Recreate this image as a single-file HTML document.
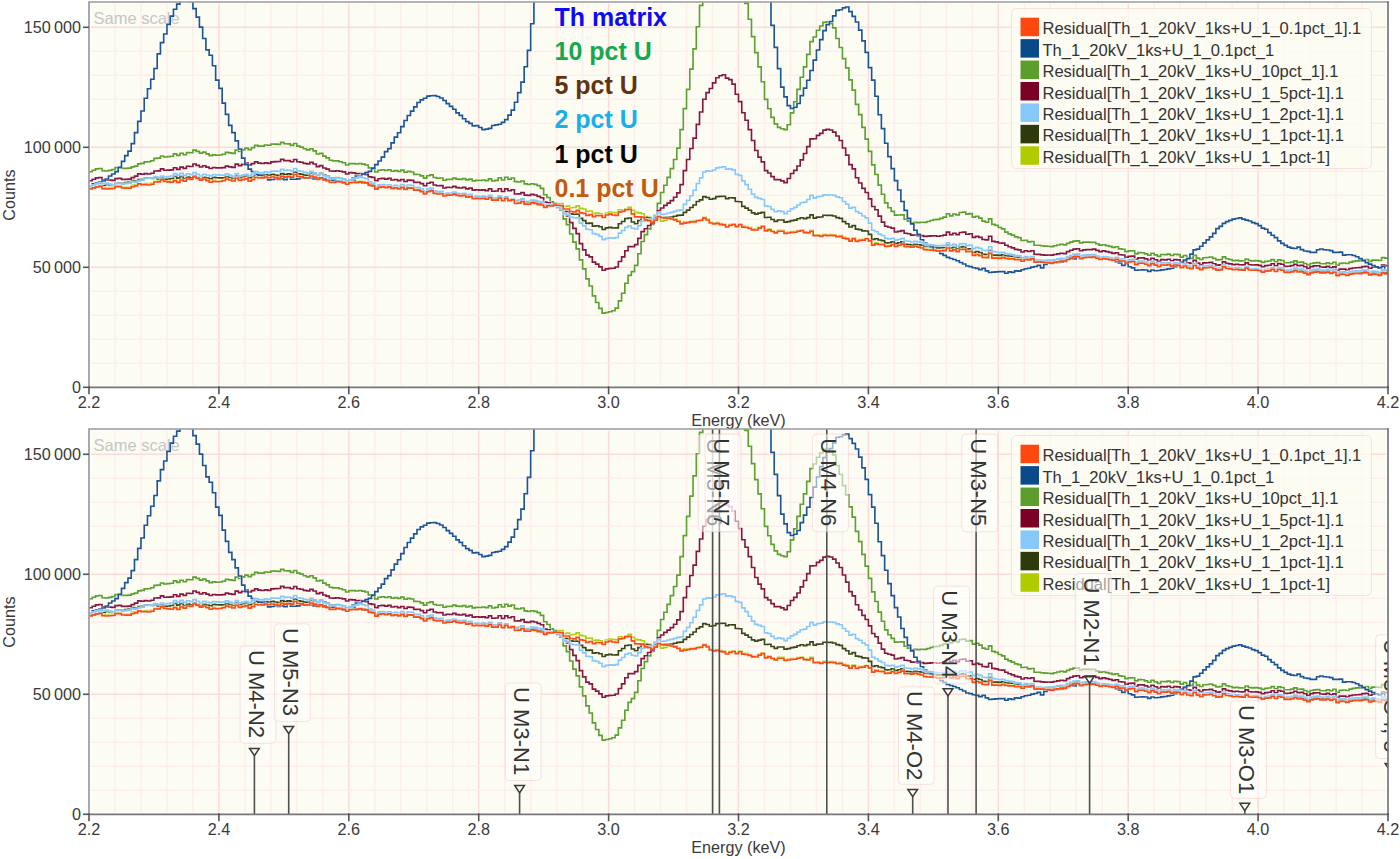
<!DOCTYPE html>
<html><head><meta charset="utf-8"><title>Spectrum</title>
<style>html,body{margin:0;padding:0;background:#fff;} svg{display:block;}</style></head>
<body><svg width="1400" height="859" viewBox="0 0 1400 859">
<clipPath id="clip0"><rect x="89.0" y="2.0" width="1299.0" height="385.3"/></clipPath>
<clipPath id="gclip0"><rect x="90.8" y="3.8" width="1295.4" height="381.7"/></clipPath>
<rect x="90.8" y="3.8" width="1295.4" height="381.7" fill="#FCFCF2"/>
<g clip-path="url(#gclip0)"><line x1="114.98" y1="2.0" x2="114.98" y2="387.3" stroke="#FCEEEE" stroke-width="1.5"/><line x1="140.96" y1="2.0" x2="140.96" y2="387.3" stroke="#FCEEEE" stroke-width="1.5"/><line x1="166.94" y1="2.0" x2="166.94" y2="387.3" stroke="#FCEEEE" stroke-width="1.5"/><line x1="192.92" y1="2.0" x2="192.92" y2="387.3" stroke="#FCEEEE" stroke-width="1.5"/><line x1="218.90" y1="2.0" x2="218.90" y2="387.3" stroke="#FCDADA" stroke-width="1.5"/><line x1="244.88" y1="2.0" x2="244.88" y2="387.3" stroke="#FCEEEE" stroke-width="1.5"/><line x1="270.86" y1="2.0" x2="270.86" y2="387.3" stroke="#FCEEEE" stroke-width="1.5"/><line x1="296.84" y1="2.0" x2="296.84" y2="387.3" stroke="#FCEEEE" stroke-width="1.5"/><line x1="322.82" y1="2.0" x2="322.82" y2="387.3" stroke="#FCEEEE" stroke-width="1.5"/><line x1="348.80" y1="2.0" x2="348.80" y2="387.3" stroke="#FCDADA" stroke-width="1.5"/><line x1="374.78" y1="2.0" x2="374.78" y2="387.3" stroke="#FCEEEE" stroke-width="1.5"/><line x1="400.76" y1="2.0" x2="400.76" y2="387.3" stroke="#FCEEEE" stroke-width="1.5"/><line x1="426.74" y1="2.0" x2="426.74" y2="387.3" stroke="#FCEEEE" stroke-width="1.5"/><line x1="452.72" y1="2.0" x2="452.72" y2="387.3" stroke="#FCEEEE" stroke-width="1.5"/><line x1="478.70" y1="2.0" x2="478.70" y2="387.3" stroke="#FCDADA" stroke-width="1.5"/><line x1="504.68" y1="2.0" x2="504.68" y2="387.3" stroke="#FCEEEE" stroke-width="1.5"/><line x1="530.66" y1="2.0" x2="530.66" y2="387.3" stroke="#FCEEEE" stroke-width="1.5"/><line x1="556.64" y1="2.0" x2="556.64" y2="387.3" stroke="#FCEEEE" stroke-width="1.5"/><line x1="582.62" y1="2.0" x2="582.62" y2="387.3" stroke="#FCEEEE" stroke-width="1.5"/><line x1="608.60" y1="2.0" x2="608.60" y2="387.3" stroke="#FCDADA" stroke-width="1.5"/><line x1="634.58" y1="2.0" x2="634.58" y2="387.3" stroke="#FCEEEE" stroke-width="1.5"/><line x1="660.56" y1="2.0" x2="660.56" y2="387.3" stroke="#FCEEEE" stroke-width="1.5"/><line x1="686.54" y1="2.0" x2="686.54" y2="387.3" stroke="#FCEEEE" stroke-width="1.5"/><line x1="712.52" y1="2.0" x2="712.52" y2="387.3" stroke="#FCEEEE" stroke-width="1.5"/><line x1="738.50" y1="2.0" x2="738.50" y2="387.3" stroke="#FCDADA" stroke-width="1.5"/><line x1="764.48" y1="2.0" x2="764.48" y2="387.3" stroke="#FCEEEE" stroke-width="1.5"/><line x1="790.46" y1="2.0" x2="790.46" y2="387.3" stroke="#FCEEEE" stroke-width="1.5"/><line x1="816.44" y1="2.0" x2="816.44" y2="387.3" stroke="#FCEEEE" stroke-width="1.5"/><line x1="842.42" y1="2.0" x2="842.42" y2="387.3" stroke="#FCEEEE" stroke-width="1.5"/><line x1="868.40" y1="2.0" x2="868.40" y2="387.3" stroke="#FCDADA" stroke-width="1.5"/><line x1="894.38" y1="2.0" x2="894.38" y2="387.3" stroke="#FCEEEE" stroke-width="1.5"/><line x1="920.36" y1="2.0" x2="920.36" y2="387.3" stroke="#FCEEEE" stroke-width="1.5"/><line x1="946.34" y1="2.0" x2="946.34" y2="387.3" stroke="#FCEEEE" stroke-width="1.5"/><line x1="972.32" y1="2.0" x2="972.32" y2="387.3" stroke="#FCEEEE" stroke-width="1.5"/><line x1="998.30" y1="2.0" x2="998.30" y2="387.3" stroke="#FCDADA" stroke-width="1.5"/><line x1="1024.28" y1="2.0" x2="1024.28" y2="387.3" stroke="#FCEEEE" stroke-width="1.5"/><line x1="1050.26" y1="2.0" x2="1050.26" y2="387.3" stroke="#FCEEEE" stroke-width="1.5"/><line x1="1076.24" y1="2.0" x2="1076.24" y2="387.3" stroke="#FCEEEE" stroke-width="1.5"/><line x1="1102.22" y1="2.0" x2="1102.22" y2="387.3" stroke="#FCEEEE" stroke-width="1.5"/><line x1="1128.20" y1="2.0" x2="1128.20" y2="387.3" stroke="#FCDADA" stroke-width="1.5"/><line x1="1154.18" y1="2.0" x2="1154.18" y2="387.3" stroke="#FCEEEE" stroke-width="1.5"/><line x1="1180.16" y1="2.0" x2="1180.16" y2="387.3" stroke="#FCEEEE" stroke-width="1.5"/><line x1="1206.14" y1="2.0" x2="1206.14" y2="387.3" stroke="#FCEEEE" stroke-width="1.5"/><line x1="1232.12" y1="2.0" x2="1232.12" y2="387.3" stroke="#FCEEEE" stroke-width="1.5"/><line x1="1258.10" y1="2.0" x2="1258.10" y2="387.3" stroke="#FCDADA" stroke-width="1.5"/><line x1="1284.08" y1="2.0" x2="1284.08" y2="387.3" stroke="#FCEEEE" stroke-width="1.5"/><line x1="1310.06" y1="2.0" x2="1310.06" y2="387.3" stroke="#FCEEEE" stroke-width="1.5"/><line x1="1336.04" y1="2.0" x2="1336.04" y2="387.3" stroke="#FCEEEE" stroke-width="1.5"/><line x1="1362.02" y1="2.0" x2="1362.02" y2="387.3" stroke="#FCEEEE" stroke-width="1.5"/><line x1="89.0" y1="363.30" x2="1388.0" y2="363.30" stroke="#FCEEEE" stroke-width="1.5"/><line x1="89.0" y1="339.30" x2="1388.0" y2="339.30" stroke="#FCEEEE" stroke-width="1.5"/><line x1="89.0" y1="315.30" x2="1388.0" y2="315.30" stroke="#FCEEEE" stroke-width="1.5"/><line x1="89.0" y1="291.30" x2="1388.0" y2="291.30" stroke="#FCEEEE" stroke-width="1.5"/><line x1="89.0" y1="267.30" x2="1388.0" y2="267.30" stroke="#FCDADA" stroke-width="1.5"/><line x1="89.0" y1="243.30" x2="1388.0" y2="243.30" stroke="#FCEEEE" stroke-width="1.5"/><line x1="89.0" y1="219.30" x2="1388.0" y2="219.30" stroke="#FCEEEE" stroke-width="1.5"/><line x1="89.0" y1="195.30" x2="1388.0" y2="195.30" stroke="#FCEEEE" stroke-width="1.5"/><line x1="89.0" y1="171.30" x2="1388.0" y2="171.30" stroke="#FCEEEE" stroke-width="1.5"/><line x1="89.0" y1="147.30" x2="1388.0" y2="147.30" stroke="#FCDADA" stroke-width="1.5"/><line x1="89.0" y1="123.30" x2="1388.0" y2="123.30" stroke="#FCEEEE" stroke-width="1.5"/><line x1="89.0" y1="99.30" x2="1388.0" y2="99.30" stroke="#FCEEEE" stroke-width="1.5"/><line x1="89.0" y1="75.30" x2="1388.0" y2="75.30" stroke="#FCEEEE" stroke-width="1.5"/><line x1="89.0" y1="51.30" x2="1388.0" y2="51.30" stroke="#FCEEEE" stroke-width="1.5"/><line x1="89.0" y1="27.30" x2="1388.0" y2="27.30" stroke="#FCDADA" stroke-width="1.5"/><line x1="89.0" y1="3.30" x2="1388.0" y2="3.30" stroke="#FCEEEE" stroke-width="1.5"/></g>
<text x="93.5" y="24" font-family="Liberation Sans, sans-serif" font-size="16.5" fill="#C6C6C6">Same scale</text>
<g clip-path="url(#clip0)"><path d="M89.00,188.15H92.25V187.00H95.50V186.03H98.74V186.53H101.99V188.41H105.24V187.81H108.48V187.38H111.73V187.78H114.98V186.09H118.23V185.96H121.47V187.07H124.72V187.31H127.97V187.21H131.22V185.15H134.47V184.73H137.71V183.78H140.96V184.41H144.21V183.58H147.45V183.65H150.70V183.33H153.95V181.37H157.20V180.83H160.44V179.33H163.69V180.90H166.94V181.09H170.19V181.27H173.44V179.79H176.68V181.61H179.93V179.19H183.18V180.35H186.43V178.15H189.67V178.48H192.92V176.29H196.17V177.68H199.42V179.28H202.66V178.19H205.91V179.91H209.16V181.31H212.41V180.41H215.65V181.00H218.90V180.72H222.15V179.95H225.40V178.38H228.64V179.26H231.89V180.24H235.14V177.54H238.38V179.64H241.63V178.87H244.88V178.05H248.13V180.24H251.38V178.80H254.62V176.62H257.87V177.26H261.12V177.13H264.37V176.20H267.61V176.91H270.86V176.20H274.11V176.83H277.36V177.50H280.60V175.59H283.85V176.38H287.10V175.78H290.35V176.31H293.59V173.70H296.84V175.68H300.09V176.02H303.34V177.01H306.58V177.32H309.83V175.32H313.08V176.23H316.32V178.49H319.57V177.03H322.82V179.03H326.07V179.90H329.31V181.59H332.56V181.50H335.81V180.95H339.06V181.29H342.31V181.68H345.55V183.37H348.80V181.67H352.05V181.78H355.30V182.00H358.54V181.17H361.79V181.58H365.04V182.24H368.29V184.38H371.53V184.81H374.78V188.28H378.03V186.52H381.27V186.01H384.52V186.78H387.77V186.07H391.02V187.58H394.26V186.94H397.51V187.86H400.76V186.58H404.01V188.49H407.25V187.12H410.50V187.30H413.75V189.37H417.00V189.35H420.25V190.84H423.49V193.22H426.74V190.93H429.99V190.05H433.24V192.67H436.48V193.24H439.73V192.94H442.98V195.18H446.23V194.33H449.47V194.47H452.72V193.36H455.97V194.56H459.21V195.07H462.46V194.55H465.71V196.24H468.96V195.79H472.20V197.92H475.45V197.61H478.70V197.87H481.95V197.56H485.19V198.25H488.44V196.81H491.69V199.40H494.94V199.35H498.19V197.18H501.43V199.91H504.68V197.69H507.93V200.22H511.18V199.19H514.42V201.56H517.67V202.08H520.92V200.79H524.16V203.26H527.41V203.40H530.66V202.33H533.91V202.75H537.15V203.64H540.40V204.12H543.65V206.56H546.90V204.76H550.14V204.59H553.39V203.40H556.64V203.50H559.89V203.53H563.13V206.65H566.38V206.06H569.63V207.72H572.88V207.51H576.12V205.94H579.37V208.37H582.62V208.97H585.87V211.28H589.12V211.01H592.36V213.67H595.61V213.08H598.86V213.77H602.11V215.76H605.35V213.03H608.60V212.01H611.85V212.64H615.10V212.94H618.34V209.70H621.59V210.03H624.84V208.84H628.09V207.42H631.33V210.23H634.58V212.42H637.83V212.81H641.08V213.71H644.32V216.64H647.57V217.25H650.82V218.57H654.07V218.51H657.31V218.87H660.56V221.09H663.81V220.30H667.05V219.18H670.30V218.53H673.55V218.82H676.80V220.90H680.04V222.84H683.29V221.87H686.54V221.74H689.79V221.20H693.03V220.99H696.28V220.12H699.53V219.94H702.78V217.36H706.02V219.08H709.27V222.24H712.52V223.01H715.77V222.54H719.01V223.55H722.26V224.02H725.51V226.23H728.76V224.62H732.00V223.70H735.25V225.87H738.50V223.89H741.75V226.39H745.00V226.63H748.24V227.54H751.49V229.00H754.74V229.17H757.99V227.32H761.23V225.86H764.48V230.13H767.73V229.06H770.98V230.70H774.22V232.18H777.47V230.41H780.72V230.37H783.97V232.61H787.21V232.17H790.46V231.55H793.71V231.55H796.96V230.53H800.20V229.91H803.45V231.81H806.70V232.05H809.95V230.39H813.19V234.90H816.44V234.82H819.69V235.50H822.93V234.41H826.18V234.80H829.43V234.56H832.68V234.79H835.92V236.05H839.17V235.57H842.42V237.22H845.67V238.02H848.91V240.32H852.16V238.12H855.41V240.60H858.66V239.51H861.90V239.28H865.15V238.24H868.40V240.60H871.65V244.22H874.89V242.93H878.14V243.66H881.39V243.91H884.64V245.78H887.88V245.24H891.13V243.87H894.38V245.65H897.63V244.53H900.88V243.37H904.12V245.82H907.37V245.90H910.62V246.34H913.87V245.47H917.11V246.37H920.36V247.13H923.61V248.78H926.86V249.22H930.10V249.28H933.35V249.44H936.60V250.19H939.85V250.01H943.09V249.75H946.34V247.20H949.59V250.09H952.84V249.07H956.08V250.75H959.33V248.74H962.58V248.60H965.83V250.96H969.07V250.63H972.32V254.55H975.57V253.64H978.82V254.71H982.06V256.66H985.31V256.81H988.56V252.66H991.80V257.30H995.05V257.28H998.30V257.63H1001.55V256.80H1004.79V257.73H1008.04V258.02H1011.29V258.12H1014.54V258.94H1017.78V258.84H1021.03V260.43H1024.28V258.75H1027.53V259.10H1030.78V258.03H1034.02V261.32H1037.27V261.04H1040.52V261.40H1043.76V261.94H1047.01V261.96H1050.26V262.00H1053.51V261.39H1056.76V261.08H1060.00V260.37H1063.25V260.60H1066.50V258.70H1069.74V257.18H1072.99V256.23H1076.24V255.88H1079.49V257.77H1082.74V256.90H1085.98V256.74H1089.23V256.62H1092.48V256.24H1095.72V257.49H1098.97V258.65H1102.22V257.84H1105.47V258.38H1108.72V258.83H1111.96V259.59H1115.21V258.54H1118.46V260.25H1121.70V260.16H1124.95V262.17H1128.20V261.08H1131.45V260.72H1134.69V263.79H1137.94V262.42H1141.19V262.44H1144.44V263.41H1147.68V264.76H1150.93V262.82H1154.18V264.36H1157.43V265.99H1160.67V264.16H1163.92V264.43H1167.17V263.89H1170.42V265.34H1173.66V264.15H1176.91V264.50H1180.16V266.88H1183.41V265.15H1186.65V267.17H1189.90V267.81H1193.15V264.73H1196.40V267.39H1199.64V268.87H1202.89V267.14H1206.14V266.99H1209.39V266.49H1212.63V267.92H1215.88V269.38H1219.13V269.06H1222.38V266.08H1225.62V267.68H1228.87V268.11H1232.12V268.94H1235.37V268.60H1238.62V269.08H1241.86V269.25H1245.11V267.36H1248.36V269.15H1251.61V269.48H1254.85V269.33H1258.10V269.99H1261.35V271.35H1264.60V270.34H1267.84V270.02H1271.09V268.62H1274.34V270.66H1277.59V268.74H1280.83V269.40H1284.08V271.61H1287.33V271.65H1290.58V271.05H1293.82V269.80H1297.07V271.15H1300.32V271.00H1303.57V272.30H1306.81V273.87H1310.06V272.13H1313.31V271.32H1316.56V271.06H1319.80V272.14H1323.05V272.11H1326.30V271.31H1329.55V272.53H1332.79V271.46H1336.04V274.98H1339.29V273.61H1342.54V273.70H1345.78V274.57H1349.03V273.35H1352.28V272.85H1355.53V272.70H1358.77V272.83H1362.02V272.04H1365.27V271.99H1368.52V274.08H1371.76V273.28H1375.01V273.72H1378.26V274.51H1381.51V272.12H1384.75V273.02H1388.00" fill="none" stroke="rgba(255,255,255,0.55)" stroke-width="2.8"/><path d="M89.00,188.15H92.25V187.00H95.50V186.03H98.74V186.53H101.99V188.41H105.24V187.81H108.48V187.38H111.73V187.78H114.98V186.09H118.23V185.96H121.47V187.07H124.72V187.31H127.97V187.21H131.22V185.15H134.47V184.73H137.71V183.78H140.96V184.41H144.21V183.58H147.45V183.65H150.70V183.33H153.95V181.37H157.20V180.83H160.44V179.33H163.69V180.90H166.94V181.09H170.19V181.27H173.44V179.79H176.68V181.61H179.93V179.19H183.18V180.35H186.43V178.15H189.67V178.48H192.92V176.29H196.17V177.68H199.42V179.28H202.66V178.19H205.91V179.91H209.16V181.31H212.41V180.41H215.65V181.00H218.90V180.72H222.15V179.95H225.40V178.38H228.64V179.26H231.89V180.24H235.14V177.54H238.38V179.64H241.63V178.87H244.88V178.05H248.13V180.24H251.38V178.80H254.62V176.62H257.87V177.26H261.12V177.13H264.37V176.20H267.61V176.91H270.86V176.20H274.11V176.83H277.36V177.50H280.60V175.59H283.85V176.38H287.10V175.78H290.35V176.31H293.59V173.70H296.84V175.68H300.09V176.02H303.34V177.01H306.58V177.32H309.83V175.32H313.08V176.23H316.32V178.49H319.57V177.03H322.82V179.03H326.07V179.90H329.31V181.59H332.56V181.50H335.81V180.95H339.06V181.29H342.31V181.68H345.55V183.37H348.80V181.67H352.05V181.78H355.30V182.00H358.54V181.17H361.79V181.58H365.04V182.24H368.29V184.38H371.53V184.81H374.78V188.28H378.03V186.52H381.27V186.01H384.52V186.78H387.77V186.07H391.02V187.58H394.26V186.94H397.51V187.86H400.76V186.58H404.01V188.49H407.25V187.12H410.50V187.30H413.75V189.37H417.00V189.35H420.25V190.84H423.49V193.22H426.74V190.93H429.99V190.05H433.24V192.67H436.48V193.24H439.73V192.94H442.98V195.18H446.23V194.33H449.47V194.47H452.72V193.36H455.97V194.56H459.21V195.07H462.46V194.55H465.71V196.24H468.96V195.79H472.20V197.92H475.45V197.61H478.70V197.87H481.95V197.56H485.19V198.25H488.44V196.81H491.69V199.40H494.94V199.35H498.19V197.18H501.43V199.91H504.68V197.69H507.93V200.22H511.18V199.19H514.42V201.56H517.67V202.08H520.92V200.79H524.16V203.26H527.41V203.40H530.66V202.33H533.91V202.75H537.15V203.64H540.40V204.12H543.65V206.56H546.90V204.76H550.14V204.59H553.39V203.40H556.64V203.50H559.89V203.53H563.13V206.65H566.38V206.06H569.63V207.72H572.88V207.51H576.12V205.94H579.37V208.37H582.62V208.97H585.87V211.28H589.12V211.01H592.36V213.67H595.61V213.08H598.86V213.77H602.11V215.76H605.35V213.03H608.60V212.01H611.85V212.64H615.10V212.94H618.34V209.70H621.59V210.03H624.84V208.84H628.09V207.42H631.33V210.23H634.58V212.42H637.83V212.81H641.08V213.71H644.32V216.64H647.57V217.25H650.82V218.57H654.07V218.51H657.31V218.87H660.56V221.09H663.81V220.30H667.05V219.18H670.30V218.53H673.55V218.82H676.80V220.90H680.04V222.84H683.29V221.87H686.54V221.74H689.79V221.20H693.03V220.99H696.28V220.12H699.53V219.94H702.78V217.36H706.02V219.08H709.27V222.24H712.52V223.01H715.77V222.54H719.01V223.55H722.26V224.02H725.51V226.23H728.76V224.62H732.00V223.70H735.25V225.87H738.50V223.89H741.75V226.39H745.00V226.63H748.24V227.54H751.49V229.00H754.74V229.17H757.99V227.32H761.23V225.86H764.48V230.13H767.73V229.06H770.98V230.70H774.22V232.18H777.47V230.41H780.72V230.37H783.97V232.61H787.21V232.17H790.46V231.55H793.71V231.55H796.96V230.53H800.20V229.91H803.45V231.81H806.70V232.05H809.95V230.39H813.19V234.90H816.44V234.82H819.69V235.50H822.93V234.41H826.18V234.80H829.43V234.56H832.68V234.79H835.92V236.05H839.17V235.57H842.42V237.22H845.67V238.02H848.91V240.32H852.16V238.12H855.41V240.60H858.66V239.51H861.90V239.28H865.15V238.24H868.40V240.60H871.65V244.22H874.89V242.93H878.14V243.66H881.39V243.91H884.64V245.78H887.88V245.24H891.13V243.87H894.38V245.65H897.63V244.53H900.88V243.37H904.12V245.82H907.37V245.90H910.62V246.34H913.87V245.47H917.11V246.37H920.36V247.13H923.61V248.78H926.86V249.22H930.10V249.28H933.35V249.44H936.60V250.19H939.85V250.01H943.09V249.75H946.34V247.20H949.59V250.09H952.84V249.07H956.08V250.75H959.33V248.74H962.58V248.60H965.83V250.96H969.07V250.63H972.32V254.55H975.57V253.64H978.82V254.71H982.06V256.66H985.31V256.81H988.56V252.66H991.80V257.30H995.05V257.28H998.30V257.63H1001.55V256.80H1004.79V257.73H1008.04V258.02H1011.29V258.12H1014.54V258.94H1017.78V258.84H1021.03V260.43H1024.28V258.75H1027.53V259.10H1030.78V258.03H1034.02V261.32H1037.27V261.04H1040.52V261.40H1043.76V261.94H1047.01V261.96H1050.26V262.00H1053.51V261.39H1056.76V261.08H1060.00V260.37H1063.25V260.60H1066.50V258.70H1069.74V257.18H1072.99V256.23H1076.24V255.88H1079.49V257.77H1082.74V256.90H1085.98V256.74H1089.23V256.62H1092.48V256.24H1095.72V257.49H1098.97V258.65H1102.22V257.84H1105.47V258.38H1108.72V258.83H1111.96V259.59H1115.21V258.54H1118.46V260.25H1121.70V260.16H1124.95V262.17H1128.20V261.08H1131.45V260.72H1134.69V263.79H1137.94V262.42H1141.19V262.44H1144.44V263.41H1147.68V264.76H1150.93V262.82H1154.18V264.36H1157.43V265.99H1160.67V264.16H1163.92V264.43H1167.17V263.89H1170.42V265.34H1173.66V264.15H1176.91V264.50H1180.16V266.88H1183.41V265.15H1186.65V267.17H1189.90V267.81H1193.15V264.73H1196.40V267.39H1199.64V268.87H1202.89V267.14H1206.14V266.99H1209.39V266.49H1212.63V267.92H1215.88V269.38H1219.13V269.06H1222.38V266.08H1225.62V267.68H1228.87V268.11H1232.12V268.94H1235.37V268.60H1238.62V269.08H1241.86V269.25H1245.11V267.36H1248.36V269.15H1251.61V269.48H1254.85V269.33H1258.10V269.99H1261.35V271.35H1264.60V270.34H1267.84V270.02H1271.09V268.62H1274.34V270.66H1277.59V268.74H1280.83V269.40H1284.08V271.61H1287.33V271.65H1290.58V271.05H1293.82V269.80H1297.07V271.15H1300.32V271.00H1303.57V272.30H1306.81V273.87H1310.06V272.13H1313.31V271.32H1316.56V271.06H1319.80V272.14H1323.05V272.11H1326.30V271.31H1329.55V272.53H1332.79V271.46H1336.04V274.98H1339.29V273.61H1342.54V273.70H1345.78V274.57H1349.03V273.35H1352.28V272.85H1355.53V272.70H1358.77V272.83H1362.02V272.04H1365.27V271.99H1368.52V274.08H1371.76V273.28H1375.01V273.72H1378.26V274.51H1381.51V272.12H1384.75V273.02H1388.00" fill="none" stroke="#ACCE10" stroke-width="1.65"/><path d="M89.00,188.20H92.25V187.88H95.50V186.78H98.74V185.65H101.99V185.48H105.24V184.45H108.48V184.85H111.73V185.48H114.98V183.32H118.23V182.72H121.47V183.24H124.72V182.67H127.97V182.01H131.22V180.67H134.47V181.10H137.71V179.62H140.96V179.22H144.21V177.84H147.45V178.13H150.70V178.43H153.95V177.72H157.20V178.98H160.44V177.90H163.69V179.16H166.94V178.95H170.19V178.54H173.44V176.36H176.68V178.06H179.93V176.43H183.18V178.51H186.43V176.97H189.67V177.86H192.92V175.93H196.17V177.46H199.42V179.09H202.66V177.35H205.91V177.99H209.16V178.76H212.41V177.37H215.65V177.73H218.90V177.85H222.15V177.72H225.40V176.46H228.64V177.52H231.89V178.53H235.14V175.73H238.38V177.67H241.63V176.76H244.88V175.82H248.13V177.92H251.38V176.54H254.62V174.50H257.87V175.38H261.12V175.58H264.37V174.67H267.61V175.26H270.86V174.43H274.11V174.98H277.36V175.61H280.60V173.69H283.85V174.48H287.10V173.88H290.35V174.41H293.59V171.80H296.84V173.78H300.09V174.12H303.34V175.11H306.58V175.33H309.83V173.15H313.08V173.78H316.32V175.35H319.57V173.34H322.82V175.17H326.07V176.02H329.31V177.81H332.56V177.90H335.81V177.62H339.06V178.23H342.31V178.97H345.55V181.19H348.80V180.02H352.05V180.71H355.30V181.95H358.54V182.20H361.79V182.83H365.04V182.68H368.29V184.30H371.53V184.47H374.78V187.88H378.03V186.40H381.27V186.24H384.52V187.29H387.77V186.80H391.02V188.46H394.26V187.90H397.51V188.81H400.76V187.49H404.01V189.32H407.25V187.84H410.50V187.87H413.75V189.76H417.00V189.55H420.25V190.84H423.49V193.03H426.74V190.58H429.99V189.58H433.24V192.15H436.48V192.72H439.73V192.44H442.98V194.69H446.23V193.88H449.47V194.04H452.72V192.97H455.97V194.17H459.21V194.62H462.46V193.99H465.71V195.53H468.96V194.87H472.20V196.87H475.45V196.52H478.70V196.78H481.95V196.51H485.19V197.28H488.44V195.92H491.69V198.61H494.94V198.71H498.19V196.79H501.43V199.78H504.68V197.73H507.93V200.24H511.18V199.03H514.42V200.72H517.67V200.38H520.92V199.15H524.16V201.96H527.41V202.49H530.66V201.58H533.91V202.14H537.15V203.20H540.40V203.39H543.65V205.93H546.90V204.78H550.14V205.42H553.39V204.99H556.64V205.61H559.89V206.77H563.13V211.32H566.38V211.63H569.63V213.81H572.88V214.27H576.12V214.09H579.37V218.44H582.62V220.56H585.87V223.32H589.12V223.08H592.36V226.05H595.61V225.75H598.86V226.78H602.11V229.53H605.35V227.86H608.60V227.41H611.85V227.98H615.10V227.88H618.34V223.75H621.59V221.50H624.84V218.49H628.09V217.96H631.33V222.04H634.58V223.76H637.83V220.68H641.08V217.12H644.32V217.55H647.57V218.04H650.82V219.75H654.07V218.43H657.31V216.41H660.56V217.50H663.81V217.42H667.05V217.30H670.30V217.14H673.55V216.28H676.80V215.34H680.04V215.16H683.29V212.31H686.54V210.05H689.79V207.46H693.03V204.99H696.28V201.50H699.53V199.87H702.78V196.66H706.02V197.51H709.27V199.25H712.52V198.58H715.77V196.63H719.01V196.38H722.26V196.20H725.51V198.60H728.76V197.75H732.00V197.82H735.25V201.51H738.50V201.74H741.75V206.36H745.00V208.11H748.24V210.28H751.49V212.88H754.74V214.08H757.99V213.13H761.23V212.44H764.48V217.54H767.73V217.27H770.98V219.46H774.22V221.35H777.47V219.97H780.72V220.03H783.97V222.18H787.21V221.59H790.46V220.68H793.71V220.19H796.96V218.74H800.20V217.72H803.45V218.59H806.70V217.56H809.95V214.80H813.19V218.18H816.44V217.13H819.69V216.97H822.93V215.27H826.18V215.41H829.43V215.34H832.68V215.98H835.92V217.68H839.17V218.36H842.42V221.57H845.67V223.71H848.91V226.98H852.16V225.58H855.41V229.18H858.66V229.59H861.90V230.82H865.15V230.99H868.40V234.39H871.65V239.30H874.89V238.79H878.14V240.04H881.39V240.63H884.64V242.85H887.88V242.78H891.13V241.70H894.38V243.64H897.63V242.75H900.88V241.78H904.12V244.37H907.37V244.58H910.62V245.19H913.87V244.30H917.11V244.76H920.36V245.12H923.61V246.30H926.86V246.48H930.10V246.64H933.35V246.95H936.60V247.81H939.85V247.71H943.09V247.52H946.34V245.03H949.59V247.98H952.84V247.02H956.08V248.76H959.33V246.83H962.58V246.66H965.83V249.01H969.07V248.73H972.32V252.49H975.57V251.48H978.82V252.50H982.06V254.37H985.31V254.50H988.56V250.38H991.80V255.07H995.05V255.06H998.30V255.44H1001.55V254.64H1004.79V255.60H1008.04V255.93H1011.29V256.09H1014.54V256.99H1017.78V257.07H1021.03V258.88H1024.28V257.46H1027.53V258.07H1030.78V257.25H1034.02V260.73H1037.27V260.58H1040.52V260.87H1043.76V260.90H1047.01V260.55H1050.26V260.69H1053.51V260.02H1056.76V259.50H1060.00V258.96H1063.25V259.40H1066.50V257.65H1069.74V256.32H1072.99V255.27H1076.24V254.94H1079.49V256.98H1082.74V256.12H1085.98V255.94H1089.23V255.83H1092.48V255.44H1095.72V256.69H1098.97V257.84H1102.22V257.05H1105.47V257.60H1108.72V258.06H1111.96V258.85H1115.21V257.82H1118.46V259.55H1121.70V259.49H1124.95V261.52H1128.20V260.46H1131.45V260.13H1134.69V263.22H1137.94V261.87H1141.19V261.91H1144.44V262.91H1147.68V264.29H1150.93V262.38H1154.18V263.95H1157.43V265.60H1160.67V263.79H1163.92V264.08H1167.17V263.56H1170.42V265.02H1173.66V263.85H1176.91V264.21H1180.16V266.59H1183.41V264.86H1186.65V266.88H1189.90V267.51H1193.15V264.43H1196.40V267.08H1199.64V268.55H1202.89V266.83H1206.14V266.67H1209.39V266.18H1212.63V267.61H1215.88V269.08H1219.13V268.77H1222.38V265.81H1225.62V267.43H1228.87V267.88H1232.12V268.73H1235.37V268.41H1238.62V268.92H1241.86V269.11H1245.11V267.24H1248.36V269.05H1251.61V269.39H1254.85V269.24H1258.10V269.89H1261.35V271.24H1264.60V270.21H1267.84V269.84H1271.09V268.39H1274.34V270.37H1277.59V268.38H1280.83V268.98H1284.08V271.13H1287.33V271.11H1290.58V270.45H1293.82V269.15H1297.07V270.47H1300.32V270.31H1303.57V271.60H1306.81V273.18H1310.06V271.47H1313.31V270.70H1316.56V270.48H1319.80V271.62H1323.05V271.64H1326.30V270.89H1329.55V272.15H1332.79V271.13H1336.04V274.67H1339.29V273.32H1342.54V273.42H1345.78V274.27H1349.03V273.03H1352.28V272.50H1355.53V272.33H1358.77V272.43H1362.02V271.61H1365.27V271.53H1368.52V273.59H1371.76V272.74H1375.01V273.14H1378.26V273.87H1381.51V271.43H1384.75V272.29H1388.00" fill="none" stroke="rgba(255,255,255,0.55)" stroke-width="2.8"/><path d="M89.00,188.20H92.25V187.88H95.50V186.78H98.74V185.65H101.99V185.48H105.24V184.45H108.48V184.85H111.73V185.48H114.98V183.32H118.23V182.72H121.47V183.24H124.72V182.67H127.97V182.01H131.22V180.67H134.47V181.10H137.71V179.62H140.96V179.22H144.21V177.84H147.45V178.13H150.70V178.43H153.95V177.72H157.20V178.98H160.44V177.90H163.69V179.16H166.94V178.95H170.19V178.54H173.44V176.36H176.68V178.06H179.93V176.43H183.18V178.51H186.43V176.97H189.67V177.86H192.92V175.93H196.17V177.46H199.42V179.09H202.66V177.35H205.91V177.99H209.16V178.76H212.41V177.37H215.65V177.73H218.90V177.85H222.15V177.72H225.40V176.46H228.64V177.52H231.89V178.53H235.14V175.73H238.38V177.67H241.63V176.76H244.88V175.82H248.13V177.92H251.38V176.54H254.62V174.50H257.87V175.38H261.12V175.58H264.37V174.67H267.61V175.26H270.86V174.43H274.11V174.98H277.36V175.61H280.60V173.69H283.85V174.48H287.10V173.88H290.35V174.41H293.59V171.80H296.84V173.78H300.09V174.12H303.34V175.11H306.58V175.33H309.83V173.15H313.08V173.78H316.32V175.35H319.57V173.34H322.82V175.17H326.07V176.02H329.31V177.81H332.56V177.90H335.81V177.62H339.06V178.23H342.31V178.97H345.55V181.19H348.80V180.02H352.05V180.71H355.30V181.95H358.54V182.20H361.79V182.83H365.04V182.68H368.29V184.30H371.53V184.47H374.78V187.88H378.03V186.40H381.27V186.24H384.52V187.29H387.77V186.80H391.02V188.46H394.26V187.90H397.51V188.81H400.76V187.49H404.01V189.32H407.25V187.84H410.50V187.87H413.75V189.76H417.00V189.55H420.25V190.84H423.49V193.03H426.74V190.58H429.99V189.58H433.24V192.15H436.48V192.72H439.73V192.44H442.98V194.69H446.23V193.88H449.47V194.04H452.72V192.97H455.97V194.17H459.21V194.62H462.46V193.99H465.71V195.53H468.96V194.87H472.20V196.87H475.45V196.52H478.70V196.78H481.95V196.51H485.19V197.28H488.44V195.92H491.69V198.61H494.94V198.71H498.19V196.79H501.43V199.78H504.68V197.73H507.93V200.24H511.18V199.03H514.42V200.72H517.67V200.38H520.92V199.15H524.16V201.96H527.41V202.49H530.66V201.58H533.91V202.14H537.15V203.20H540.40V203.39H543.65V205.93H546.90V204.78H550.14V205.42H553.39V204.99H556.64V205.61H559.89V206.77H563.13V211.32H566.38V211.63H569.63V213.81H572.88V214.27H576.12V214.09H579.37V218.44H582.62V220.56H585.87V223.32H589.12V223.08H592.36V226.05H595.61V225.75H598.86V226.78H602.11V229.53H605.35V227.86H608.60V227.41H611.85V227.98H615.10V227.88H618.34V223.75H621.59V221.50H624.84V218.49H628.09V217.96H631.33V222.04H634.58V223.76H637.83V220.68H641.08V217.12H644.32V217.55H647.57V218.04H650.82V219.75H654.07V218.43H657.31V216.41H660.56V217.50H663.81V217.42H667.05V217.30H670.30V217.14H673.55V216.28H676.80V215.34H680.04V215.16H683.29V212.31H686.54V210.05H689.79V207.46H693.03V204.99H696.28V201.50H699.53V199.87H702.78V196.66H706.02V197.51H709.27V199.25H712.52V198.58H715.77V196.63H719.01V196.38H722.26V196.20H725.51V198.60H728.76V197.75H732.00V197.82H735.25V201.51H738.50V201.74H741.75V206.36H745.00V208.11H748.24V210.28H751.49V212.88H754.74V214.08H757.99V213.13H761.23V212.44H764.48V217.54H767.73V217.27H770.98V219.46H774.22V221.35H777.47V219.97H780.72V220.03H783.97V222.18H787.21V221.59H790.46V220.68H793.71V220.19H796.96V218.74H800.20V217.72H803.45V218.59H806.70V217.56H809.95V214.80H813.19V218.18H816.44V217.13H819.69V216.97H822.93V215.27H826.18V215.41H829.43V215.34H832.68V215.98H835.92V217.68H839.17V218.36H842.42V221.57H845.67V223.71H848.91V226.98H852.16V225.58H855.41V229.18H858.66V229.59H861.90V230.82H865.15V230.99H868.40V234.39H871.65V239.30H874.89V238.79H878.14V240.04H881.39V240.63H884.64V242.85H887.88V242.78H891.13V241.70H894.38V243.64H897.63V242.75H900.88V241.78H904.12V244.37H907.37V244.58H910.62V245.19H913.87V244.30H917.11V244.76H920.36V245.12H923.61V246.30H926.86V246.48H930.10V246.64H933.35V246.95H936.60V247.81H939.85V247.71H943.09V247.52H946.34V245.03H949.59V247.98H952.84V247.02H956.08V248.76H959.33V246.83H962.58V246.66H965.83V249.01H969.07V248.73H972.32V252.49H975.57V251.48H978.82V252.50H982.06V254.37H985.31V254.50H988.56V250.38H991.80V255.07H995.05V255.06H998.30V255.44H1001.55V254.64H1004.79V255.60H1008.04V255.93H1011.29V256.09H1014.54V256.99H1017.78V257.07H1021.03V258.88H1024.28V257.46H1027.53V258.07H1030.78V257.25H1034.02V260.73H1037.27V260.58H1040.52V260.87H1043.76V260.90H1047.01V260.55H1050.26V260.69H1053.51V260.02H1056.76V259.50H1060.00V258.96H1063.25V259.40H1066.50V257.65H1069.74V256.32H1072.99V255.27H1076.24V254.94H1079.49V256.98H1082.74V256.12H1085.98V255.94H1089.23V255.83H1092.48V255.44H1095.72V256.69H1098.97V257.84H1102.22V257.05H1105.47V257.60H1108.72V258.06H1111.96V258.85H1115.21V257.82H1118.46V259.55H1121.70V259.49H1124.95V261.52H1128.20V260.46H1131.45V260.13H1134.69V263.22H1137.94V261.87H1141.19V261.91H1144.44V262.91H1147.68V264.29H1150.93V262.38H1154.18V263.95H1157.43V265.60H1160.67V263.79H1163.92V264.08H1167.17V263.56H1170.42V265.02H1173.66V263.85H1176.91V264.21H1180.16V266.59H1183.41V264.86H1186.65V266.88H1189.90V267.51H1193.15V264.43H1196.40V267.08H1199.64V268.55H1202.89V266.83H1206.14V266.67H1209.39V266.18H1212.63V267.61H1215.88V269.08H1219.13V268.77H1222.38V265.81H1225.62V267.43H1228.87V267.88H1232.12V268.73H1235.37V268.41H1238.62V268.92H1241.86V269.11H1245.11V267.24H1248.36V269.05H1251.61V269.39H1254.85V269.24H1258.10V269.89H1261.35V271.24H1264.60V270.21H1267.84V269.84H1271.09V268.39H1274.34V270.37H1277.59V268.38H1280.83V268.98H1284.08V271.13H1287.33V271.11H1290.58V270.45H1293.82V269.15H1297.07V270.47H1300.32V270.31H1303.57V271.60H1306.81V273.18H1310.06V271.47H1313.31V270.70H1316.56V270.48H1319.80V271.62H1323.05V271.64H1326.30V270.89H1329.55V272.15H1332.79V271.13H1336.04V274.67H1339.29V273.32H1342.54V273.42H1345.78V274.27H1349.03V273.03H1352.28V272.50H1355.53V272.33H1358.77V272.43H1362.02V271.61H1365.27V271.53H1368.52V273.59H1371.76V272.74H1375.01V273.14H1378.26V273.87H1381.51V271.43H1384.75V272.29H1388.00" fill="none" stroke="#3A4716" stroke-width="1.65"/><path d="M89.00,171.71H92.25V170.21H95.50V168.87H98.74V168.50H101.99V170.78H105.24V171.00H108.48V170.31H111.73V169.56H114.98V167.56H118.23V167.44H121.47V168.44H124.72V168.32H127.97V168.09H131.22V166.82H134.47V166.10H137.71V163.80H140.96V163.33H144.21V161.90H147.45V161.71H150.70V160.74H153.95V158.39H157.20V158.10H160.44V156.02H163.69V157.01H166.94V156.69H170.19V156.21H173.44V153.91H176.68V155.35H179.93V153.22H183.18V154.74H186.43V152.57H189.67V152.72H192.92V150.14H196.17V151.31H199.42V153.11H202.66V152.17H205.91V153.90H209.16V155.69H212.41V154.94H215.65V155.28H218.90V154.99H222.15V154.23H225.40V152.31H228.64V152.83H231.89V153.37H235.14V150.10H238.38V151.52H241.63V149.91H244.88V148.19H248.13V149.58H251.38V147.69H254.62V145.37H257.87V146.05H261.12V146.08H264.37V144.97H267.61V145.25H270.86V143.97H274.11V144.06H277.36V144.37H280.60V142.44H283.85V143.70H287.10V143.90H290.35V145.35H293.59V143.54H296.84V146.17H300.09V147.12H303.34V148.77H306.58V149.80H309.83V148.73H313.08V150.85H316.32V154.00H319.57V153.38H322.82V156.18H326.07V157.80H329.31V160.23H332.56V160.80H335.81V160.82H339.06V161.72H342.31V162.73H345.55V165.03H348.80V163.61H352.05V163.64H355.30V164.03H358.54V163.49H361.79V164.19H365.04V165.01H368.29V167.82H371.53V168.71H374.78V171.98H378.03V170.21H381.27V169.72H384.52V170.47H387.77V169.75H391.02V171.24H394.26V170.57H397.51V171.44H400.76V170.17H404.01V172.24H407.25V171.30H410.50V171.97H413.75V174.40H417.00V174.46H420.25V175.89H423.49V178.17H426.74V175.79H429.99V174.86H433.24V177.54H436.48V178.24H439.73V178.03H442.98V180.29H446.23V179.37H449.47V179.37H452.72V178.12H455.97V179.12H459.21V179.37H462.46V178.55H465.71V179.89H468.96V179.05H472.20V180.85H475.45V180.33H478.70V180.45H481.95V180.03H485.19V180.57H488.44V178.88H491.69V181.01H494.94V180.42H498.19V177.76H501.43V180.04H504.68V177.24H507.93V179.07H511.18V177.95H514.42V181.69H517.67V182.03H520.92V181.02H524.16V183.90H527.41V184.48H530.66V183.72H533.91V184.31H537.15V185.65H540.40V188.30H543.65V194.76H546.90V197.45H550.14V201.82H553.39V203.50H556.64V205.99H559.89V210.21H563.13V218.85H566.38V224.59H569.63V233.99H572.88V242.06H576.12V248.81H579.37V259.85H582.62V268.84H585.87V278.92H589.12V285.97H592.36V295.85H595.61V302.50H598.86V308.40H602.11V313.10H605.35V312.47H608.60V311.77H611.85V310.72H615.10V308.12H618.34V300.85H621.59V293.22H624.84V283.28H628.09V275.31H631.33V271.63H634.58V265.41H637.83V253.72H641.08V241.46H644.32V234.58H647.57V228.94H650.82V224.41H654.07V215.20H657.31V203.40H660.56V192.54H663.81V185.24H667.05V177.38H670.30V168.59H673.55V159.46H676.80V148.08H680.04V129.62H683.29V108.62H686.54V89.42H689.79V69.09H693.03V48.83H696.28V26.71H699.53V5.36H702.78V-13.89H706.02V-27.09H709.27V-36.24H712.52V-44.28H715.77V-50.00H719.01V-50.00H722.26V-50.00H725.51V-50.00H728.76V-50.00H732.00V-46.08H735.25V-36.34H738.50V-27.27H741.75V-10.98H745.00V3.41H748.24V19.25H751.49V36.55H754.74V52.66H757.99V66.80H761.23V81.71H764.48V99.34H767.73V108.76H770.98V117.32H774.22V123.90H777.47V127.41H780.72V128.71H783.97V129.57H787.21V124.75H790.46V112.88H793.71V101.89H796.96V89.37H800.20V77.23H803.45V66.94H806.70V54.44H809.95V41.69H813.19V37.04H816.44V30.20H819.69V25.97H822.93V22.37H826.18V21.73H829.43V23.36H832.68V27.81H835.92V38.51H839.17V47.49H842.42V58.55H845.67V67.91H848.91V79.88H852.16V90.12H855.41V104.40H858.66V114.60H861.90V127.37H865.15V139.05H868.40V151.33H871.65V164.89H874.89V174.45H878.14V185.19H881.39V194.28H884.64V202.84H887.88V207.76H891.13V211.36H894.38V215.19H897.63V215.00H900.88V214.81H904.12V219.22H907.37V221.14H910.62V222.75H913.87V222.43H917.11V222.68H920.36V222.26H923.61V222.38H926.86V221.47H930.10V220.54H933.35V219.67H936.60V219.43H939.85V218.33H943.09V217.16H946.34V213.77H949.59V215.89H952.84V214.02H956.08V214.93H959.33V212.46H962.58V212.06H965.83V214.17H969.07V213.64H972.32V217.16H975.57V216.28H978.82V218.13H982.06V221.11H985.31V222.24H988.56V218.92H991.80V224.40H995.05V225.44H998.30V227.50H1001.55V228.93H1004.79V232.08H1008.04V233.94H1011.29V235.10H1014.54V236.80H1017.78V237.66H1021.03V240.48H1024.28V240.21H1027.53V241.81H1030.78V241.51H1034.02V245.22H1037.27V245.22H1040.52V245.70H1043.76V246.11H1047.01V246.26H1050.26V246.59H1053.51V245.74H1056.76V244.96H1060.00V244.26H1063.25V244.85H1066.50V243.34H1069.74V242.14H1072.99V241.15H1076.24V240.84H1079.49V242.91H1082.74V242.18H1085.98V242.19H1089.23V242.34H1092.48V242.23H1095.72V243.77H1098.97V245.19H1102.22V244.70H1105.47V245.58H1108.72V246.35H1111.96V247.43H1115.21V246.76H1118.46V248.89H1121.70V249.23H1124.95V251.64H1128.20V250.87H1131.45V250.74H1134.69V253.94H1137.94V252.69H1141.19V252.78H1144.44V253.81H1147.68V255.20H1150.93V253.28H1154.18V254.81H1157.43V256.39H1160.67V254.50H1163.92V254.69H1167.17V254.08H1170.42V255.47H1173.66V254.25H1176.91V254.63H1180.16V257.09H1183.41V255.48H1186.65V257.64H1189.90V258.39H1193.15V255.39H1196.40V258.06H1199.64V259.50H1202.89V257.73H1206.14V257.51H1209.39V256.97H1212.63V258.38H1215.88V259.86H1219.13V259.64H1222.38V256.89H1225.62V258.79H1228.87V259.53H1232.12V260.62H1235.37V260.43H1238.62V260.89H1241.86V260.97H1245.11V258.98H1248.36V260.66H1251.61V260.89H1254.85V260.62H1258.10V261.15H1261.35V262.40H1264.60V261.33H1267.84V261.00H1271.09V259.63H1274.34V261.72H1277.59V259.83H1280.83V260.51H1284.08V262.71H1287.33V262.75H1290.58V262.15H1293.82V260.91H1297.07V262.28H1300.32V262.17H1303.57V263.52H1306.81V265.16H1310.06V263.53H1313.31V262.83H1316.56V262.65H1319.80V263.78H1323.05V263.74H1326.30V262.81H1329.55V263.73H1332.79V262.24H1336.04V265.26H1339.29V263.39H1342.54V263.03H1345.78V263.54H1349.03V262.05H1352.28V261.31H1355.53V260.94H1358.77V260.84H1362.02V259.82H1365.27V259.51H1368.52V261.30H1371.76V260.14H1375.01V260.18H1378.26V260.53H1381.51V257.68H1384.75V258.11H1388.00" fill="none" stroke="rgba(255,255,255,0.55)" stroke-width="2.8"/><path d="M89.00,171.71H92.25V170.21H95.50V168.87H98.74V168.50H101.99V170.78H105.24V171.00H108.48V170.31H111.73V169.56H114.98V167.56H118.23V167.44H121.47V168.44H124.72V168.32H127.97V168.09H131.22V166.82H134.47V166.10H137.71V163.80H140.96V163.33H144.21V161.90H147.45V161.71H150.70V160.74H153.95V158.39H157.20V158.10H160.44V156.02H163.69V157.01H166.94V156.69H170.19V156.21H173.44V153.91H176.68V155.35H179.93V153.22H183.18V154.74H186.43V152.57H189.67V152.72H192.92V150.14H196.17V151.31H199.42V153.11H202.66V152.17H205.91V153.90H209.16V155.69H212.41V154.94H215.65V155.28H218.90V154.99H222.15V154.23H225.40V152.31H228.64V152.83H231.89V153.37H235.14V150.10H238.38V151.52H241.63V149.91H244.88V148.19H248.13V149.58H251.38V147.69H254.62V145.37H257.87V146.05H261.12V146.08H264.37V144.97H267.61V145.25H270.86V143.97H274.11V144.06H277.36V144.37H280.60V142.44H283.85V143.70H287.10V143.90H290.35V145.35H293.59V143.54H296.84V146.17H300.09V147.12H303.34V148.77H306.58V149.80H309.83V148.73H313.08V150.85H316.32V154.00H319.57V153.38H322.82V156.18H326.07V157.80H329.31V160.23H332.56V160.80H335.81V160.82H339.06V161.72H342.31V162.73H345.55V165.03H348.80V163.61H352.05V163.64H355.30V164.03H358.54V163.49H361.79V164.19H365.04V165.01H368.29V167.82H371.53V168.71H374.78V171.98H378.03V170.21H381.27V169.72H384.52V170.47H387.77V169.75H391.02V171.24H394.26V170.57H397.51V171.44H400.76V170.17H404.01V172.24H407.25V171.30H410.50V171.97H413.75V174.40H417.00V174.46H420.25V175.89H423.49V178.17H426.74V175.79H429.99V174.86H433.24V177.54H436.48V178.24H439.73V178.03H442.98V180.29H446.23V179.37H449.47V179.37H452.72V178.12H455.97V179.12H459.21V179.37H462.46V178.55H465.71V179.89H468.96V179.05H472.20V180.85H475.45V180.33H478.70V180.45H481.95V180.03H485.19V180.57H488.44V178.88H491.69V181.01H494.94V180.42H498.19V177.76H501.43V180.04H504.68V177.24H507.93V179.07H511.18V177.95H514.42V181.69H517.67V182.03H520.92V181.02H524.16V183.90H527.41V184.48H530.66V183.72H533.91V184.31H537.15V185.65H540.40V188.30H543.65V194.76H546.90V197.45H550.14V201.82H553.39V203.50H556.64V205.99H559.89V210.21H563.13V218.85H566.38V224.59H569.63V233.99H572.88V242.06H576.12V248.81H579.37V259.85H582.62V268.84H585.87V278.92H589.12V285.97H592.36V295.85H595.61V302.50H598.86V308.40H602.11V313.10H605.35V312.47H608.60V311.77H611.85V310.72H615.10V308.12H618.34V300.85H621.59V293.22H624.84V283.28H628.09V275.31H631.33V271.63H634.58V265.41H637.83V253.72H641.08V241.46H644.32V234.58H647.57V228.94H650.82V224.41H654.07V215.20H657.31V203.40H660.56V192.54H663.81V185.24H667.05V177.38H670.30V168.59H673.55V159.46H676.80V148.08H680.04V129.62H683.29V108.62H686.54V89.42H689.79V69.09H693.03V48.83H696.28V26.71H699.53V5.36H702.78V-13.89H706.02V-27.09H709.27V-36.24H712.52V-44.28H715.77V-50.00H719.01V-50.00H722.26V-50.00H725.51V-50.00H728.76V-50.00H732.00V-46.08H735.25V-36.34H738.50V-27.27H741.75V-10.98H745.00V3.41H748.24V19.25H751.49V36.55H754.74V52.66H757.99V66.80H761.23V81.71H764.48V99.34H767.73V108.76H770.98V117.32H774.22V123.90H777.47V127.41H780.72V128.71H783.97V129.57H787.21V124.75H790.46V112.88H793.71V101.89H796.96V89.37H800.20V77.23H803.45V66.94H806.70V54.44H809.95V41.69H813.19V37.04H816.44V30.20H819.69V25.97H822.93V22.37H826.18V21.73H829.43V23.36H832.68V27.81H835.92V38.51H839.17V47.49H842.42V58.55H845.67V67.91H848.91V79.88H852.16V90.12H855.41V104.40H858.66V114.60H861.90V127.37H865.15V139.05H868.40V151.33H871.65V164.89H874.89V174.45H878.14V185.19H881.39V194.28H884.64V202.84H887.88V207.76H891.13V211.36H894.38V215.19H897.63V215.00H900.88V214.81H904.12V219.22H907.37V221.14H910.62V222.75H913.87V222.43H917.11V222.68H920.36V222.26H923.61V222.38H926.86V221.47H930.10V220.54H933.35V219.67H936.60V219.43H939.85V218.33H943.09V217.16H946.34V213.77H949.59V215.89H952.84V214.02H956.08V214.93H959.33V212.46H962.58V212.06H965.83V214.17H969.07V213.64H972.32V217.16H975.57V216.28H978.82V218.13H982.06V221.11H985.31V222.24H988.56V218.92H991.80V224.40H995.05V225.44H998.30V227.50H1001.55V228.93H1004.79V232.08H1008.04V233.94H1011.29V235.10H1014.54V236.80H1017.78V237.66H1021.03V240.48H1024.28V240.21H1027.53V241.81H1030.78V241.51H1034.02V245.22H1037.27V245.22H1040.52V245.70H1043.76V246.11H1047.01V246.26H1050.26V246.59H1053.51V245.74H1056.76V244.96H1060.00V244.26H1063.25V244.85H1066.50V243.34H1069.74V242.14H1072.99V241.15H1076.24V240.84H1079.49V242.91H1082.74V242.18H1085.98V242.19H1089.23V242.34H1092.48V242.23H1095.72V243.77H1098.97V245.19H1102.22V244.70H1105.47V245.58H1108.72V246.35H1111.96V247.43H1115.21V246.76H1118.46V248.89H1121.70V249.23H1124.95V251.64H1128.20V250.87H1131.45V250.74H1134.69V253.94H1137.94V252.69H1141.19V252.78H1144.44V253.81H1147.68V255.20H1150.93V253.28H1154.18V254.81H1157.43V256.39H1160.67V254.50H1163.92V254.69H1167.17V254.08H1170.42V255.47H1173.66V254.25H1176.91V254.63H1180.16V257.09H1183.41V255.48H1186.65V257.64H1189.90V258.39H1193.15V255.39H1196.40V258.06H1199.64V259.50H1202.89V257.73H1206.14V257.51H1209.39V256.97H1212.63V258.38H1215.88V259.86H1219.13V259.64H1222.38V256.89H1225.62V258.79H1228.87V259.53H1232.12V260.62H1235.37V260.43H1238.62V260.89H1241.86V260.97H1245.11V258.98H1248.36V260.66H1251.61V260.89H1254.85V260.62H1258.10V261.15H1261.35V262.40H1264.60V261.33H1267.84V261.00H1271.09V259.63H1274.34V261.72H1277.59V259.83H1280.83V260.51H1284.08V262.71H1287.33V262.75H1290.58V262.15H1293.82V260.91H1297.07V262.28H1300.32V262.17H1303.57V263.52H1306.81V265.16H1310.06V263.53H1313.31V262.83H1316.56V262.65H1319.80V263.78H1323.05V263.74H1326.30V262.81H1329.55V263.73H1332.79V262.24H1336.04V265.26H1339.29V263.39H1342.54V263.03H1345.78V263.54H1349.03V262.05H1352.28V261.31H1355.53V260.94H1358.77V260.84H1362.02V259.82H1365.27V259.51H1368.52V261.30H1371.76V260.14H1375.01V260.18H1378.26V260.53H1381.51V257.68H1384.75V258.11H1388.00" fill="none" stroke="#5CA030" stroke-width="1.65"/><path d="M89.00,180.71H92.25V179.21H95.50V177.87H98.74V177.50H101.99V179.78H105.24V180.06H108.48V180.18H111.73V180.38H114.98V178.56H118.23V178.44H121.47V179.44H124.72V179.32H127.97V179.09H131.22V177.62H134.47V176.18H137.71V173.87H140.96V174.21H144.21V173.66H147.45V174.01H150.70V173.29H153.95V171.02H157.20V170.80H160.44V168.92H163.69V170.24H166.94V170.14H170.19V169.83H173.44V167.73H176.68V169.42H179.93V167.08H183.18V168.34H186.43V166.20H189.67V166.48H192.92V164.03H196.17V165.30H199.42V167.04H202.66V165.78H205.91V167.07H209.16V168.45H212.41V167.45H215.65V167.86H218.90V167.90H222.15V167.59H225.40V166.11H228.64V166.90H231.89V167.41H235.14V164.05H238.38V165.60H241.63V164.32H244.88V163.04H248.13V164.98H251.38V163.69H254.62V161.92H257.87V163.07H261.12V163.52H264.37V162.83H267.61V163.41H270.86V161.92H274.11V161.56H277.36V161.46H280.60V159.43H283.85V160.57H287.10V160.56H290.35V161.70H293.59V159.52H296.84V161.74H300.09V162.27H303.34V163.44H306.58V163.94H309.83V162.32H313.08V163.97H316.32V166.69H319.57V165.64H322.82V167.96H326.07V169.07H329.31V171.00H332.56V171.12H335.81V170.78H339.06V171.29H342.31V171.91H345.55V173.96H348.80V172.56H352.05V172.91H355.30V173.68H358.54V173.51H361.79V174.19H365.04V174.59H368.29V176.84H371.53V177.35H374.78V180.58H378.03V178.79H381.27V178.30H384.52V179.05H387.77V178.36H391.02V179.98H394.26V179.53H397.51V180.61H400.76V179.46H404.01V181.45H407.25V180.16H410.50V180.38H413.75V182.42H417.00V182.27H420.25V183.55H423.49V185.70H426.74V183.23H429.99V182.26H433.24V184.95H436.48V185.71H439.73V185.63H442.98V188.03H446.23V187.29H449.47V187.48H452.72V186.41H455.97V187.59H459.21V188.02H462.46V187.36H465.71V188.86H468.96V188.17H472.20V190.13H475.45V189.79H478.70V190.11H481.95V189.88H485.19V190.55H488.44V188.90H491.69V191.26H494.94V191.03H498.19V188.78H501.43V191.46H504.68V188.88H507.93V190.77H511.18V189.77H514.42V193.96H517.67V193.91H520.92V192.55H524.16V195.14H527.41V195.43H530.66V194.35H533.91V194.98H537.15V196.33H540.40V197.72H543.65V202.10H546.90V202.73H550.14V205.08H553.39V205.85H556.64V207.43H559.89V208.73H563.13V213.48H566.38V215.83H569.63V222.59H572.88V228.40H576.12V233.61H579.37V243.62H582.62V249.89H585.87V255.16H589.12V256.89H592.36V262.11H595.61V264.13H598.86V266.81H602.11V270.25H605.35V268.93H608.60V268.36H611.85V268.21H615.10V267.01H618.34V261.50H621.59V256.89H624.84V250.76H628.09V246.61H631.33V246.68H634.58V244.65H637.83V238.35H641.08V231.67H644.32V228.70H647.57V225.50H650.82V223.40H654.07V217.55H657.31V210.67H660.56V208.01H663.81V205.38H667.05V203.18H670.30V200.62H673.55V197.26H676.80V192.86H680.04V184.59H683.29V170.59H686.54V159.51H689.79V148.50H693.03V138.11H696.28V124.39H699.53V111.97H702.78V99.26H706.02V92.63H709.27V88.51H712.52V82.86H715.77V77.73H719.01V75.73H722.26V74.70H725.51V78.14H728.76V79.69H732.00V84.12H735.25V94.29H738.50V101.60H741.75V112.72H745.00V120.27H748.24V129.65H751.49V140.52H754.74V150.47H757.99V157.05H761.23V161.82H764.48V170.68H767.73V172.95H770.98V176.69H774.22V179.65H777.47V179.56H780.72V180.80H783.97V182.67H787.21V178.54H790.46V173.48H793.71V170.30H796.96V165.98H800.20V159.82H803.45V153.50H806.70V146.67H809.95V138.87H813.19V138.76H816.44V135.33H819.69V133.43H822.93V130.06H826.18V129.32H829.43V129.95H832.68V132.10H835.92V136.01H839.17V140.53H842.42V148.01H845.67V155.17H848.91V164.68H852.16V168.89H855.41V177.70H858.66V183.04H861.90V188.44H865.15V192.45H868.40V198.85H871.65V206.48H874.89V209.72H878.14V216.16H881.39V222.18H884.64V226.24H887.88V227.20H891.13V228.17H894.38V231.96H897.63V231.41H900.88V230.57H904.12V233.28H907.37V233.78H910.62V235.16H913.87V235.04H917.11V235.55H920.36V235.58H923.61V236.38H926.86V236.13H930.10V235.87H933.35V235.77H936.60V236.26H939.85V235.75H943.09V235.10H946.34V232.16H949.59V234.66H952.84V233.29H956.08V234.68H959.33V232.46H962.58V232.07H965.83V234.20H969.07V233.74H972.32V237.38H975.57V236.32H978.82V237.41H982.06V239.47H985.31V239.94H988.56V236.21H991.80V241.35H995.05V241.89H998.30V242.95H1001.55V243.09H1004.79V245.24H1008.04V246.77H1011.29V247.89H1014.54V249.39H1017.78V249.87H1021.03V251.96H1024.28V250.73H1027.53V251.47H1030.78V250.73H1034.02V254.30H1037.27V254.32H1040.52V254.85H1043.76V255.14H1047.01V254.99H1050.26V255.19H1053.51V254.48H1056.76V253.88H1060.00V253.24H1063.25V253.55H1066.50V251.69H1069.74V250.24H1072.99V249.11H1076.24V248.74H1079.49V250.77H1082.74V249.90H1085.98V249.69H1089.23V249.55H1092.48V249.14H1095.72V250.39H1098.97V251.55H1102.22V250.85H1105.47V251.59H1108.72V252.31H1111.96V253.40H1115.21V252.70H1118.46V254.75H1121.70V254.99H1124.95V257.27H1128.20V256.38H1131.45V256.13H1134.69V259.24H1137.94V257.89H1141.19V257.92H1144.44V258.89H1147.68V260.24H1150.93V258.29H1154.18V259.81H1157.43V261.42H1160.67V259.57H1163.92V259.83H1167.17V259.28H1170.42V260.72H1173.66V259.55H1176.91V259.92H1180.16V262.33H1183.41V260.64H1186.65V262.71H1189.90V263.39H1193.15V260.36H1196.40V263.07H1199.64V264.59H1202.89V262.90H1206.14V262.78H1209.39V262.30H1212.63V263.74H1215.88V265.19H1219.13V264.84H1222.38V261.84H1225.62V263.42H1228.87V263.83H1232.12V264.63H1235.37V264.26H1238.62V264.72H1241.86V264.86H1245.11V262.94H1248.36V264.70H1251.61V264.99H1254.85V264.80H1258.10V265.41H1261.35V266.72H1264.60V265.65H1267.84V265.25H1271.09V263.76H1274.34V265.70H1277.59V263.67H1280.83V264.23H1284.08V266.34H1287.33V266.29H1290.58V265.60H1293.82V264.29H1297.07V265.59H1300.32V265.41H1303.57V266.70H1306.81V268.30H1310.06V266.63H1313.31V265.93H1316.56V265.78H1319.80V267.00H1323.05V267.10H1326.30V266.44H1329.55V267.77H1332.79V266.81H1336.04V270.39H1339.29V269.06H1342.54V269.15H1345.78V269.96H1349.03V268.65H1352.28V268.02H1355.53V267.72H1358.77V267.67H1362.02V266.68H1365.27V266.40H1368.52V268.24H1371.76V267.15H1375.01V267.29H1378.26V267.74H1381.51V265.00H1384.75V265.55H1388.00" fill="none" stroke="rgba(255,255,255,0.55)" stroke-width="2.8"/><path d="M89.00,180.71H92.25V179.21H95.50V177.87H98.74V177.50H101.99V179.78H105.24V180.06H108.48V180.18H111.73V180.38H114.98V178.56H118.23V178.44H121.47V179.44H124.72V179.32H127.97V179.09H131.22V177.62H134.47V176.18H137.71V173.87H140.96V174.21H144.21V173.66H147.45V174.01H150.70V173.29H153.95V171.02H157.20V170.80H160.44V168.92H163.69V170.24H166.94V170.14H170.19V169.83H173.44V167.73H176.68V169.42H179.93V167.08H183.18V168.34H186.43V166.20H189.67V166.48H192.92V164.03H196.17V165.30H199.42V167.04H202.66V165.78H205.91V167.07H209.16V168.45H212.41V167.45H215.65V167.86H218.90V167.90H222.15V167.59H225.40V166.11H228.64V166.90H231.89V167.41H235.14V164.05H238.38V165.60H241.63V164.32H244.88V163.04H248.13V164.98H251.38V163.69H254.62V161.92H257.87V163.07H261.12V163.52H264.37V162.83H267.61V163.41H270.86V161.92H274.11V161.56H277.36V161.46H280.60V159.43H283.85V160.57H287.10V160.56H290.35V161.70H293.59V159.52H296.84V161.74H300.09V162.27H303.34V163.44H306.58V163.94H309.83V162.32H313.08V163.97H316.32V166.69H319.57V165.64H322.82V167.96H326.07V169.07H329.31V171.00H332.56V171.12H335.81V170.78H339.06V171.29H342.31V171.91H345.55V173.96H348.80V172.56H352.05V172.91H355.30V173.68H358.54V173.51H361.79V174.19H365.04V174.59H368.29V176.84H371.53V177.35H374.78V180.58H378.03V178.79H381.27V178.30H384.52V179.05H387.77V178.36H391.02V179.98H394.26V179.53H397.51V180.61H400.76V179.46H404.01V181.45H407.25V180.16H410.50V180.38H413.75V182.42H417.00V182.27H420.25V183.55H423.49V185.70H426.74V183.23H429.99V182.26H433.24V184.95H436.48V185.71H439.73V185.63H442.98V188.03H446.23V187.29H449.47V187.48H452.72V186.41H455.97V187.59H459.21V188.02H462.46V187.36H465.71V188.86H468.96V188.17H472.20V190.13H475.45V189.79H478.70V190.11H481.95V189.88H485.19V190.55H488.44V188.90H491.69V191.26H494.94V191.03H498.19V188.78H501.43V191.46H504.68V188.88H507.93V190.77H511.18V189.77H514.42V193.96H517.67V193.91H520.92V192.55H524.16V195.14H527.41V195.43H530.66V194.35H533.91V194.98H537.15V196.33H540.40V197.72H543.65V202.10H546.90V202.73H550.14V205.08H553.39V205.85H556.64V207.43H559.89V208.73H563.13V213.48H566.38V215.83H569.63V222.59H572.88V228.40H576.12V233.61H579.37V243.62H582.62V249.89H585.87V255.16H589.12V256.89H592.36V262.11H595.61V264.13H598.86V266.81H602.11V270.25H605.35V268.93H608.60V268.36H611.85V268.21H615.10V267.01H618.34V261.50H621.59V256.89H624.84V250.76H628.09V246.61H631.33V246.68H634.58V244.65H637.83V238.35H641.08V231.67H644.32V228.70H647.57V225.50H650.82V223.40H654.07V217.55H657.31V210.67H660.56V208.01H663.81V205.38H667.05V203.18H670.30V200.62H673.55V197.26H676.80V192.86H680.04V184.59H683.29V170.59H686.54V159.51H689.79V148.50H693.03V138.11H696.28V124.39H699.53V111.97H702.78V99.26H706.02V92.63H709.27V88.51H712.52V82.86H715.77V77.73H719.01V75.73H722.26V74.70H725.51V78.14H728.76V79.69H732.00V84.12H735.25V94.29H738.50V101.60H741.75V112.72H745.00V120.27H748.24V129.65H751.49V140.52H754.74V150.47H757.99V157.05H761.23V161.82H764.48V170.68H767.73V172.95H770.98V176.69H774.22V179.65H777.47V179.56H780.72V180.80H783.97V182.67H787.21V178.54H790.46V173.48H793.71V170.30H796.96V165.98H800.20V159.82H803.45V153.50H806.70V146.67H809.95V138.87H813.19V138.76H816.44V135.33H819.69V133.43H822.93V130.06H826.18V129.32H829.43V129.95H832.68V132.10H835.92V136.01H839.17V140.53H842.42V148.01H845.67V155.17H848.91V164.68H852.16V168.89H855.41V177.70H858.66V183.04H861.90V188.44H865.15V192.45H868.40V198.85H871.65V206.48H874.89V209.72H878.14V216.16H881.39V222.18H884.64V226.24H887.88V227.20H891.13V228.17H894.38V231.96H897.63V231.41H900.88V230.57H904.12V233.28H907.37V233.78H910.62V235.16H913.87V235.04H917.11V235.55H920.36V235.58H923.61V236.38H926.86V236.13H930.10V235.87H933.35V235.77H936.60V236.26H939.85V235.75H943.09V235.10H946.34V232.16H949.59V234.66H952.84V233.29H956.08V234.68H959.33V232.46H962.58V232.07H965.83V234.20H969.07V233.74H972.32V237.38H975.57V236.32H978.82V237.41H982.06V239.47H985.31V239.94H988.56V236.21H991.80V241.35H995.05V241.89H998.30V242.95H1001.55V243.09H1004.79V245.24H1008.04V246.77H1011.29V247.89H1014.54V249.39H1017.78V249.87H1021.03V251.96H1024.28V250.73H1027.53V251.47H1030.78V250.73H1034.02V254.30H1037.27V254.32H1040.52V254.85H1043.76V255.14H1047.01V254.99H1050.26V255.19H1053.51V254.48H1056.76V253.88H1060.00V253.24H1063.25V253.55H1066.50V251.69H1069.74V250.24H1072.99V249.11H1076.24V248.74H1079.49V250.77H1082.74V249.90H1085.98V249.69H1089.23V249.55H1092.48V249.14H1095.72V250.39H1098.97V251.55H1102.22V250.85H1105.47V251.59H1108.72V252.31H1111.96V253.40H1115.21V252.70H1118.46V254.75H1121.70V254.99H1124.95V257.27H1128.20V256.38H1131.45V256.13H1134.69V259.24H1137.94V257.89H1141.19V257.92H1144.44V258.89H1147.68V260.24H1150.93V258.29H1154.18V259.81H1157.43V261.42H1160.67V259.57H1163.92V259.83H1167.17V259.28H1170.42V260.72H1173.66V259.55H1176.91V259.92H1180.16V262.33H1183.41V260.64H1186.65V262.71H1189.90V263.39H1193.15V260.36H1196.40V263.07H1199.64V264.59H1202.89V262.90H1206.14V262.78H1209.39V262.30H1212.63V263.74H1215.88V265.19H1219.13V264.84H1222.38V261.84H1225.62V263.42H1228.87V263.83H1232.12V264.63H1235.37V264.26H1238.62V264.72H1241.86V264.86H1245.11V262.94H1248.36V264.70H1251.61V264.99H1254.85V264.80H1258.10V265.41H1261.35V266.72H1264.60V265.65H1267.84V265.25H1271.09V263.76H1274.34V265.70H1277.59V263.67H1280.83V264.23H1284.08V266.34H1287.33V266.29H1290.58V265.60H1293.82V264.29H1297.07V265.59H1300.32V265.41H1303.57V266.70H1306.81V268.30H1310.06V266.63H1313.31V265.93H1316.56V265.78H1319.80V267.00H1323.05V267.10H1326.30V266.44H1329.55V267.77H1332.79V266.81H1336.04V270.39H1339.29V269.06H1342.54V269.15H1345.78V269.96H1349.03V268.65H1352.28V268.02H1355.53V267.72H1358.77V267.67H1362.02V266.68H1365.27V266.40H1368.52V268.24H1371.76V267.15H1375.01V267.29H1378.26V267.74H1381.51V265.00H1384.75V265.55H1388.00" fill="none" stroke="#861840" stroke-width="1.65"/><path d="M89.00,186.39H92.25V183.93H95.50V182.81H98.74V182.10H101.99V180.97H105.24V178.99H108.48V176.03H111.73V173.95H114.98V171.64H118.23V167.36H121.47V161.36H124.72V155.55H127.97V151.11H131.22V143.59H134.47V132.59H137.71V121.37H140.96V111.01H144.21V98.29H147.45V88.75H150.70V79.27H153.95V68.54H157.20V53.84H160.44V42.66H163.69V33.95H166.94V24.38H170.19V16.15H173.44V9.26H176.68V4.19H179.93V0.96H183.18V-3.76H186.43V-3.73H189.67V1.30H192.92V8.66H196.17V17.09H199.42V27.11H202.66V38.46H205.91V49.91H209.16V55.27H212.41V65.73H215.65V80.14H218.90V88.37H222.15V103.05H225.40V114.34H228.64V125.39H231.89V132.59H235.14V140.82H238.38V149.04H241.63V158.05H244.88V164.58H248.13V169.12H251.38V171.64H254.62V174.19H257.87V175.16H261.12V175.17H264.37V177.58H267.61V179.88H270.86V179.46H274.11V178.68H277.36V179.33H280.60V178.81H283.85V179.58H287.10V176.66H290.35V179.07H293.59V179.28H296.84V178.85H300.09V177.69H303.34V178.20H306.58V177.94H309.83V178.00H313.08V178.80H316.32V177.47H319.57V178.79H322.82V178.62H326.07V179.93H329.31V179.97H332.56V180.13H335.81V181.02H339.06V181.36H342.31V182.85H345.55V180.77H348.80V179.83H352.05V178.16H355.30V176.10H358.54V176.08H361.79V174.15H365.04V172.64H368.29V171.42H371.53V168.19H374.78V164.61H378.03V160.96H381.27V157.17H384.52V151.58H387.77V148.63H391.02V142.86H394.26V137.10H397.51V132.78H400.76V126.63H404.01V120.54H407.25V115.47H410.50V111.17H413.75V106.82H417.00V102.45H420.25V99.94H423.49V98.22H426.74V96.13H429.99V95.77H433.24V95.69H436.48V96.47H439.73V97.99H442.98V100.46H446.23V103.57H449.47V106.34H452.72V109.26H455.97V112.87H459.21V115.31H462.46V118.73H465.71V121.61H468.96V123.32H472.20V125.84H475.45V125.58H478.70V127.50H481.95V129.69H485.19V129.09H488.44V128.40H491.69V125.53H494.94V124.89H498.19V124.25H501.43V122.37H504.68V119.57H507.93V115.13H511.18V110.19H514.42V102.20H517.67V92.63H520.92V82.10H524.16V66.75H527.41V50.42H530.66V23.74H533.91V-6.09H537.15V-44.27H540.40V-50.00H543.65V-50.00H546.90V-50.00H550.14V-50.00H553.39V-50.00H556.64V-50.00H559.89V-50.00H563.13V-50.00H566.38V-50.00H569.63V-50.00H572.88V-50.00H576.12V-50.00H579.37V-50.00H582.62V-50.00H585.87V-50.00H589.12V-50.00H592.36V-50.00H595.61V-50.00H598.86V-50.00H602.11V-50.00H605.35V-50.00H608.60V-50.00H611.85V-50.00H615.10V-50.00H618.34V-50.00H621.59V-50.00H624.84V-50.00H628.09V-50.00H631.33V-50.00H634.58V-50.00H637.83V-50.00H641.08V-50.00H644.32V-50.00H647.57V-50.00H650.82V-50.00H654.07V-50.00H657.31V-50.00H660.56V-50.00H663.81V-50.00H667.05V-50.00H670.30V-50.00H673.55V-50.00H676.80V-50.00H680.04V-50.00H683.29V-50.00H686.54V-50.00H689.79V-50.00H693.03V-50.00H696.28V-50.00H699.53V-50.00H702.78V-50.00H706.02V-50.00H709.27V-50.00H712.52V-50.00H715.77V-50.00H719.01V-50.00H722.26V-50.00H725.51V-50.00H728.76V-50.00H732.00V-50.00H735.25V-50.00H738.50V-50.00H741.75V-50.00H745.00V-50.00H748.24V-50.00H751.49V-50.00H754.74V-50.00H757.99V-50.00H761.23V-39.02H764.48V-21.93H767.73V-3.02H770.98V25.42H774.22V47.38H777.47V68.64H780.72V87.06H783.97V96.92H787.21V105.58H790.46V108.47H793.71V107.28H796.96V103.52H800.20V95.60H803.45V88.16H806.70V80.28H809.95V70.54H813.19V60.08H816.44V50.04H819.69V39.57H822.93V30.64H826.18V24.61H829.43V21.53H832.68V15.82H835.92V10.36H839.17V9.75H842.42V7.86H845.67V7.04H848.91V11.59H852.16V16.38H855.41V22.00H858.66V30.16H861.90V40.92H865.15V52.40H868.40V67.59H871.65V80.13H874.89V96.27H878.14V114.70H881.39V128.58H884.64V143.27H887.88V156.56H891.13V168.57H894.38V180.58H897.63V189.96H900.88V201.53H904.12V210.35H907.37V218.35H910.62V223.86H913.87V230.22H917.11V234.36H920.36V239.70H923.61V242.98H926.86V245.27H930.10V246.72H933.35V250.73H936.60V250.81H939.85V253.64H943.09V255.32H946.34V257.34H949.59V258.52H952.84V259.54H956.08V260.71H959.33V262.53H962.58V263.98H965.83V266.00H969.07V266.65H972.32V267.74H975.57V268.34H978.82V269.67H982.06V268.38H985.31V270.94H988.56V272.50H991.80V272.18H995.05V271.89H998.30V271.58H1001.55V271.56H1004.79V273.24H1008.04V271.90H1011.29V272.39H1014.54V270.82H1017.78V271.14H1021.03V269.77H1024.28V268.79H1027.53V268.22H1030.78V267.08H1034.02V266.49H1037.27V265.34H1040.52V267.88H1043.76V264.30H1047.01V263.16H1050.26V263.38H1053.51V262.08H1056.76V262.34H1060.00V262.16H1063.25V261.17H1066.50V259.34H1069.74V258.70H1072.99V258.80H1076.24V257.03H1079.49V256.41H1082.74V256.71H1085.98V257.26H1089.23V256.66H1092.48V256.38H1095.72V257.02H1098.97V257.71H1102.22V257.70H1105.47V258.20H1108.72V259.57H1111.96V260.01H1115.21V261.62H1118.46V262.98H1121.70V265.37H1124.95V263.62H1128.20V266.74H1131.45V267.90H1134.69V270.26H1137.94V270.01H1141.19V269.82H1144.44V270.02H1147.68V271.30H1150.93V270.04H1154.18V270.77H1157.43V270.52H1160.67V269.82H1163.92V269.47H1167.17V268.82H1170.42V268.21H1173.66V266.59H1176.91V265.26H1180.16V262.41H1183.41V259.98H1186.65V258.77H1189.90V254.13H1193.15V249.94H1196.40V249.16H1199.64V246.28H1202.89V242.88H1206.14V239.93H1209.39V236.90H1212.63V233.32H1215.88V228.55H1219.13V226.40H1222.38V223.43H1225.62V221.60H1228.87V220.32H1232.12V219.11H1235.37V218.48H1238.62V217.90H1241.86V219.16H1245.11V220.08H1248.36V221.01H1251.61V222.59H1254.85V223.65H1258.10V225.56H1261.35V228.10H1264.60V229.27H1267.84V232.57H1271.09V235.29H1274.34V237.56H1277.59V240.93H1280.83V243.32H1284.08V245.38H1287.33V247.12H1290.58V248.19H1293.82V248.49H1297.07V247.13H1300.32V249.55H1303.57V250.96H1306.81V251.43H1310.06V252.36H1313.31V252.38H1316.56V249.79H1319.80V248.95H1323.05V249.72H1326.30V250.02H1329.55V250.68H1332.79V252.42H1336.04V252.39H1339.29V252.08H1342.54V255.19H1345.78V254.79H1349.03V254.75H1352.28V255.49H1355.53V256.77H1358.77V258.64H1362.02V260.61H1365.27V262.66H1368.52V264.19H1371.76V265.51H1375.01V266.88H1378.26V267.87H1381.51V266.33H1384.75V270.51H1388.00" fill="none" stroke="rgba(255,255,255,0.55)" stroke-width="2.8"/><path d="M89.00,186.39H92.25V183.93H95.50V182.81H98.74V182.10H101.99V180.97H105.24V178.99H108.48V176.03H111.73V173.95H114.98V171.64H118.23V167.36H121.47V161.36H124.72V155.55H127.97V151.11H131.22V143.59H134.47V132.59H137.71V121.37H140.96V111.01H144.21V98.29H147.45V88.75H150.70V79.27H153.95V68.54H157.20V53.84H160.44V42.66H163.69V33.95H166.94V24.38H170.19V16.15H173.44V9.26H176.68V4.19H179.93V0.96H183.18V-3.76H186.43V-3.73H189.67V1.30H192.92V8.66H196.17V17.09H199.42V27.11H202.66V38.46H205.91V49.91H209.16V55.27H212.41V65.73H215.65V80.14H218.90V88.37H222.15V103.05H225.40V114.34H228.64V125.39H231.89V132.59H235.14V140.82H238.38V149.04H241.63V158.05H244.88V164.58H248.13V169.12H251.38V171.64H254.62V174.19H257.87V175.16H261.12V175.17H264.37V177.58H267.61V179.88H270.86V179.46H274.11V178.68H277.36V179.33H280.60V178.81H283.85V179.58H287.10V176.66H290.35V179.07H293.59V179.28H296.84V178.85H300.09V177.69H303.34V178.20H306.58V177.94H309.83V178.00H313.08V178.80H316.32V177.47H319.57V178.79H322.82V178.62H326.07V179.93H329.31V179.97H332.56V180.13H335.81V181.02H339.06V181.36H342.31V182.85H345.55V180.77H348.80V179.83H352.05V178.16H355.30V176.10H358.54V176.08H361.79V174.15H365.04V172.64H368.29V171.42H371.53V168.19H374.78V164.61H378.03V160.96H381.27V157.17H384.52V151.58H387.77V148.63H391.02V142.86H394.26V137.10H397.51V132.78H400.76V126.63H404.01V120.54H407.25V115.47H410.50V111.17H413.75V106.82H417.00V102.45H420.25V99.94H423.49V98.22H426.74V96.13H429.99V95.77H433.24V95.69H436.48V96.47H439.73V97.99H442.98V100.46H446.23V103.57H449.47V106.34H452.72V109.26H455.97V112.87H459.21V115.31H462.46V118.73H465.71V121.61H468.96V123.32H472.20V125.84H475.45V125.58H478.70V127.50H481.95V129.69H485.19V129.09H488.44V128.40H491.69V125.53H494.94V124.89H498.19V124.25H501.43V122.37H504.68V119.57H507.93V115.13H511.18V110.19H514.42V102.20H517.67V92.63H520.92V82.10H524.16V66.75H527.41V50.42H530.66V23.74H533.91V-6.09H537.15V-44.27H540.40V-50.00H543.65V-50.00H546.90V-50.00H550.14V-50.00H553.39V-50.00H556.64V-50.00H559.89V-50.00H563.13V-50.00H566.38V-50.00H569.63V-50.00H572.88V-50.00H576.12V-50.00H579.37V-50.00H582.62V-50.00H585.87V-50.00H589.12V-50.00H592.36V-50.00H595.61V-50.00H598.86V-50.00H602.11V-50.00H605.35V-50.00H608.60V-50.00H611.85V-50.00H615.10V-50.00H618.34V-50.00H621.59V-50.00H624.84V-50.00H628.09V-50.00H631.33V-50.00H634.58V-50.00H637.83V-50.00H641.08V-50.00H644.32V-50.00H647.57V-50.00H650.82V-50.00H654.07V-50.00H657.31V-50.00H660.56V-50.00H663.81V-50.00H667.05V-50.00H670.30V-50.00H673.55V-50.00H676.80V-50.00H680.04V-50.00H683.29V-50.00H686.54V-50.00H689.79V-50.00H693.03V-50.00H696.28V-50.00H699.53V-50.00H702.78V-50.00H706.02V-50.00H709.27V-50.00H712.52V-50.00H715.77V-50.00H719.01V-50.00H722.26V-50.00H725.51V-50.00H728.76V-50.00H732.00V-50.00H735.25V-50.00H738.50V-50.00H741.75V-50.00H745.00V-50.00H748.24V-50.00H751.49V-50.00H754.74V-50.00H757.99V-50.00H761.23V-39.02H764.48V-21.93H767.73V-3.02H770.98V25.42H774.22V47.38H777.47V68.64H780.72V87.06H783.97V96.92H787.21V105.58H790.46V108.47H793.71V107.28H796.96V103.52H800.20V95.60H803.45V88.16H806.70V80.28H809.95V70.54H813.19V60.08H816.44V50.04H819.69V39.57H822.93V30.64H826.18V24.61H829.43V21.53H832.68V15.82H835.92V10.36H839.17V9.75H842.42V7.86H845.67V7.04H848.91V11.59H852.16V16.38H855.41V22.00H858.66V30.16H861.90V40.92H865.15V52.40H868.40V67.59H871.65V80.13H874.89V96.27H878.14V114.70H881.39V128.58H884.64V143.27H887.88V156.56H891.13V168.57H894.38V180.58H897.63V189.96H900.88V201.53H904.12V210.35H907.37V218.35H910.62V223.86H913.87V230.22H917.11V234.36H920.36V239.70H923.61V242.98H926.86V245.27H930.10V246.72H933.35V250.73H936.60V250.81H939.85V253.64H943.09V255.32H946.34V257.34H949.59V258.52H952.84V259.54H956.08V260.71H959.33V262.53H962.58V263.98H965.83V266.00H969.07V266.65H972.32V267.74H975.57V268.34H978.82V269.67H982.06V268.38H985.31V270.94H988.56V272.50H991.80V272.18H995.05V271.89H998.30V271.58H1001.55V271.56H1004.79V273.24H1008.04V271.90H1011.29V272.39H1014.54V270.82H1017.78V271.14H1021.03V269.77H1024.28V268.79H1027.53V268.22H1030.78V267.08H1034.02V266.49H1037.27V265.34H1040.52V267.88H1043.76V264.30H1047.01V263.16H1050.26V263.38H1053.51V262.08H1056.76V262.34H1060.00V262.16H1063.25V261.17H1066.50V259.34H1069.74V258.70H1072.99V258.80H1076.24V257.03H1079.49V256.41H1082.74V256.71H1085.98V257.26H1089.23V256.66H1092.48V256.38H1095.72V257.02H1098.97V257.71H1102.22V257.70H1105.47V258.20H1108.72V259.57H1111.96V260.01H1115.21V261.62H1118.46V262.98H1121.70V265.37H1124.95V263.62H1128.20V266.74H1131.45V267.90H1134.69V270.26H1137.94V270.01H1141.19V269.82H1144.44V270.02H1147.68V271.30H1150.93V270.04H1154.18V270.77H1157.43V270.52H1160.67V269.82H1163.92V269.47H1167.17V268.82H1170.42V268.21H1173.66V266.59H1176.91V265.26H1180.16V262.41H1183.41V259.98H1186.65V258.77H1189.90V254.13H1193.15V249.94H1196.40V249.16H1199.64V246.28H1202.89V242.88H1206.14V239.93H1209.39V236.90H1212.63V233.32H1215.88V228.55H1219.13V226.40H1222.38V223.43H1225.62V221.60H1228.87V220.32H1232.12V219.11H1235.37V218.48H1238.62V217.90H1241.86V219.16H1245.11V220.08H1248.36V221.01H1251.61V222.59H1254.85V223.65H1258.10V225.56H1261.35V228.10H1264.60V229.27H1267.84V232.57H1271.09V235.29H1274.34V237.56H1277.59V240.93H1280.83V243.32H1284.08V245.38H1287.33V247.12H1290.58V248.19H1293.82V248.49H1297.07V247.13H1300.32V249.55H1303.57V250.96H1306.81V251.43H1310.06V252.36H1313.31V252.38H1316.56V249.79H1319.80V248.95H1323.05V249.72H1326.30V250.02H1329.55V250.68H1332.79V252.42H1336.04V252.39H1339.29V252.08H1342.54V255.19H1345.78V254.79H1349.03V254.75H1352.28V255.49H1355.53V256.77H1358.77V258.64H1362.02V260.61H1365.27V262.66H1368.52V264.19H1371.76V265.51H1375.01V266.88H1378.26V267.87H1381.51V266.33H1384.75V270.51H1388.00" fill="none" stroke="#1C5596" stroke-width="1.65"/><path d="M89.00,186.32H92.25V185.29H95.50V183.91H98.74V183.20H101.99V183.59H105.24V183.11H108.48V184.05H111.73V185.21H114.98V183.54H118.23V183.32H121.47V184.13H124.72V183.74H127.97V183.19H131.22V181.90H134.47V182.32H137.71V180.82H140.96V180.23H144.21V178.46H147.45V178.23H150.70V177.94H153.95V176.65H157.20V177.41H160.44V175.96H163.69V177.01H166.94V176.59H170.19V175.98H173.44V173.61H176.68V175.14H179.93V173.36H183.18V175.33H186.43V173.72H189.67V174.59H192.92V172.69H196.17V174.27H199.42V175.95H202.66V174.27H205.91V174.97H209.16V175.80H212.41V174.47H215.65V174.90H218.90V175.10H222.15V175.06H225.40V173.90H228.64V175.07H231.89V176.22H235.14V173.61H238.38V175.77H241.63V175.11H244.88V174.26H248.13V175.66H251.38V173.69H254.62V171.62H257.87V172.56H261.12V172.83H264.37V171.92H267.61V172.33H270.86V171.07H274.11V171.12H277.36V171.38H280.60V169.41H283.85V170.35H287.10V170.02H290.35V170.86H293.59V168.51H296.84V170.70H300.09V171.23H303.34V172.43H306.58V172.94H309.83V171.26H313.08V172.70H316.32V175.14H319.57V173.79H322.82V175.84H326.07V176.68H329.31V178.34H332.56V178.24H335.81V177.77H339.06V178.30H342.31V179.01H345.55V181.11H348.80V179.61H352.05V179.09H355.30V178.13H358.54V176.89H361.79V177.71H365.04V178.79H368.29V181.90H371.53V183.01H374.78V186.48H378.03V184.91H381.27V184.58H384.52V185.44H387.77V184.74H391.02V186.16H394.26V185.33H397.51V186.00H400.76V184.50H404.01V186.30H407.25V184.96H410.50V185.23H413.75V187.37H417.00V187.33H420.25V188.77H423.49V191.11H426.74V188.81H429.99V187.97H433.24V190.71H436.48V191.47H439.73V191.35H442.98V193.74H446.23V192.98H449.47V193.15H452.72V192.06H455.97V193.25H459.21V193.74H462.46V193.22H465.71V194.92H468.96V194.42H472.20V196.52H475.45V196.19H478.70V196.45H481.95V196.15H485.19V196.86H488.44V195.40H491.69V197.92H494.94V197.83H498.19V195.76H501.43V198.68H504.68V196.91H507.93V200.02H511.18V199.42H514.42V201.37H517.67V200.77H520.92V199.09H524.16V201.36H527.41V201.35H530.66V199.97H533.91V200.34H537.15V201.31H540.40V201.88H543.65V205.15H546.90V204.51H550.14V205.54H553.39V205.54H556.64V206.78H559.89V208.64H563.13V213.81H566.38V214.53H569.63V216.96H572.88V217.71H576.12V218.03H579.37V223.06H582.62V225.87H585.87V229.25H589.12V229.71H592.36V233.66H595.61V234.39H598.86V236.26H602.11V239.60H605.35V238.32H608.60V237.85H611.85V238.16H615.10V237.69H618.34V233.19H621.59V230.50H624.84V227.20H628.09V226.02H631.33V228.26H634.58V228.96H637.83V225.63H641.08V221.42H644.32V220.80H647.57V219.39H650.82V219.19H654.07V215.87H657.31V212.58H660.56V214.54H663.81V213.98H667.05V213.04H670.30V212.32H673.55V211.36H676.80V210.44H680.04V209.82H683.29V204.42H686.54V200.31H689.79V195.73H693.03V190.20H696.28V183.53H699.53V177.90H702.78V171.96H706.02V170.85H709.27V171.29H712.52V170.02H715.77V167.93H719.01V167.43H722.26V166.78H725.51V169.09H728.76V168.90H732.00V169.87H735.25V174.36H738.50V175.35H741.75V180.91H745.00V184.64H748.24V189.21H751.49V194.07H754.74V197.33H757.99V198.42H761.23V199.53H764.48V205.85H767.73V206.48H770.98V209.36H774.22V211.72H777.47V210.94H780.72V211.61H783.97V213.59H787.21V211.20H790.46V208.80H793.71V207.39H796.96V204.98H800.20V202.78H803.45V202.19H806.70V199.54H809.95V195.41H813.19V198.05H816.44V196.59H819.69V196.27H822.93V194.71H826.18V195.07H829.43V194.97H832.68V195.39H835.92V196.83H839.17V197.70H842.42V201.49H845.67V204.28H848.91V208.07H852.16V207.20H855.41V211.59H858.66V213.24H861.90V216.03H865.15V217.88H868.40V223.13H871.65V230.26H874.89V231.72H878.14V234.06H881.39V235.48H884.64V238.36H887.88V238.90H891.13V238.21H894.38V240.16H897.63V239.32H900.88V238.39H904.12V241.02H907.37V241.27H910.62V241.96H913.87V241.21H917.11V241.92H920.36V242.59H923.61V244.09H926.86V244.54H930.10V244.88H933.35V245.20H936.60V245.92H939.85V245.68H943.09V245.34H946.34V242.72H949.59V245.53H952.84V244.42H956.08V246.00H959.33V243.86H962.58V243.46H965.83V245.55H969.07V245.03H972.32V248.58H975.57V247.41H978.82V248.37H982.06V250.28H985.31V250.57H988.56V246.70H991.80V251.67H995.05V251.98H998.30V252.69H1001.55V252.21H1004.79V253.49H1008.04V254.11H1011.29V254.50H1014.54V255.59H1017.78V255.83H1021.03V257.79H1024.28V256.50H1027.53V257.23H1030.78V256.50H1034.02V260.06H1037.27V259.97H1040.52V260.31H1043.76V260.38H1047.01V260.05H1050.26V260.19H1053.51V259.48H1056.76V258.88H1060.00V258.24H1063.25V258.55H1066.50V256.69H1069.74V255.24H1072.99V254.11H1076.24V253.74H1079.49V255.79H1082.74V255.00H1085.98V254.92H1089.23V254.93H1092.48V254.67H1095.72V256.03H1098.97V257.25H1102.22V256.50H1105.47V257.08H1108.72V257.53H1111.96V258.30H1115.21V257.23H1118.46V258.92H1121.70V258.81H1124.95V260.79H1128.20V259.69H1131.45V259.33H1134.69V262.39H1137.94V261.02H1141.19V261.03H1144.44V261.99H1147.68V263.34H1150.93V261.40H1154.18V262.93H1157.43V264.55H1160.67V262.73H1163.92V263.00H1167.17V262.46H1170.42V263.92H1173.66V262.75H1176.91V263.12H1180.16V265.52H1183.41V263.81H1186.65V265.87H1189.90V266.53H1193.15V263.48H1196.40V266.18H1199.64V267.69H1202.89V266.00H1206.14V265.88H1209.39V265.42H1212.63V266.89H1215.88V268.37H1219.13V268.08H1222.38V265.13H1225.62V266.78H1228.87V267.26H1232.12V268.13H1235.37V267.83H1238.62V268.35H1241.86V268.56H1245.11V266.70H1248.36V268.51H1251.61V268.84H1254.85V268.69H1258.10V269.31H1261.35V270.62H1264.60V269.55H1267.84V269.13H1271.09V267.63H1274.34V269.55H1277.59V267.50H1280.83V268.04H1284.08V270.13H1287.33V270.05H1290.58V269.33H1293.82V267.98H1297.07V269.25H1300.32V269.04H1303.57V270.29H1306.81V271.84H1310.06V270.10H1313.31V269.31H1316.56V269.07H1319.80V270.19H1323.05V270.20H1326.30V269.44H1329.55V270.69H1332.79V269.66H1336.04V273.19H1339.29V271.83H1342.54V271.93H1345.78V272.77H1349.03V271.52H1352.28V270.98H1355.53V270.79H1358.77V270.88H1362.02V270.06H1365.27V269.97H1368.52V272.02H1371.76V271.16H1375.01V271.55H1378.26V272.28H1381.51V269.83H1384.75V270.69H1388.00" fill="none" stroke="rgba(255,255,255,0.55)" stroke-width="2.8"/><path d="M89.00,186.32H92.25V185.29H95.50V183.91H98.74V183.20H101.99V183.59H105.24V183.11H108.48V184.05H111.73V185.21H114.98V183.54H118.23V183.32H121.47V184.13H124.72V183.74H127.97V183.19H131.22V181.90H134.47V182.32H137.71V180.82H140.96V180.23H144.21V178.46H147.45V178.23H150.70V177.94H153.95V176.65H157.20V177.41H160.44V175.96H163.69V177.01H166.94V176.59H170.19V175.98H173.44V173.61H176.68V175.14H179.93V173.36H183.18V175.33H186.43V173.72H189.67V174.59H192.92V172.69H196.17V174.27H199.42V175.95H202.66V174.27H205.91V174.97H209.16V175.80H212.41V174.47H215.65V174.90H218.90V175.10H222.15V175.06H225.40V173.90H228.64V175.07H231.89V176.22H235.14V173.61H238.38V175.77H241.63V175.11H244.88V174.26H248.13V175.66H251.38V173.69H254.62V171.62H257.87V172.56H261.12V172.83H264.37V171.92H267.61V172.33H270.86V171.07H274.11V171.12H277.36V171.38H280.60V169.41H283.85V170.35H287.10V170.02H290.35V170.86H293.59V168.51H296.84V170.70H300.09V171.23H303.34V172.43H306.58V172.94H309.83V171.26H313.08V172.70H316.32V175.14H319.57V173.79H322.82V175.84H326.07V176.68H329.31V178.34H332.56V178.24H335.81V177.77H339.06V178.30H342.31V179.01H345.55V181.11H348.80V179.61H352.05V179.09H355.30V178.13H358.54V176.89H361.79V177.71H365.04V178.79H368.29V181.90H371.53V183.01H374.78V186.48H378.03V184.91H381.27V184.58H384.52V185.44H387.77V184.74H391.02V186.16H394.26V185.33H397.51V186.00H400.76V184.50H404.01V186.30H407.25V184.96H410.50V185.23H413.75V187.37H417.00V187.33H420.25V188.77H423.49V191.11H426.74V188.81H429.99V187.97H433.24V190.71H436.48V191.47H439.73V191.35H442.98V193.74H446.23V192.98H449.47V193.15H452.72V192.06H455.97V193.25H459.21V193.74H462.46V193.22H465.71V194.92H468.96V194.42H472.20V196.52H475.45V196.19H478.70V196.45H481.95V196.15H485.19V196.86H488.44V195.40H491.69V197.92H494.94V197.83H498.19V195.76H501.43V198.68H504.68V196.91H507.93V200.02H511.18V199.42H514.42V201.37H517.67V200.77H520.92V199.09H524.16V201.36H527.41V201.35H530.66V199.97H533.91V200.34H537.15V201.31H540.40V201.88H543.65V205.15H546.90V204.51H550.14V205.54H553.39V205.54H556.64V206.78H559.89V208.64H563.13V213.81H566.38V214.53H569.63V216.96H572.88V217.71H576.12V218.03H579.37V223.06H582.62V225.87H585.87V229.25H589.12V229.71H592.36V233.66H595.61V234.39H598.86V236.26H602.11V239.60H605.35V238.32H608.60V237.85H611.85V238.16H615.10V237.69H618.34V233.19H621.59V230.50H624.84V227.20H628.09V226.02H631.33V228.26H634.58V228.96H637.83V225.63H641.08V221.42H644.32V220.80H647.57V219.39H650.82V219.19H654.07V215.87H657.31V212.58H660.56V214.54H663.81V213.98H667.05V213.04H670.30V212.32H673.55V211.36H676.80V210.44H680.04V209.82H683.29V204.42H686.54V200.31H689.79V195.73H693.03V190.20H696.28V183.53H699.53V177.90H702.78V171.96H706.02V170.85H709.27V171.29H712.52V170.02H715.77V167.93H719.01V167.43H722.26V166.78H725.51V169.09H728.76V168.90H732.00V169.87H735.25V174.36H738.50V175.35H741.75V180.91H745.00V184.64H748.24V189.21H751.49V194.07H754.74V197.33H757.99V198.42H761.23V199.53H764.48V205.85H767.73V206.48H770.98V209.36H774.22V211.72H777.47V210.94H780.72V211.61H783.97V213.59H787.21V211.20H790.46V208.80H793.71V207.39H796.96V204.98H800.20V202.78H803.45V202.19H806.70V199.54H809.95V195.41H813.19V198.05H816.44V196.59H819.69V196.27H822.93V194.71H826.18V195.07H829.43V194.97H832.68V195.39H835.92V196.83H839.17V197.70H842.42V201.49H845.67V204.28H848.91V208.07H852.16V207.20H855.41V211.59H858.66V213.24H861.90V216.03H865.15V217.88H868.40V223.13H871.65V230.26H874.89V231.72H878.14V234.06H881.39V235.48H884.64V238.36H887.88V238.90H891.13V238.21H894.38V240.16H897.63V239.32H900.88V238.39H904.12V241.02H907.37V241.27H910.62V241.96H913.87V241.21H917.11V241.92H920.36V242.59H923.61V244.09H926.86V244.54H930.10V244.88H933.35V245.20H936.60V245.92H939.85V245.68H943.09V245.34H946.34V242.72H949.59V245.53H952.84V244.42H956.08V246.00H959.33V243.86H962.58V243.46H965.83V245.55H969.07V245.03H972.32V248.58H975.57V247.41H978.82V248.37H982.06V250.28H985.31V250.57H988.56V246.70H991.80V251.67H995.05V251.98H998.30V252.69H1001.55V252.21H1004.79V253.49H1008.04V254.11H1011.29V254.50H1014.54V255.59H1017.78V255.83H1021.03V257.79H1024.28V256.50H1027.53V257.23H1030.78V256.50H1034.02V260.06H1037.27V259.97H1040.52V260.31H1043.76V260.38H1047.01V260.05H1050.26V260.19H1053.51V259.48H1056.76V258.88H1060.00V258.24H1063.25V258.55H1066.50V256.69H1069.74V255.24H1072.99V254.11H1076.24V253.74H1079.49V255.79H1082.74V255.00H1085.98V254.92H1089.23V254.93H1092.48V254.67H1095.72V256.03H1098.97V257.25H1102.22V256.50H1105.47V257.08H1108.72V257.53H1111.96V258.30H1115.21V257.23H1118.46V258.92H1121.70V258.81H1124.95V260.79H1128.20V259.69H1131.45V259.33H1134.69V262.39H1137.94V261.02H1141.19V261.03H1144.44V261.99H1147.68V263.34H1150.93V261.40H1154.18V262.93H1157.43V264.55H1160.67V262.73H1163.92V263.00H1167.17V262.46H1170.42V263.92H1173.66V262.75H1176.91V263.12H1180.16V265.52H1183.41V263.81H1186.65V265.87H1189.90V266.53H1193.15V263.48H1196.40V266.18H1199.64V267.69H1202.89V266.00H1206.14V265.88H1209.39V265.42H1212.63V266.89H1215.88V268.37H1219.13V268.08H1222.38V265.13H1225.62V266.78H1228.87V267.26H1232.12V268.13H1235.37V267.83H1238.62V268.35H1241.86V268.56H1245.11V266.70H1248.36V268.51H1251.61V268.84H1254.85V268.69H1258.10V269.31H1261.35V270.62H1264.60V269.55H1267.84V269.13H1271.09V267.63H1274.34V269.55H1277.59V267.50H1280.83V268.04H1284.08V270.13H1287.33V270.05H1290.58V269.33H1293.82V267.98H1297.07V269.25H1300.32V269.04H1303.57V270.29H1306.81V271.84H1310.06V270.10H1313.31V269.31H1316.56V269.07H1319.80V270.19H1323.05V270.20H1326.30V269.44H1329.55V270.69H1332.79V269.66H1336.04V273.19H1339.29V271.83H1342.54V271.93H1345.78V272.77H1349.03V271.52H1352.28V270.98H1355.53V270.79H1358.77V270.88H1362.02V270.06H1365.27V269.97H1368.52V272.02H1371.76V271.16H1375.01V271.55H1378.26V272.28H1381.51V269.83H1384.75V270.69H1388.00" fill="none" stroke="#87C8FA" stroke-width="1.65"/><path d="M89.00,188.96H92.25V187.89H95.50V186.82H98.74V186.50H101.99V188.78H105.24V189.03H108.48V188.75H111.73V188.47H114.98V186.59H118.23V186.66H121.47V187.95H124.72V188.12H127.97V188.07H131.22V186.76H134.47V185.88H137.71V183.87H140.96V184.63H144.21V184.60H147.45V185.01H150.70V184.29H153.95V182.02H157.20V181.80H160.44V179.92H163.69V181.39H166.94V181.84H170.19V182.21H173.44V180.63H176.68V182.41H179.93V179.96H183.18V181.14H186.43V179.03H189.67V179.36H192.92V176.99H196.17V178.30H199.42V180.09H202.66V179.04H205.91V180.62H209.16V182.28H212.41V181.44H215.65V181.77H218.90V181.48H222.15V180.79H225.40V179.08H228.64V180.01H231.89V181.04H235.14V178.35H238.38V180.44H241.63V179.68H244.88V178.85H248.13V181.05H251.38V179.69H254.62V177.46H257.87V177.98H261.12V177.89H264.37V177.01H267.61V177.72H270.86V177.00H274.11V177.62H277.36V178.30H280.60V176.39H283.85V177.18H287.10V176.58H290.35V177.11H293.59V174.50H296.84V176.48H300.09V176.82H303.34V177.81H306.58V178.03H309.83V175.99H313.08V177.14H316.32V179.34H319.57V177.84H322.82V179.83H326.07V180.69H329.31V182.40H332.56V182.32H335.81V181.75H339.06V182.03H342.31V182.44H345.55V184.26H348.80V182.61H352.05V182.51H355.30V182.59H358.54V181.89H361.79V182.43H365.04V182.90H368.29V185.31H371.53V185.89H374.78V189.10H378.03V187.31H381.27V186.82H384.52V187.57H387.77V186.85H391.02V188.37H394.26V187.76H397.51V188.66H400.76V187.37H404.01V189.27H407.25V187.92H410.50V188.11H413.75V190.18H417.00V190.14H420.25V191.62H423.49V194.02H426.74V191.75H429.99V190.86H433.24V193.47H436.48V194.04H439.73V193.74H442.98V195.97H446.23V195.14H449.47V195.27H452.72V194.17H455.97V195.36H459.21V195.84H462.46V195.34H465.71V197.07H468.96V196.60H472.20V198.72H475.45V198.40H478.70V198.66H481.95V198.37H485.19V199.07H488.44V197.60H491.69V200.17H494.94V200.14H498.19V198.03H501.43V200.76H504.68V198.43H507.93V200.68H511.18V199.89H514.42V203.50H517.67V203.11H520.92V201.58H524.16V204.06H527.41V204.20H530.66V202.88H533.91V203.36H537.15V204.59H540.40V204.95H543.65V207.38H546.90V205.82H550.14V206.04H553.39V205.15H556.64V205.27H559.89V205.45H563.13V208.99H566.38V208.97H569.63V211.46H572.88V211.87H576.12V210.44H579.37V212.84H582.62V213.36H585.87V215.35H589.12V214.58H592.36V216.69H595.61V215.47H598.86V215.64H602.11V217.49H605.35V214.96H608.60V214.16H611.85V214.96H615.10V215.37H618.34V211.93H621.59V211.37H624.84V209.71H628.09V209.34H631.33V213.92H634.58V216.81H637.83V216.91H641.08V217.41H644.32V219.82H647.57V220.62H650.82V222.17H654.07V220.19H657.31V216.50H660.56V217.75H663.81V217.93H667.05V218.25H670.30V218.95H673.55V219.92H676.80V221.54H680.04V223.83H683.29V223.16H686.54V222.68H689.79V221.88H693.03V221.92H696.28V220.77H699.53V220.38H702.78V218.08H706.02V220.02H709.27V223.03H712.52V223.87H715.77V223.42H719.01V224.35H722.26V224.82H725.51V227.04H728.76V225.40H732.00V224.47H735.25V226.66H738.50V224.70H741.75V227.18H745.00V227.45H748.24V228.36H751.49V229.80H754.74V229.97H757.99V228.13H761.23V226.66H764.48V230.94H767.73V229.86H770.98V231.46H774.22V232.93H777.47V231.29H780.72V231.24H783.97V233.40H787.21V232.98H790.46V232.37H793.71V232.28H796.96V231.25H800.20V230.75H803.45V232.61H806.70V232.81H809.95V231.28H813.19V235.68H816.44V235.66H819.69V236.34H822.93V235.21H826.18V235.59H829.43V235.36H832.68V235.57H835.92V236.74H839.17V236.36H842.42V238.12H845.67V238.86H848.91V241.14H852.16V238.90H855.41V241.40H858.66V240.37H861.90V240.14H865.15V238.70H868.40V240.89H871.65V245.06H874.89V243.86H878.14V244.51H881.39V244.61H884.64V246.43H887.88V246.08H891.13V244.78H894.38V246.47H897.63V245.33H900.88V244.17H904.12V246.62H907.37V246.70H910.62V247.14H913.87V246.21H917.11V247.05H920.36V248.00H923.61V249.70H926.86V250.04H930.10V250.07H933.35V250.24H936.60V250.99H939.85V250.81H943.09V250.55H946.34V248.00H949.59V250.89H952.84V249.87H956.08V251.56H959.33V249.54H962.58V249.32H965.83V251.69H969.07V251.48H972.32V255.35H975.57V254.45H978.82V255.56H982.06V257.47H985.31V257.59H988.56V253.44H991.80V258.10H995.05V258.08H998.30V258.43H1001.55V257.60H1004.79V258.53H1008.04V258.82H1011.29V258.91H1014.54V259.74H1017.78V259.65H1021.03V261.23H1024.28V259.55H1027.53V259.90H1030.78V258.84H1034.02V262.13H1037.27V261.86H1040.52V262.14H1043.76V262.45H1047.01V262.69H1050.26V263.09H1053.51V262.38H1056.76V261.77H1060.00V261.11H1063.25V261.40H1066.50V259.52H1069.74V258.06H1072.99V256.92H1076.24V256.54H1079.49V258.58H1082.74V257.72H1085.98V257.54H1089.23V257.43H1092.48V257.05H1095.72V258.29H1098.97V259.44H1102.22V258.64H1105.47V259.18H1108.72V259.63H1111.96V260.39H1115.21V259.35H1118.46V261.05H1121.70V260.96H1124.95V262.97H1128.20V261.88H1131.45V261.53H1134.69V264.59H1137.94V263.22H1141.19V263.23H1144.44V264.21H1147.68V265.56H1150.93V263.62H1154.18V265.16H1157.43V266.79H1160.67V264.96H1163.92V265.23H1167.17V264.69H1170.42V266.14H1173.66V264.95H1176.91V265.30H1180.16V267.68H1183.41V265.95H1186.65V267.97H1189.90V268.61H1193.15V265.53H1196.40V268.19H1199.64V269.67H1202.89V267.94H1206.14V267.79H1209.39V267.29H1212.63V268.72H1215.88V270.18H1219.13V269.86H1222.38V266.88H1225.62V268.48H1228.87V268.91H1232.12V269.74H1235.37V269.40H1238.62V269.88H1241.86V270.05H1245.11V268.16H1248.36V269.95H1251.61V270.28H1254.85V270.13H1258.10V270.79H1261.35V272.15H1264.60V271.15H1267.84V270.82H1271.09V269.42H1274.34V271.46H1277.59V269.54H1280.83V270.20H1284.08V272.41H1287.33V272.45H1290.58V271.85H1293.82V270.60H1297.07V271.95H1300.32V271.80H1303.57V273.10H1306.81V274.67H1310.06V272.93H1313.31V272.12H1316.56V271.86H1319.80V272.94H1323.05V272.91H1326.30V272.11H1329.55V273.33H1332.79V272.26H1336.04V275.78H1339.29V274.41H1342.54V274.50H1345.78V275.37H1349.03V274.15H1352.28V273.65H1355.53V273.50H1358.77V273.63H1362.02V272.84H1365.27V272.79H1368.52V274.88H1371.76V274.08H1375.01V274.52H1378.26V275.31H1381.51V272.92H1384.75V273.86H1388.00" fill="none" stroke="rgba(255,255,255,0.55)" stroke-width="2.8"/><path d="M89.00,188.96H92.25V187.89H95.50V186.82H98.74V186.50H101.99V188.78H105.24V189.03H108.48V188.75H111.73V188.47H114.98V186.59H118.23V186.66H121.47V187.95H124.72V188.12H127.97V188.07H131.22V186.76H134.47V185.88H137.71V183.87H140.96V184.63H144.21V184.60H147.45V185.01H150.70V184.29H153.95V182.02H157.20V181.80H160.44V179.92H163.69V181.39H166.94V181.84H170.19V182.21H173.44V180.63H176.68V182.41H179.93V179.96H183.18V181.14H186.43V179.03H189.67V179.36H192.92V176.99H196.17V178.30H199.42V180.09H202.66V179.04H205.91V180.62H209.16V182.28H212.41V181.44H215.65V181.77H218.90V181.48H222.15V180.79H225.40V179.08H228.64V180.01H231.89V181.04H235.14V178.35H238.38V180.44H241.63V179.68H244.88V178.85H248.13V181.05H251.38V179.69H254.62V177.46H257.87V177.98H261.12V177.89H264.37V177.01H267.61V177.72H270.86V177.00H274.11V177.62H277.36V178.30H280.60V176.39H283.85V177.18H287.10V176.58H290.35V177.11H293.59V174.50H296.84V176.48H300.09V176.82H303.34V177.81H306.58V178.03H309.83V175.99H313.08V177.14H316.32V179.34H319.57V177.84H322.82V179.83H326.07V180.69H329.31V182.40H332.56V182.32H335.81V181.75H339.06V182.03H342.31V182.44H345.55V184.26H348.80V182.61H352.05V182.51H355.30V182.59H358.54V181.89H361.79V182.43H365.04V182.90H368.29V185.31H371.53V185.89H374.78V189.10H378.03V187.31H381.27V186.82H384.52V187.57H387.77V186.85H391.02V188.37H394.26V187.76H397.51V188.66H400.76V187.37H404.01V189.27H407.25V187.92H410.50V188.11H413.75V190.18H417.00V190.14H420.25V191.62H423.49V194.02H426.74V191.75H429.99V190.86H433.24V193.47H436.48V194.04H439.73V193.74H442.98V195.97H446.23V195.14H449.47V195.27H452.72V194.17H455.97V195.36H459.21V195.84H462.46V195.34H465.71V197.07H468.96V196.60H472.20V198.72H475.45V198.40H478.70V198.66H481.95V198.37H485.19V199.07H488.44V197.60H491.69V200.17H494.94V200.14H498.19V198.03H501.43V200.76H504.68V198.43H507.93V200.68H511.18V199.89H514.42V203.50H517.67V203.11H520.92V201.58H524.16V204.06H527.41V204.20H530.66V202.88H533.91V203.36H537.15V204.59H540.40V204.95H543.65V207.38H546.90V205.82H550.14V206.04H553.39V205.15H556.64V205.27H559.89V205.45H563.13V208.99H566.38V208.97H569.63V211.46H572.88V211.87H576.12V210.44H579.37V212.84H582.62V213.36H585.87V215.35H589.12V214.58H592.36V216.69H595.61V215.47H598.86V215.64H602.11V217.49H605.35V214.96H608.60V214.16H611.85V214.96H615.10V215.37H618.34V211.93H621.59V211.37H624.84V209.71H628.09V209.34H631.33V213.92H634.58V216.81H637.83V216.91H641.08V217.41H644.32V219.82H647.57V220.62H650.82V222.17H654.07V220.19H657.31V216.50H660.56V217.75H663.81V217.93H667.05V218.25H670.30V218.95H673.55V219.92H676.80V221.54H680.04V223.83H683.29V223.16H686.54V222.68H689.79V221.88H693.03V221.92H696.28V220.77H699.53V220.38H702.78V218.08H706.02V220.02H709.27V223.03H712.52V223.87H715.77V223.42H719.01V224.35H722.26V224.82H725.51V227.04H728.76V225.40H732.00V224.47H735.25V226.66H738.50V224.70H741.75V227.18H745.00V227.45H748.24V228.36H751.49V229.80H754.74V229.97H757.99V228.13H761.23V226.66H764.48V230.94H767.73V229.86H770.98V231.46H774.22V232.93H777.47V231.29H780.72V231.24H783.97V233.40H787.21V232.98H790.46V232.37H793.71V232.28H796.96V231.25H800.20V230.75H803.45V232.61H806.70V232.81H809.95V231.28H813.19V235.68H816.44V235.66H819.69V236.34H822.93V235.21H826.18V235.59H829.43V235.36H832.68V235.57H835.92V236.74H839.17V236.36H842.42V238.12H845.67V238.86H848.91V241.14H852.16V238.90H855.41V241.40H858.66V240.37H861.90V240.14H865.15V238.70H868.40V240.89H871.65V245.06H874.89V243.86H878.14V244.51H881.39V244.61H884.64V246.43H887.88V246.08H891.13V244.78H894.38V246.47H897.63V245.33H900.88V244.17H904.12V246.62H907.37V246.70H910.62V247.14H913.87V246.21H917.11V247.05H920.36V248.00H923.61V249.70H926.86V250.04H930.10V250.07H933.35V250.24H936.60V250.99H939.85V250.81H943.09V250.55H946.34V248.00H949.59V250.89H952.84V249.87H956.08V251.56H959.33V249.54H962.58V249.32H965.83V251.69H969.07V251.48H972.32V255.35H975.57V254.45H978.82V255.56H982.06V257.47H985.31V257.59H988.56V253.44H991.80V258.10H995.05V258.08H998.30V258.43H1001.55V257.60H1004.79V258.53H1008.04V258.82H1011.29V258.91H1014.54V259.74H1017.78V259.65H1021.03V261.23H1024.28V259.55H1027.53V259.90H1030.78V258.84H1034.02V262.13H1037.27V261.86H1040.52V262.14H1043.76V262.45H1047.01V262.69H1050.26V263.09H1053.51V262.38H1056.76V261.77H1060.00V261.11H1063.25V261.40H1066.50V259.52H1069.74V258.06H1072.99V256.92H1076.24V256.54H1079.49V258.58H1082.74V257.72H1085.98V257.54H1089.23V257.43H1092.48V257.05H1095.72V258.29H1098.97V259.44H1102.22V258.64H1105.47V259.18H1108.72V259.63H1111.96V260.39H1115.21V259.35H1118.46V261.05H1121.70V260.96H1124.95V262.97H1128.20V261.88H1131.45V261.53H1134.69V264.59H1137.94V263.22H1141.19V263.23H1144.44V264.21H1147.68V265.56H1150.93V263.62H1154.18V265.16H1157.43V266.79H1160.67V264.96H1163.92V265.23H1167.17V264.69H1170.42V266.14H1173.66V264.95H1176.91V265.30H1180.16V267.68H1183.41V265.95H1186.65V267.97H1189.90V268.61H1193.15V265.53H1196.40V268.19H1199.64V269.67H1202.89V267.94H1206.14V267.79H1209.39V267.29H1212.63V268.72H1215.88V270.18H1219.13V269.86H1222.38V266.88H1225.62V268.48H1228.87V268.91H1232.12V269.74H1235.37V269.40H1238.62V269.88H1241.86V270.05H1245.11V268.16H1248.36V269.95H1251.61V270.28H1254.85V270.13H1258.10V270.79H1261.35V272.15H1264.60V271.15H1267.84V270.82H1271.09V269.42H1274.34V271.46H1277.59V269.54H1280.83V270.20H1284.08V272.41H1287.33V272.45H1290.58V271.85H1293.82V270.60H1297.07V271.95H1300.32V271.80H1303.57V273.10H1306.81V274.67H1310.06V272.93H1313.31V272.12H1316.56V271.86H1319.80V272.94H1323.05V272.91H1326.30V272.11H1329.55V273.33H1332.79V272.26H1336.04V275.78H1339.29V274.41H1342.54V274.50H1345.78V275.37H1349.03V274.15H1352.28V273.65H1355.53V273.50H1358.77V273.63H1362.02V272.84H1365.27V272.79H1368.52V274.88H1371.76V274.08H1375.01V274.52H1378.26V275.31H1381.51V272.92H1384.75V273.86H1388.00" fill="none" stroke="#FF4A14" stroke-width="1.65"/></g>
<rect x="1011.5" y="8.5" width="360" height="160" rx="5" fill="rgba(252,252,242,0.7)" stroke="#F9E0E0" stroke-width="1"/>
<rect x="1020.5" y="17.70" width="18.5" height="18.5" fill="#FF4810"/>
<text x="1042.5" y="34.30" font-family="Liberation Sans, sans-serif" font-size="16.5" fill="#333">Residual[Th_1_20kV_1ks+U_1_0.1pct_1].1</text>
<rect x="1020.5" y="39.13" width="18.5" height="18.5" fill="#0A4A8A"/>
<text x="1042.5" y="55.73" font-family="Liberation Sans, sans-serif" font-size="16.5" fill="#333">Th_1_20kV_1ks+U_1_0.1pct_1</text>
<rect x="1020.5" y="60.56" width="18.5" height="18.5" fill="#5B9E2E"/>
<text x="1042.5" y="77.16" font-family="Liberation Sans, sans-serif" font-size="16.5" fill="#333">Residual[Th_1_20kV_1ks+U_10pct_1].1</text>
<rect x="1020.5" y="81.99" width="18.5" height="18.5" fill="#7B0026"/>
<text x="1042.5" y="98.59" font-family="Liberation Sans, sans-serif" font-size="16.5" fill="#333">Residual[Th_1_20kV_1ks+U_1_5pct-1].1</text>
<rect x="1020.5" y="103.42" width="18.5" height="18.5" fill="#87C8FA"/>
<text x="1042.5" y="120.02" font-family="Liberation Sans, sans-serif" font-size="16.5" fill="#333">Residual[Th_1_20kV_1ks+U_1_2pct-1].1</text>
<rect x="1020.5" y="124.85" width="18.5" height="18.5" fill="#2E3A0C"/>
<text x="1042.5" y="141.45" font-family="Liberation Sans, sans-serif" font-size="16.5" fill="#333">Residual[Th_1_20kV_1ks+U_1_1pct-1].1</text>
<rect x="1020.5" y="146.28" width="18.5" height="18.5" fill="#B0CC00"/>
<text x="1042.5" y="162.88" font-family="Liberation Sans, sans-serif" font-size="16.5" fill="#333">Residual[Th_1_20kV_1ks+U_1_1pct-1]</text>
<line x1="89.0" y1="2.0" x2="1388.8" y2="2.0" stroke="#9A9A9A" stroke-width="1.6"/>
<line x1="1388.0" y1="1.2" x2="1388.0" y2="387.3" stroke="#6E6E6E" stroke-width="1.6"/>
<line x1="89.0" y1="1.2" x2="89.0" y2="387.3" stroke="#A0A0A0" stroke-width="1.8"/>
<line x1="89.0" y1="387.3" x2="1388.8" y2="387.3" stroke="#767676" stroke-width="1.8"/>
<line x1="83.0" y1="387.30" x2="89.0" y2="387.30" stroke="#555" stroke-width="1.6"/>
<text x="81" y="393.10" font-family="Liberation Sans, sans-serif" font-size="16.2" fill="#3A3A3A" text-anchor="end">0</text>
<line x1="83.0" y1="267.30" x2="89.0" y2="267.30" stroke="#555" stroke-width="1.6"/>
<text x="81" y="273.10" font-family="Liberation Sans, sans-serif" font-size="16.2" fill="#3A3A3A" text-anchor="end">50 000</text>
<line x1="83.0" y1="147.30" x2="89.0" y2="147.30" stroke="#555" stroke-width="1.6"/>
<text x="81" y="153.10" font-family="Liberation Sans, sans-serif" font-size="16.2" fill="#3A3A3A" text-anchor="end">100 000</text>
<line x1="83.0" y1="27.30" x2="89.0" y2="27.30" stroke="#555" stroke-width="1.6"/>
<text x="81" y="33.10" font-family="Liberation Sans, sans-serif" font-size="16.2" fill="#3A3A3A" text-anchor="end">150 000</text>
<line x1="89.00" y1="386.3" x2="89.00" y2="394.3" stroke="#555" stroke-width="1.6"/>
<text x="89.00" y="408.3" font-family="Liberation Sans, sans-serif" font-size="16.2" fill="#3A3A3A" text-anchor="middle">2.2</text>
<line x1="218.90" y1="386.3" x2="218.90" y2="394.3" stroke="#555" stroke-width="1.6"/>
<text x="218.90" y="408.3" font-family="Liberation Sans, sans-serif" font-size="16.2" fill="#3A3A3A" text-anchor="middle">2.4</text>
<line x1="348.80" y1="386.3" x2="348.80" y2="394.3" stroke="#555" stroke-width="1.6"/>
<text x="348.80" y="408.3" font-family="Liberation Sans, sans-serif" font-size="16.2" fill="#3A3A3A" text-anchor="middle">2.6</text>
<line x1="478.70" y1="386.3" x2="478.70" y2="394.3" stroke="#555" stroke-width="1.6"/>
<text x="478.70" y="408.3" font-family="Liberation Sans, sans-serif" font-size="16.2" fill="#3A3A3A" text-anchor="middle">2.8</text>
<line x1="608.60" y1="386.3" x2="608.60" y2="394.3" stroke="#555" stroke-width="1.6"/>
<text x="608.60" y="408.3" font-family="Liberation Sans, sans-serif" font-size="16.2" fill="#3A3A3A" text-anchor="middle">3.0</text>
<line x1="738.50" y1="386.3" x2="738.50" y2="394.3" stroke="#555" stroke-width="1.6"/>
<text x="738.50" y="408.3" font-family="Liberation Sans, sans-serif" font-size="16.2" fill="#3A3A3A" text-anchor="middle">3.2</text>
<line x1="868.40" y1="386.3" x2="868.40" y2="394.3" stroke="#555" stroke-width="1.6"/>
<text x="868.40" y="408.3" font-family="Liberation Sans, sans-serif" font-size="16.2" fill="#3A3A3A" text-anchor="middle">3.4</text>
<line x1="998.30" y1="386.3" x2="998.30" y2="394.3" stroke="#555" stroke-width="1.6"/>
<text x="998.30" y="408.3" font-family="Liberation Sans, sans-serif" font-size="16.2" fill="#3A3A3A" text-anchor="middle">3.6</text>
<line x1="1128.20" y1="386.3" x2="1128.20" y2="394.3" stroke="#555" stroke-width="1.6"/>
<text x="1128.20" y="408.3" font-family="Liberation Sans, sans-serif" font-size="16.2" fill="#3A3A3A" text-anchor="middle">3.8</text>
<line x1="1258.10" y1="386.3" x2="1258.10" y2="394.3" stroke="#555" stroke-width="1.6"/>
<text x="1258.10" y="408.3" font-family="Liberation Sans, sans-serif" font-size="16.2" fill="#3A3A3A" text-anchor="middle">4.0</text>
<line x1="1388.00" y1="386.3" x2="1388.00" y2="394.3" stroke="#555" stroke-width="1.6"/>
<text x="1388.00" y="408.3" font-family="Liberation Sans, sans-serif" font-size="16.2" fill="#3A3A3A" text-anchor="middle">4.2</text>
<text x="738.5" y="426" font-family="Liberation Sans, sans-serif" font-size="16.2" fill="#3A3A3A" text-anchor="middle">Energy (keV)</text>
<text transform="translate(14.5,195) rotate(-90)" font-family="Liberation Sans, sans-serif" font-size="16.2" fill="#3A3A3A" text-anchor="middle">Counts</text>
<text x="554.5" y="25.7" font-family="Liberation Sans, sans-serif" font-weight="bold" font-size="25" fill="#0C0CF2">Th matrix</text>
<text x="554.5" y="60.0" font-family="Liberation Sans, sans-serif" font-weight="bold" font-size="25" fill="#14A850">10 pct U</text>
<text x="554.5" y="94.2" font-family="Liberation Sans, sans-serif" font-weight="bold" font-size="25" fill="#603410">5 pct U</text>
<text x="554.5" y="128.4" font-family="Liberation Sans, sans-serif" font-weight="bold" font-size="25" fill="#1AAEEA">2 pct U</text>
<text x="554.5" y="162.7" font-family="Liberation Sans, sans-serif" font-weight="bold" font-size="25" fill="#050505">1 pct U</text>
<text x="554.5" y="197.0" font-family="Liberation Sans, sans-serif" font-weight="bold" font-size="25" fill="#C25A10">0.1 pct U</text>
<clipPath id="clip1"><rect x="89.0" y="429.0" width="1299.0" height="385.3"/></clipPath>
<clipPath id="gclip1"><rect x="90.8" y="430.8" width="1295.4" height="381.7"/></clipPath>
<rect x="90.8" y="430.8" width="1295.4" height="381.7" fill="#FCFCF2"/>
<g clip-path="url(#gclip1)"><line x1="114.98" y1="429.0" x2="114.98" y2="814.3" stroke="#FCEEEE" stroke-width="1.5"/><line x1="140.96" y1="429.0" x2="140.96" y2="814.3" stroke="#FCEEEE" stroke-width="1.5"/><line x1="166.94" y1="429.0" x2="166.94" y2="814.3" stroke="#FCEEEE" stroke-width="1.5"/><line x1="192.92" y1="429.0" x2="192.92" y2="814.3" stroke="#FCEEEE" stroke-width="1.5"/><line x1="218.90" y1="429.0" x2="218.90" y2="814.3" stroke="#FCDADA" stroke-width="1.5"/><line x1="244.88" y1="429.0" x2="244.88" y2="814.3" stroke="#FCEEEE" stroke-width="1.5"/><line x1="270.86" y1="429.0" x2="270.86" y2="814.3" stroke="#FCEEEE" stroke-width="1.5"/><line x1="296.84" y1="429.0" x2="296.84" y2="814.3" stroke="#FCEEEE" stroke-width="1.5"/><line x1="322.82" y1="429.0" x2="322.82" y2="814.3" stroke="#FCEEEE" stroke-width="1.5"/><line x1="348.80" y1="429.0" x2="348.80" y2="814.3" stroke="#FCDADA" stroke-width="1.5"/><line x1="374.78" y1="429.0" x2="374.78" y2="814.3" stroke="#FCEEEE" stroke-width="1.5"/><line x1="400.76" y1="429.0" x2="400.76" y2="814.3" stroke="#FCEEEE" stroke-width="1.5"/><line x1="426.74" y1="429.0" x2="426.74" y2="814.3" stroke="#FCEEEE" stroke-width="1.5"/><line x1="452.72" y1="429.0" x2="452.72" y2="814.3" stroke="#FCEEEE" stroke-width="1.5"/><line x1="478.70" y1="429.0" x2="478.70" y2="814.3" stroke="#FCDADA" stroke-width="1.5"/><line x1="504.68" y1="429.0" x2="504.68" y2="814.3" stroke="#FCEEEE" stroke-width="1.5"/><line x1="530.66" y1="429.0" x2="530.66" y2="814.3" stroke="#FCEEEE" stroke-width="1.5"/><line x1="556.64" y1="429.0" x2="556.64" y2="814.3" stroke="#FCEEEE" stroke-width="1.5"/><line x1="582.62" y1="429.0" x2="582.62" y2="814.3" stroke="#FCEEEE" stroke-width="1.5"/><line x1="608.60" y1="429.0" x2="608.60" y2="814.3" stroke="#FCDADA" stroke-width="1.5"/><line x1="634.58" y1="429.0" x2="634.58" y2="814.3" stroke="#FCEEEE" stroke-width="1.5"/><line x1="660.56" y1="429.0" x2="660.56" y2="814.3" stroke="#FCEEEE" stroke-width="1.5"/><line x1="686.54" y1="429.0" x2="686.54" y2="814.3" stroke="#FCEEEE" stroke-width="1.5"/><line x1="712.52" y1="429.0" x2="712.52" y2="814.3" stroke="#FCEEEE" stroke-width="1.5"/><line x1="738.50" y1="429.0" x2="738.50" y2="814.3" stroke="#FCDADA" stroke-width="1.5"/><line x1="764.48" y1="429.0" x2="764.48" y2="814.3" stroke="#FCEEEE" stroke-width="1.5"/><line x1="790.46" y1="429.0" x2="790.46" y2="814.3" stroke="#FCEEEE" stroke-width="1.5"/><line x1="816.44" y1="429.0" x2="816.44" y2="814.3" stroke="#FCEEEE" stroke-width="1.5"/><line x1="842.42" y1="429.0" x2="842.42" y2="814.3" stroke="#FCEEEE" stroke-width="1.5"/><line x1="868.40" y1="429.0" x2="868.40" y2="814.3" stroke="#FCDADA" stroke-width="1.5"/><line x1="894.38" y1="429.0" x2="894.38" y2="814.3" stroke="#FCEEEE" stroke-width="1.5"/><line x1="920.36" y1="429.0" x2="920.36" y2="814.3" stroke="#FCEEEE" stroke-width="1.5"/><line x1="946.34" y1="429.0" x2="946.34" y2="814.3" stroke="#FCEEEE" stroke-width="1.5"/><line x1="972.32" y1="429.0" x2="972.32" y2="814.3" stroke="#FCEEEE" stroke-width="1.5"/><line x1="998.30" y1="429.0" x2="998.30" y2="814.3" stroke="#FCDADA" stroke-width="1.5"/><line x1="1024.28" y1="429.0" x2="1024.28" y2="814.3" stroke="#FCEEEE" stroke-width="1.5"/><line x1="1050.26" y1="429.0" x2="1050.26" y2="814.3" stroke="#FCEEEE" stroke-width="1.5"/><line x1="1076.24" y1="429.0" x2="1076.24" y2="814.3" stroke="#FCEEEE" stroke-width="1.5"/><line x1="1102.22" y1="429.0" x2="1102.22" y2="814.3" stroke="#FCEEEE" stroke-width="1.5"/><line x1="1128.20" y1="429.0" x2="1128.20" y2="814.3" stroke="#FCDADA" stroke-width="1.5"/><line x1="1154.18" y1="429.0" x2="1154.18" y2="814.3" stroke="#FCEEEE" stroke-width="1.5"/><line x1="1180.16" y1="429.0" x2="1180.16" y2="814.3" stroke="#FCEEEE" stroke-width="1.5"/><line x1="1206.14" y1="429.0" x2="1206.14" y2="814.3" stroke="#FCEEEE" stroke-width="1.5"/><line x1="1232.12" y1="429.0" x2="1232.12" y2="814.3" stroke="#FCEEEE" stroke-width="1.5"/><line x1="1258.10" y1="429.0" x2="1258.10" y2="814.3" stroke="#FCDADA" stroke-width="1.5"/><line x1="1284.08" y1="429.0" x2="1284.08" y2="814.3" stroke="#FCEEEE" stroke-width="1.5"/><line x1="1310.06" y1="429.0" x2="1310.06" y2="814.3" stroke="#FCEEEE" stroke-width="1.5"/><line x1="1336.04" y1="429.0" x2="1336.04" y2="814.3" stroke="#FCEEEE" stroke-width="1.5"/><line x1="1362.02" y1="429.0" x2="1362.02" y2="814.3" stroke="#FCEEEE" stroke-width="1.5"/><line x1="89.0" y1="790.30" x2="1388.0" y2="790.30" stroke="#FCEEEE" stroke-width="1.5"/><line x1="89.0" y1="766.30" x2="1388.0" y2="766.30" stroke="#FCEEEE" stroke-width="1.5"/><line x1="89.0" y1="742.30" x2="1388.0" y2="742.30" stroke="#FCEEEE" stroke-width="1.5"/><line x1="89.0" y1="718.30" x2="1388.0" y2="718.30" stroke="#FCEEEE" stroke-width="1.5"/><line x1="89.0" y1="694.30" x2="1388.0" y2="694.30" stroke="#FCDADA" stroke-width="1.5"/><line x1="89.0" y1="670.30" x2="1388.0" y2="670.30" stroke="#FCEEEE" stroke-width="1.5"/><line x1="89.0" y1="646.30" x2="1388.0" y2="646.30" stroke="#FCEEEE" stroke-width="1.5"/><line x1="89.0" y1="622.30" x2="1388.0" y2="622.30" stroke="#FCEEEE" stroke-width="1.5"/><line x1="89.0" y1="598.30" x2="1388.0" y2="598.30" stroke="#FCEEEE" stroke-width="1.5"/><line x1="89.0" y1="574.30" x2="1388.0" y2="574.30" stroke="#FCDADA" stroke-width="1.5"/><line x1="89.0" y1="550.30" x2="1388.0" y2="550.30" stroke="#FCEEEE" stroke-width="1.5"/><line x1="89.0" y1="526.30" x2="1388.0" y2="526.30" stroke="#FCEEEE" stroke-width="1.5"/><line x1="89.0" y1="502.30" x2="1388.0" y2="502.30" stroke="#FCEEEE" stroke-width="1.5"/><line x1="89.0" y1="478.30" x2="1388.0" y2="478.30" stroke="#FCEEEE" stroke-width="1.5"/><line x1="89.0" y1="454.30" x2="1388.0" y2="454.30" stroke="#FCDADA" stroke-width="1.5"/><line x1="89.0" y1="430.30" x2="1388.0" y2="430.30" stroke="#FCEEEE" stroke-width="1.5"/></g>
<text x="93.5" y="451" font-family="Liberation Sans, sans-serif" font-size="16.5" fill="#C6C6C6">Same scale</text>
<g clip-path="url(#clip1)"><path d="M89.00,615.15H92.25V614.00H95.50V613.03H98.74V613.53H101.99V615.41H105.24V614.81H108.48V614.38H111.73V614.78H114.98V613.09H118.23V612.96H121.47V614.07H124.72V614.31H127.97V614.21H131.22V612.15H134.47V611.73H137.71V610.78H140.96V611.41H144.21V610.58H147.45V610.65H150.70V610.33H153.95V608.37H157.20V607.83H160.44V606.33H163.69V607.90H166.94V608.09H170.19V608.27H173.44V606.79H176.68V608.61H179.93V606.19H183.18V607.35H186.43V605.15H189.67V605.48H192.92V603.29H196.17V604.68H199.42V606.28H202.66V605.19H205.91V606.91H209.16V608.31H212.41V607.41H215.65V608.00H218.90V607.72H222.15V606.95H225.40V605.38H228.64V606.26H231.89V607.24H235.14V604.54H238.38V606.64H241.63V605.87H244.88V605.05H248.13V607.24H251.38V605.80H254.62V603.62H257.87V604.26H261.12V604.13H264.37V603.20H267.61V603.91H270.86V603.20H274.11V603.83H277.36V604.50H280.60V602.59H283.85V603.38H287.10V602.78H290.35V603.31H293.59V600.70H296.84V602.68H300.09V603.02H303.34V604.01H306.58V604.32H309.83V602.32H313.08V603.23H316.32V605.49H319.57V604.03H322.82V606.03H326.07V606.90H329.31V608.59H332.56V608.50H335.81V607.95H339.06V608.29H342.31V608.68H345.55V610.37H348.80V608.67H352.05V608.78H355.30V609.00H358.54V608.17H361.79V608.58H365.04V609.24H368.29V611.38H371.53V611.81H374.78V615.28H378.03V613.52H381.27V613.01H384.52V613.78H387.77V613.07H391.02V614.58H394.26V613.94H397.51V614.86H400.76V613.58H404.01V615.49H407.25V614.12H410.50V614.30H413.75V616.37H417.00V616.35H420.25V617.84H423.49V620.22H426.74V617.93H429.99V617.05H433.24V619.67H436.48V620.24H439.73V619.94H442.98V622.18H446.23V621.33H449.47V621.47H452.72V620.36H455.97V621.56H459.21V622.07H462.46V621.55H465.71V623.24H468.96V622.79H472.20V624.92H475.45V624.61H478.70V624.87H481.95V624.56H485.19V625.25H488.44V623.81H491.69V626.40H494.94V626.35H498.19V624.18H501.43V626.91H504.68V624.69H507.93V627.22H511.18V626.19H514.42V628.56H517.67V629.08H520.92V627.79H524.16V630.26H527.41V630.40H530.66V629.33H533.91V629.75H537.15V630.64H540.40V631.12H543.65V633.56H546.90V631.76H550.14V631.59H553.39V630.40H556.64V630.50H559.89V630.53H563.13V633.65H566.38V633.06H569.63V634.72H572.88V634.51H576.12V632.94H579.37V635.37H582.62V635.97H585.87V638.28H589.12V638.01H592.36V640.67H595.61V640.08H598.86V640.77H602.11V642.76H605.35V640.03H608.60V639.01H611.85V639.64H615.10V639.94H618.34V636.70H621.59V637.03H624.84V635.84H628.09V634.42H631.33V637.23H634.58V639.42H637.83V639.81H641.08V640.71H644.32V643.64H647.57V644.25H650.82V645.57H654.07V645.51H657.31V645.87H660.56V648.09H663.81V647.30H667.05V646.18H670.30V645.53H673.55V645.82H676.80V647.90H680.04V649.84H683.29V648.87H686.54V648.74H689.79V648.20H693.03V647.99H696.28V647.12H699.53V646.94H702.78V644.36H706.02V646.08H709.27V649.24H712.52V650.01H715.77V649.54H719.01V650.55H722.26V651.02H725.51V653.23H728.76V651.62H732.00V650.70H735.25V652.87H738.50V650.89H741.75V653.39H745.00V653.63H748.24V654.54H751.49V656.00H754.74V656.17H757.99V654.32H761.23V652.86H764.48V657.13H767.73V656.06H770.98V657.70H774.22V659.18H777.47V657.41H780.72V657.37H783.97V659.61H787.21V659.17H790.46V658.55H793.71V658.55H796.96V657.53H800.20V656.91H803.45V658.81H806.70V659.05H809.95V657.39H813.19V661.90H816.44V661.82H819.69V662.50H822.93V661.41H826.18V661.80H829.43V661.56H832.68V661.79H835.92V663.05H839.17V662.57H842.42V664.22H845.67V665.02H848.91V667.32H852.16V665.12H855.41V667.60H858.66V666.51H861.90V666.28H865.15V665.24H868.40V667.60H871.65V671.22H874.89V669.93H878.14V670.66H881.39V670.91H884.64V672.78H887.88V672.24H891.13V670.87H894.38V672.65H897.63V671.53H900.88V670.37H904.12V672.82H907.37V672.90H910.62V673.34H913.87V672.47H917.11V673.37H920.36V674.13H923.61V675.78H926.86V676.22H930.10V676.28H933.35V676.44H936.60V677.19H939.85V677.01H943.09V676.75H946.34V674.20H949.59V677.09H952.84V676.07H956.08V677.75H959.33V675.74H962.58V675.60H965.83V677.96H969.07V677.63H972.32V681.55H975.57V680.64H978.82V681.71H982.06V683.66H985.31V683.81H988.56V679.66H991.80V684.30H995.05V684.28H998.30V684.63H1001.55V683.80H1004.79V684.73H1008.04V685.02H1011.29V685.12H1014.54V685.94H1017.78V685.84H1021.03V687.43H1024.28V685.75H1027.53V686.10H1030.78V685.03H1034.02V688.32H1037.27V688.04H1040.52V688.40H1043.76V688.94H1047.01V688.96H1050.26V689.00H1053.51V688.39H1056.76V688.08H1060.00V687.37H1063.25V687.60H1066.50V685.70H1069.74V684.18H1072.99V683.23H1076.24V682.88H1079.49V684.77H1082.74V683.90H1085.98V683.74H1089.23V683.62H1092.48V683.24H1095.72V684.49H1098.97V685.65H1102.22V684.84H1105.47V685.38H1108.72V685.83H1111.96V686.59H1115.21V685.54H1118.46V687.25H1121.70V687.16H1124.95V689.17H1128.20V688.08H1131.45V687.72H1134.69V690.79H1137.94V689.42H1141.19V689.44H1144.44V690.41H1147.68V691.76H1150.93V689.82H1154.18V691.36H1157.43V692.99H1160.67V691.16H1163.92V691.43H1167.17V690.89H1170.42V692.34H1173.66V691.15H1176.91V691.50H1180.16V693.88H1183.41V692.15H1186.65V694.17H1189.90V694.81H1193.15V691.73H1196.40V694.39H1199.64V695.87H1202.89V694.14H1206.14V693.99H1209.39V693.49H1212.63V694.92H1215.88V696.38H1219.13V696.06H1222.38V693.08H1225.62V694.68H1228.87V695.11H1232.12V695.94H1235.37V695.60H1238.62V696.08H1241.86V696.25H1245.11V694.36H1248.36V696.15H1251.61V696.48H1254.85V696.33H1258.10V696.99H1261.35V698.35H1264.60V697.34H1267.84V697.02H1271.09V695.62H1274.34V697.66H1277.59V695.74H1280.83V696.40H1284.08V698.61H1287.33V698.65H1290.58V698.05H1293.82V696.80H1297.07V698.15H1300.32V698.00H1303.57V699.30H1306.81V700.87H1310.06V699.13H1313.31V698.32H1316.56V698.06H1319.80V699.14H1323.05V699.11H1326.30V698.31H1329.55V699.53H1332.79V698.46H1336.04V701.98H1339.29V700.61H1342.54V700.70H1345.78V701.57H1349.03V700.35H1352.28V699.85H1355.53V699.70H1358.77V699.83H1362.02V699.04H1365.27V698.99H1368.52V701.08H1371.76V700.28H1375.01V700.72H1378.26V701.51H1381.51V699.12H1384.75V700.02H1388.00" fill="none" stroke="rgba(255,255,255,0.55)" stroke-width="2.8"/><path d="M89.00,615.15H92.25V614.00H95.50V613.03H98.74V613.53H101.99V615.41H105.24V614.81H108.48V614.38H111.73V614.78H114.98V613.09H118.23V612.96H121.47V614.07H124.72V614.31H127.97V614.21H131.22V612.15H134.47V611.73H137.71V610.78H140.96V611.41H144.21V610.58H147.45V610.65H150.70V610.33H153.95V608.37H157.20V607.83H160.44V606.33H163.69V607.90H166.94V608.09H170.19V608.27H173.44V606.79H176.68V608.61H179.93V606.19H183.18V607.35H186.43V605.15H189.67V605.48H192.92V603.29H196.17V604.68H199.42V606.28H202.66V605.19H205.91V606.91H209.16V608.31H212.41V607.41H215.65V608.00H218.90V607.72H222.15V606.95H225.40V605.38H228.64V606.26H231.89V607.24H235.14V604.54H238.38V606.64H241.63V605.87H244.88V605.05H248.13V607.24H251.38V605.80H254.62V603.62H257.87V604.26H261.12V604.13H264.37V603.20H267.61V603.91H270.86V603.20H274.11V603.83H277.36V604.50H280.60V602.59H283.85V603.38H287.10V602.78H290.35V603.31H293.59V600.70H296.84V602.68H300.09V603.02H303.34V604.01H306.58V604.32H309.83V602.32H313.08V603.23H316.32V605.49H319.57V604.03H322.82V606.03H326.07V606.90H329.31V608.59H332.56V608.50H335.81V607.95H339.06V608.29H342.31V608.68H345.55V610.37H348.80V608.67H352.05V608.78H355.30V609.00H358.54V608.17H361.79V608.58H365.04V609.24H368.29V611.38H371.53V611.81H374.78V615.28H378.03V613.52H381.27V613.01H384.52V613.78H387.77V613.07H391.02V614.58H394.26V613.94H397.51V614.86H400.76V613.58H404.01V615.49H407.25V614.12H410.50V614.30H413.75V616.37H417.00V616.35H420.25V617.84H423.49V620.22H426.74V617.93H429.99V617.05H433.24V619.67H436.48V620.24H439.73V619.94H442.98V622.18H446.23V621.33H449.47V621.47H452.72V620.36H455.97V621.56H459.21V622.07H462.46V621.55H465.71V623.24H468.96V622.79H472.20V624.92H475.45V624.61H478.70V624.87H481.95V624.56H485.19V625.25H488.44V623.81H491.69V626.40H494.94V626.35H498.19V624.18H501.43V626.91H504.68V624.69H507.93V627.22H511.18V626.19H514.42V628.56H517.67V629.08H520.92V627.79H524.16V630.26H527.41V630.40H530.66V629.33H533.91V629.75H537.15V630.64H540.40V631.12H543.65V633.56H546.90V631.76H550.14V631.59H553.39V630.40H556.64V630.50H559.89V630.53H563.13V633.65H566.38V633.06H569.63V634.72H572.88V634.51H576.12V632.94H579.37V635.37H582.62V635.97H585.87V638.28H589.12V638.01H592.36V640.67H595.61V640.08H598.86V640.77H602.11V642.76H605.35V640.03H608.60V639.01H611.85V639.64H615.10V639.94H618.34V636.70H621.59V637.03H624.84V635.84H628.09V634.42H631.33V637.23H634.58V639.42H637.83V639.81H641.08V640.71H644.32V643.64H647.57V644.25H650.82V645.57H654.07V645.51H657.31V645.87H660.56V648.09H663.81V647.30H667.05V646.18H670.30V645.53H673.55V645.82H676.80V647.90H680.04V649.84H683.29V648.87H686.54V648.74H689.79V648.20H693.03V647.99H696.28V647.12H699.53V646.94H702.78V644.36H706.02V646.08H709.27V649.24H712.52V650.01H715.77V649.54H719.01V650.55H722.26V651.02H725.51V653.23H728.76V651.62H732.00V650.70H735.25V652.87H738.50V650.89H741.75V653.39H745.00V653.63H748.24V654.54H751.49V656.00H754.74V656.17H757.99V654.32H761.23V652.86H764.48V657.13H767.73V656.06H770.98V657.70H774.22V659.18H777.47V657.41H780.72V657.37H783.97V659.61H787.21V659.17H790.46V658.55H793.71V658.55H796.96V657.53H800.20V656.91H803.45V658.81H806.70V659.05H809.95V657.39H813.19V661.90H816.44V661.82H819.69V662.50H822.93V661.41H826.18V661.80H829.43V661.56H832.68V661.79H835.92V663.05H839.17V662.57H842.42V664.22H845.67V665.02H848.91V667.32H852.16V665.12H855.41V667.60H858.66V666.51H861.90V666.28H865.15V665.24H868.40V667.60H871.65V671.22H874.89V669.93H878.14V670.66H881.39V670.91H884.64V672.78H887.88V672.24H891.13V670.87H894.38V672.65H897.63V671.53H900.88V670.37H904.12V672.82H907.37V672.90H910.62V673.34H913.87V672.47H917.11V673.37H920.36V674.13H923.61V675.78H926.86V676.22H930.10V676.28H933.35V676.44H936.60V677.19H939.85V677.01H943.09V676.75H946.34V674.20H949.59V677.09H952.84V676.07H956.08V677.75H959.33V675.74H962.58V675.60H965.83V677.96H969.07V677.63H972.32V681.55H975.57V680.64H978.82V681.71H982.06V683.66H985.31V683.81H988.56V679.66H991.80V684.30H995.05V684.28H998.30V684.63H1001.55V683.80H1004.79V684.73H1008.04V685.02H1011.29V685.12H1014.54V685.94H1017.78V685.84H1021.03V687.43H1024.28V685.75H1027.53V686.10H1030.78V685.03H1034.02V688.32H1037.27V688.04H1040.52V688.40H1043.76V688.94H1047.01V688.96H1050.26V689.00H1053.51V688.39H1056.76V688.08H1060.00V687.37H1063.25V687.60H1066.50V685.70H1069.74V684.18H1072.99V683.23H1076.24V682.88H1079.49V684.77H1082.74V683.90H1085.98V683.74H1089.23V683.62H1092.48V683.24H1095.72V684.49H1098.97V685.65H1102.22V684.84H1105.47V685.38H1108.72V685.83H1111.96V686.59H1115.21V685.54H1118.46V687.25H1121.70V687.16H1124.95V689.17H1128.20V688.08H1131.45V687.72H1134.69V690.79H1137.94V689.42H1141.19V689.44H1144.44V690.41H1147.68V691.76H1150.93V689.82H1154.18V691.36H1157.43V692.99H1160.67V691.16H1163.92V691.43H1167.17V690.89H1170.42V692.34H1173.66V691.15H1176.91V691.50H1180.16V693.88H1183.41V692.15H1186.65V694.17H1189.90V694.81H1193.15V691.73H1196.40V694.39H1199.64V695.87H1202.89V694.14H1206.14V693.99H1209.39V693.49H1212.63V694.92H1215.88V696.38H1219.13V696.06H1222.38V693.08H1225.62V694.68H1228.87V695.11H1232.12V695.94H1235.37V695.60H1238.62V696.08H1241.86V696.25H1245.11V694.36H1248.36V696.15H1251.61V696.48H1254.85V696.33H1258.10V696.99H1261.35V698.35H1264.60V697.34H1267.84V697.02H1271.09V695.62H1274.34V697.66H1277.59V695.74H1280.83V696.40H1284.08V698.61H1287.33V698.65H1290.58V698.05H1293.82V696.80H1297.07V698.15H1300.32V698.00H1303.57V699.30H1306.81V700.87H1310.06V699.13H1313.31V698.32H1316.56V698.06H1319.80V699.14H1323.05V699.11H1326.30V698.31H1329.55V699.53H1332.79V698.46H1336.04V701.98H1339.29V700.61H1342.54V700.70H1345.78V701.57H1349.03V700.35H1352.28V699.85H1355.53V699.70H1358.77V699.83H1362.02V699.04H1365.27V698.99H1368.52V701.08H1371.76V700.28H1375.01V700.72H1378.26V701.51H1381.51V699.12H1384.75V700.02H1388.00" fill="none" stroke="#ACCE10" stroke-width="1.65"/><path d="M89.00,615.20H92.25V614.88H95.50V613.78H98.74V612.65H101.99V612.48H105.24V611.45H108.48V611.85H111.73V612.48H114.98V610.32H118.23V609.72H121.47V610.24H124.72V609.67H127.97V609.01H131.22V607.67H134.47V608.10H137.71V606.62H140.96V606.22H144.21V604.84H147.45V605.13H150.70V605.43H153.95V604.72H157.20V605.98H160.44V604.90H163.69V606.16H166.94V605.95H170.19V605.54H173.44V603.36H176.68V605.06H179.93V603.43H183.18V605.51H186.43V603.97H189.67V604.86H192.92V602.93H196.17V604.46H199.42V606.09H202.66V604.35H205.91V604.99H209.16V605.76H212.41V604.37H215.65V604.73H218.90V604.85H222.15V604.72H225.40V603.46H228.64V604.52H231.89V605.53H235.14V602.73H238.38V604.67H241.63V603.76H244.88V602.82H248.13V604.92H251.38V603.54H254.62V601.50H257.87V602.38H261.12V602.58H264.37V601.67H267.61V602.26H270.86V601.43H274.11V601.98H277.36V602.61H280.60V600.69H283.85V601.48H287.10V600.88H290.35V601.41H293.59V598.80H296.84V600.78H300.09V601.12H303.34V602.11H306.58V602.33H309.83V600.15H313.08V600.78H316.32V602.35H319.57V600.34H322.82V602.17H326.07V603.02H329.31V604.81H332.56V604.90H335.81V604.62H339.06V605.23H342.31V605.97H345.55V608.19H348.80V607.02H352.05V607.71H355.30V608.95H358.54V609.20H361.79V609.83H365.04V609.68H368.29V611.30H371.53V611.47H374.78V614.88H378.03V613.40H381.27V613.24H384.52V614.29H387.77V613.80H391.02V615.46H394.26V614.90H397.51V615.81H400.76V614.49H404.01V616.32H407.25V614.84H410.50V614.87H413.75V616.76H417.00V616.55H420.25V617.84H423.49V620.03H426.74V617.58H429.99V616.58H433.24V619.15H436.48V619.72H439.73V619.44H442.98V621.69H446.23V620.88H449.47V621.04H452.72V619.97H455.97V621.17H459.21V621.62H462.46V620.99H465.71V622.53H468.96V621.87H472.20V623.87H475.45V623.52H478.70V623.78H481.95V623.51H485.19V624.28H488.44V622.92H491.69V625.61H494.94V625.71H498.19V623.79H501.43V626.78H504.68V624.73H507.93V627.24H511.18V626.03H514.42V627.72H517.67V627.38H520.92V626.15H524.16V628.96H527.41V629.49H530.66V628.58H533.91V629.14H537.15V630.20H540.40V630.39H543.65V632.93H546.90V631.78H550.14V632.42H553.39V631.99H556.64V632.61H559.89V633.77H563.13V638.32H566.38V638.63H569.63V640.81H572.88V641.27H576.12V641.09H579.37V645.44H582.62V647.56H585.87V650.32H589.12V650.08H592.36V653.05H595.61V652.75H598.86V653.78H602.11V656.53H605.35V654.86H608.60V654.41H611.85V654.98H615.10V654.88H618.34V650.75H621.59V648.50H624.84V645.49H628.09V644.96H631.33V649.04H634.58V650.76H637.83V647.68H641.08V644.12H644.32V644.55H647.57V645.04H650.82V646.75H654.07V645.43H657.31V643.41H660.56V644.50H663.81V644.42H667.05V644.30H670.30V644.14H673.55V643.28H676.80V642.34H680.04V642.16H683.29V639.31H686.54V637.05H689.79V634.46H693.03V631.99H696.28V628.50H699.53V626.87H702.78V623.66H706.02V624.51H709.27V626.25H712.52V625.58H715.77V623.63H719.01V623.38H722.26V623.20H725.51V625.60H728.76V624.75H732.00V624.82H735.25V628.51H738.50V628.74H741.75V633.36H745.00V635.11H748.24V637.28H751.49V639.88H754.74V641.08H757.99V640.13H761.23V639.44H764.48V644.54H767.73V644.27H770.98V646.46H774.22V648.35H777.47V646.97H780.72V647.03H783.97V649.18H787.21V648.59H790.46V647.68H793.71V647.19H796.96V645.74H800.20V644.72H803.45V645.59H806.70V644.56H809.95V641.80H813.19V645.18H816.44V644.13H819.69V643.97H822.93V642.27H826.18V642.41H829.43V642.34H832.68V642.98H835.92V644.68H839.17V645.36H842.42V648.57H845.67V650.71H848.91V653.98H852.16V652.58H855.41V656.18H858.66V656.59H861.90V657.82H865.15V657.99H868.40V661.39H871.65V666.30H874.89V665.79H878.14V667.04H881.39V667.63H884.64V669.85H887.88V669.78H891.13V668.70H894.38V670.64H897.63V669.75H900.88V668.78H904.12V671.37H907.37V671.58H910.62V672.19H913.87V671.30H917.11V671.76H920.36V672.12H923.61V673.30H926.86V673.48H930.10V673.64H933.35V673.95H936.60V674.81H939.85V674.71H943.09V674.52H946.34V672.03H949.59V674.98H952.84V674.02H956.08V675.76H959.33V673.83H962.58V673.66H965.83V676.01H969.07V675.73H972.32V679.49H975.57V678.48H978.82V679.50H982.06V681.37H985.31V681.50H988.56V677.38H991.80V682.07H995.05V682.06H998.30V682.44H1001.55V681.64H1004.79V682.60H1008.04V682.93H1011.29V683.09H1014.54V683.99H1017.78V684.07H1021.03V685.88H1024.28V684.46H1027.53V685.07H1030.78V684.25H1034.02V687.73H1037.27V687.58H1040.52V687.87H1043.76V687.90H1047.01V687.55H1050.26V687.69H1053.51V687.02H1056.76V686.50H1060.00V685.96H1063.25V686.40H1066.50V684.65H1069.74V683.32H1072.99V682.27H1076.24V681.94H1079.49V683.98H1082.74V683.12H1085.98V682.94H1089.23V682.83H1092.48V682.44H1095.72V683.69H1098.97V684.84H1102.22V684.05H1105.47V684.60H1108.72V685.06H1111.96V685.85H1115.21V684.82H1118.46V686.55H1121.70V686.49H1124.95V688.52H1128.20V687.46H1131.45V687.13H1134.69V690.22H1137.94V688.87H1141.19V688.91H1144.44V689.91H1147.68V691.29H1150.93V689.38H1154.18V690.95H1157.43V692.60H1160.67V690.79H1163.92V691.08H1167.17V690.56H1170.42V692.02H1173.66V690.85H1176.91V691.21H1180.16V693.59H1183.41V691.86H1186.65V693.88H1189.90V694.51H1193.15V691.43H1196.40V694.08H1199.64V695.55H1202.89V693.83H1206.14V693.67H1209.39V693.18H1212.63V694.61H1215.88V696.08H1219.13V695.77H1222.38V692.81H1225.62V694.43H1228.87V694.88H1232.12V695.73H1235.37V695.41H1238.62V695.92H1241.86V696.11H1245.11V694.24H1248.36V696.05H1251.61V696.39H1254.85V696.24H1258.10V696.89H1261.35V698.24H1264.60V697.21H1267.84V696.84H1271.09V695.39H1274.34V697.37H1277.59V695.38H1280.83V695.98H1284.08V698.13H1287.33V698.11H1290.58V697.45H1293.82V696.15H1297.07V697.47H1300.32V697.31H1303.57V698.60H1306.81V700.18H1310.06V698.47H1313.31V697.70H1316.56V697.48H1319.80V698.62H1323.05V698.64H1326.30V697.89H1329.55V699.15H1332.79V698.13H1336.04V701.67H1339.29V700.32H1342.54V700.42H1345.78V701.27H1349.03V700.03H1352.28V699.50H1355.53V699.33H1358.77V699.43H1362.02V698.61H1365.27V698.53H1368.52V700.59H1371.76V699.74H1375.01V700.14H1378.26V700.87H1381.51V698.43H1384.75V699.29H1388.00" fill="none" stroke="rgba(255,255,255,0.55)" stroke-width="2.8"/><path d="M89.00,615.20H92.25V614.88H95.50V613.78H98.74V612.65H101.99V612.48H105.24V611.45H108.48V611.85H111.73V612.48H114.98V610.32H118.23V609.72H121.47V610.24H124.72V609.67H127.97V609.01H131.22V607.67H134.47V608.10H137.71V606.62H140.96V606.22H144.21V604.84H147.45V605.13H150.70V605.43H153.95V604.72H157.20V605.98H160.44V604.90H163.69V606.16H166.94V605.95H170.19V605.54H173.44V603.36H176.68V605.06H179.93V603.43H183.18V605.51H186.43V603.97H189.67V604.86H192.92V602.93H196.17V604.46H199.42V606.09H202.66V604.35H205.91V604.99H209.16V605.76H212.41V604.37H215.65V604.73H218.90V604.85H222.15V604.72H225.40V603.46H228.64V604.52H231.89V605.53H235.14V602.73H238.38V604.67H241.63V603.76H244.88V602.82H248.13V604.92H251.38V603.54H254.62V601.50H257.87V602.38H261.12V602.58H264.37V601.67H267.61V602.26H270.86V601.43H274.11V601.98H277.36V602.61H280.60V600.69H283.85V601.48H287.10V600.88H290.35V601.41H293.59V598.80H296.84V600.78H300.09V601.12H303.34V602.11H306.58V602.33H309.83V600.15H313.08V600.78H316.32V602.35H319.57V600.34H322.82V602.17H326.07V603.02H329.31V604.81H332.56V604.90H335.81V604.62H339.06V605.23H342.31V605.97H345.55V608.19H348.80V607.02H352.05V607.71H355.30V608.95H358.54V609.20H361.79V609.83H365.04V609.68H368.29V611.30H371.53V611.47H374.78V614.88H378.03V613.40H381.27V613.24H384.52V614.29H387.77V613.80H391.02V615.46H394.26V614.90H397.51V615.81H400.76V614.49H404.01V616.32H407.25V614.84H410.50V614.87H413.75V616.76H417.00V616.55H420.25V617.84H423.49V620.03H426.74V617.58H429.99V616.58H433.24V619.15H436.48V619.72H439.73V619.44H442.98V621.69H446.23V620.88H449.47V621.04H452.72V619.97H455.97V621.17H459.21V621.62H462.46V620.99H465.71V622.53H468.96V621.87H472.20V623.87H475.45V623.52H478.70V623.78H481.95V623.51H485.19V624.28H488.44V622.92H491.69V625.61H494.94V625.71H498.19V623.79H501.43V626.78H504.68V624.73H507.93V627.24H511.18V626.03H514.42V627.72H517.67V627.38H520.92V626.15H524.16V628.96H527.41V629.49H530.66V628.58H533.91V629.14H537.15V630.20H540.40V630.39H543.65V632.93H546.90V631.78H550.14V632.42H553.39V631.99H556.64V632.61H559.89V633.77H563.13V638.32H566.38V638.63H569.63V640.81H572.88V641.27H576.12V641.09H579.37V645.44H582.62V647.56H585.87V650.32H589.12V650.08H592.36V653.05H595.61V652.75H598.86V653.78H602.11V656.53H605.35V654.86H608.60V654.41H611.85V654.98H615.10V654.88H618.34V650.75H621.59V648.50H624.84V645.49H628.09V644.96H631.33V649.04H634.58V650.76H637.83V647.68H641.08V644.12H644.32V644.55H647.57V645.04H650.82V646.75H654.07V645.43H657.31V643.41H660.56V644.50H663.81V644.42H667.05V644.30H670.30V644.14H673.55V643.28H676.80V642.34H680.04V642.16H683.29V639.31H686.54V637.05H689.79V634.46H693.03V631.99H696.28V628.50H699.53V626.87H702.78V623.66H706.02V624.51H709.27V626.25H712.52V625.58H715.77V623.63H719.01V623.38H722.26V623.20H725.51V625.60H728.76V624.75H732.00V624.82H735.25V628.51H738.50V628.74H741.75V633.36H745.00V635.11H748.24V637.28H751.49V639.88H754.74V641.08H757.99V640.13H761.23V639.44H764.48V644.54H767.73V644.27H770.98V646.46H774.22V648.35H777.47V646.97H780.72V647.03H783.97V649.18H787.21V648.59H790.46V647.68H793.71V647.19H796.96V645.74H800.20V644.72H803.45V645.59H806.70V644.56H809.95V641.80H813.19V645.18H816.44V644.13H819.69V643.97H822.93V642.27H826.18V642.41H829.43V642.34H832.68V642.98H835.92V644.68H839.17V645.36H842.42V648.57H845.67V650.71H848.91V653.98H852.16V652.58H855.41V656.18H858.66V656.59H861.90V657.82H865.15V657.99H868.40V661.39H871.65V666.30H874.89V665.79H878.14V667.04H881.39V667.63H884.64V669.85H887.88V669.78H891.13V668.70H894.38V670.64H897.63V669.75H900.88V668.78H904.12V671.37H907.37V671.58H910.62V672.19H913.87V671.30H917.11V671.76H920.36V672.12H923.61V673.30H926.86V673.48H930.10V673.64H933.35V673.95H936.60V674.81H939.85V674.71H943.09V674.52H946.34V672.03H949.59V674.98H952.84V674.02H956.08V675.76H959.33V673.83H962.58V673.66H965.83V676.01H969.07V675.73H972.32V679.49H975.57V678.48H978.82V679.50H982.06V681.37H985.31V681.50H988.56V677.38H991.80V682.07H995.05V682.06H998.30V682.44H1001.55V681.64H1004.79V682.60H1008.04V682.93H1011.29V683.09H1014.54V683.99H1017.78V684.07H1021.03V685.88H1024.28V684.46H1027.53V685.07H1030.78V684.25H1034.02V687.73H1037.27V687.58H1040.52V687.87H1043.76V687.90H1047.01V687.55H1050.26V687.69H1053.51V687.02H1056.76V686.50H1060.00V685.96H1063.25V686.40H1066.50V684.65H1069.74V683.32H1072.99V682.27H1076.24V681.94H1079.49V683.98H1082.74V683.12H1085.98V682.94H1089.23V682.83H1092.48V682.44H1095.72V683.69H1098.97V684.84H1102.22V684.05H1105.47V684.60H1108.72V685.06H1111.96V685.85H1115.21V684.82H1118.46V686.55H1121.70V686.49H1124.95V688.52H1128.20V687.46H1131.45V687.13H1134.69V690.22H1137.94V688.87H1141.19V688.91H1144.44V689.91H1147.68V691.29H1150.93V689.38H1154.18V690.95H1157.43V692.60H1160.67V690.79H1163.92V691.08H1167.17V690.56H1170.42V692.02H1173.66V690.85H1176.91V691.21H1180.16V693.59H1183.41V691.86H1186.65V693.88H1189.90V694.51H1193.15V691.43H1196.40V694.08H1199.64V695.55H1202.89V693.83H1206.14V693.67H1209.39V693.18H1212.63V694.61H1215.88V696.08H1219.13V695.77H1222.38V692.81H1225.62V694.43H1228.87V694.88H1232.12V695.73H1235.37V695.41H1238.62V695.92H1241.86V696.11H1245.11V694.24H1248.36V696.05H1251.61V696.39H1254.85V696.24H1258.10V696.89H1261.35V698.24H1264.60V697.21H1267.84V696.84H1271.09V695.39H1274.34V697.37H1277.59V695.38H1280.83V695.98H1284.08V698.13H1287.33V698.11H1290.58V697.45H1293.82V696.15H1297.07V697.47H1300.32V697.31H1303.57V698.60H1306.81V700.18H1310.06V698.47H1313.31V697.70H1316.56V697.48H1319.80V698.62H1323.05V698.64H1326.30V697.89H1329.55V699.15H1332.79V698.13H1336.04V701.67H1339.29V700.32H1342.54V700.42H1345.78V701.27H1349.03V700.03H1352.28V699.50H1355.53V699.33H1358.77V699.43H1362.02V698.61H1365.27V698.53H1368.52V700.59H1371.76V699.74H1375.01V700.14H1378.26V700.87H1381.51V698.43H1384.75V699.29H1388.00" fill="none" stroke="#3A4716" stroke-width="1.65"/><path d="M89.00,598.71H92.25V597.21H95.50V595.87H98.74V595.50H101.99V597.78H105.24V598.00H108.48V597.31H111.73V596.56H114.98V594.56H118.23V594.44H121.47V595.44H124.72V595.32H127.97V595.09H131.22V593.82H134.47V593.10H137.71V590.80H140.96V590.33H144.21V588.90H147.45V588.71H150.70V587.74H153.95V585.39H157.20V585.10H160.44V583.02H163.69V584.01H166.94V583.69H170.19V583.21H173.44V580.91H176.68V582.35H179.93V580.22H183.18V581.74H186.43V579.57H189.67V579.72H192.92V577.14H196.17V578.31H199.42V580.11H202.66V579.17H205.91V580.90H209.16V582.69H212.41V581.94H215.65V582.28H218.90V581.99H222.15V581.23H225.40V579.31H228.64V579.83H231.89V580.37H235.14V577.10H238.38V578.52H241.63V576.91H244.88V575.19H248.13V576.58H251.38V574.69H254.62V572.37H257.87V573.05H261.12V573.08H264.37V571.97H267.61V572.25H270.86V570.97H274.11V571.06H277.36V571.37H280.60V569.44H283.85V570.70H287.10V570.90H290.35V572.35H293.59V570.54H296.84V573.17H300.09V574.12H303.34V575.77H306.58V576.80H309.83V575.73H313.08V577.85H316.32V581.00H319.57V580.38H322.82V583.18H326.07V584.80H329.31V587.23H332.56V587.80H335.81V587.82H339.06V588.72H342.31V589.73H345.55V592.03H348.80V590.61H352.05V590.64H355.30V591.03H358.54V590.49H361.79V591.19H365.04V592.01H368.29V594.82H371.53V595.71H374.78V598.98H378.03V597.21H381.27V596.72H384.52V597.47H387.77V596.75H391.02V598.24H394.26V597.57H397.51V598.44H400.76V597.17H404.01V599.24H407.25V598.30H410.50V598.97H413.75V601.40H417.00V601.46H420.25V602.89H423.49V605.17H426.74V602.79H429.99V601.86H433.24V604.54H436.48V605.24H439.73V605.03H442.98V607.29H446.23V606.37H449.47V606.37H452.72V605.12H455.97V606.12H459.21V606.37H462.46V605.55H465.71V606.89H468.96V606.05H472.20V607.85H475.45V607.33H478.70V607.45H481.95V607.03H485.19V607.57H488.44V605.88H491.69V608.01H494.94V607.42H498.19V604.76H501.43V607.04H504.68V604.24H507.93V606.07H511.18V604.95H514.42V608.69H517.67V609.03H520.92V608.02H524.16V610.90H527.41V611.48H530.66V610.72H533.91V611.31H537.15V612.65H540.40V615.30H543.65V621.76H546.90V624.45H550.14V628.82H553.39V630.50H556.64V632.99H559.89V637.21H563.13V645.85H566.38V651.59H569.63V660.99H572.88V669.06H576.12V675.81H579.37V686.85H582.62V695.84H585.87V705.92H589.12V712.97H592.36V722.85H595.61V729.50H598.86V735.40H602.11V740.10H605.35V739.47H608.60V738.77H611.85V737.72H615.10V735.12H618.34V727.85H621.59V720.22H624.84V710.28H628.09V702.31H631.33V698.63H634.58V692.41H637.83V680.72H641.08V668.46H644.32V661.58H647.57V655.94H650.82V651.41H654.07V642.20H657.31V630.40H660.56V619.54H663.81V612.24H667.05V604.38H670.30V595.59H673.55V586.46H676.80V575.08H680.04V556.62H683.29V535.62H686.54V516.42H689.79V496.09H693.03V475.83H696.28V453.71H699.53V432.36H702.78V413.11H706.02V399.91H709.27V390.76H712.52V382.72H715.77V377.00H719.01V377.00H722.26V377.00H725.51V377.00H728.76V377.00H732.00V380.92H735.25V390.66H738.50V399.73H741.75V416.02H745.00V430.41H748.24V446.25H751.49V463.55H754.74V479.66H757.99V493.80H761.23V508.71H764.48V526.34H767.73V535.76H770.98V544.32H774.22V550.90H777.47V554.41H780.72V555.71H783.97V556.57H787.21V551.75H790.46V539.88H793.71V528.89H796.96V516.37H800.20V504.23H803.45V493.94H806.70V481.44H809.95V468.69H813.19V464.04H816.44V457.20H819.69V452.97H822.93V449.37H826.18V448.73H829.43V450.36H832.68V454.81H835.92V465.51H839.17V474.49H842.42V485.55H845.67V494.91H848.91V506.88H852.16V517.12H855.41V531.40H858.66V541.60H861.90V554.37H865.15V566.05H868.40V578.33H871.65V591.89H874.89V601.45H878.14V612.19H881.39V621.28H884.64V629.84H887.88V634.76H891.13V638.36H894.38V642.19H897.63V642.00H900.88V641.81H904.12V646.22H907.37V648.14H910.62V649.75H913.87V649.43H917.11V649.68H920.36V649.26H923.61V649.38H926.86V648.47H930.10V647.54H933.35V646.67H936.60V646.43H939.85V645.33H943.09V644.16H946.34V640.77H949.59V642.89H952.84V641.02H956.08V641.93H959.33V639.46H962.58V639.06H965.83V641.17H969.07V640.64H972.32V644.16H975.57V643.28H978.82V645.13H982.06V648.11H985.31V649.24H988.56V645.92H991.80V651.40H995.05V652.44H998.30V654.50H1001.55V655.93H1004.79V659.08H1008.04V660.94H1011.29V662.10H1014.54V663.80H1017.78V664.66H1021.03V667.48H1024.28V667.21H1027.53V668.81H1030.78V668.51H1034.02V672.22H1037.27V672.22H1040.52V672.70H1043.76V673.11H1047.01V673.26H1050.26V673.59H1053.51V672.74H1056.76V671.96H1060.00V671.26H1063.25V671.85H1066.50V670.34H1069.74V669.14H1072.99V668.15H1076.24V667.84H1079.49V669.91H1082.74V669.18H1085.98V669.19H1089.23V669.34H1092.48V669.23H1095.72V670.77H1098.97V672.19H1102.22V671.70H1105.47V672.58H1108.72V673.35H1111.96V674.43H1115.21V673.76H1118.46V675.89H1121.70V676.23H1124.95V678.64H1128.20V677.87H1131.45V677.74H1134.69V680.94H1137.94V679.69H1141.19V679.78H1144.44V680.81H1147.68V682.20H1150.93V680.28H1154.18V681.81H1157.43V683.39H1160.67V681.50H1163.92V681.69H1167.17V681.08H1170.42V682.47H1173.66V681.25H1176.91V681.63H1180.16V684.09H1183.41V682.48H1186.65V684.64H1189.90V685.39H1193.15V682.39H1196.40V685.06H1199.64V686.50H1202.89V684.73H1206.14V684.51H1209.39V683.97H1212.63V685.38H1215.88V686.86H1219.13V686.64H1222.38V683.89H1225.62V685.79H1228.87V686.53H1232.12V687.62H1235.37V687.43H1238.62V687.89H1241.86V687.97H1245.11V685.98H1248.36V687.66H1251.61V687.89H1254.85V687.62H1258.10V688.15H1261.35V689.40H1264.60V688.33H1267.84V688.00H1271.09V686.63H1274.34V688.72H1277.59V686.83H1280.83V687.51H1284.08V689.71H1287.33V689.75H1290.58V689.15H1293.82V687.91H1297.07V689.28H1300.32V689.17H1303.57V690.52H1306.81V692.16H1310.06V690.53H1313.31V689.83H1316.56V689.65H1319.80V690.78H1323.05V690.74H1326.30V689.81H1329.55V690.73H1332.79V689.24H1336.04V692.26H1339.29V690.39H1342.54V690.03H1345.78V690.54H1349.03V689.05H1352.28V688.31H1355.53V687.94H1358.77V687.84H1362.02V686.82H1365.27V686.51H1368.52V688.30H1371.76V687.14H1375.01V687.18H1378.26V687.53H1381.51V684.68H1384.75V685.11H1388.00" fill="none" stroke="rgba(255,255,255,0.55)" stroke-width="2.8"/><path d="M89.00,598.71H92.25V597.21H95.50V595.87H98.74V595.50H101.99V597.78H105.24V598.00H108.48V597.31H111.73V596.56H114.98V594.56H118.23V594.44H121.47V595.44H124.72V595.32H127.97V595.09H131.22V593.82H134.47V593.10H137.71V590.80H140.96V590.33H144.21V588.90H147.45V588.71H150.70V587.74H153.95V585.39H157.20V585.10H160.44V583.02H163.69V584.01H166.94V583.69H170.19V583.21H173.44V580.91H176.68V582.35H179.93V580.22H183.18V581.74H186.43V579.57H189.67V579.72H192.92V577.14H196.17V578.31H199.42V580.11H202.66V579.17H205.91V580.90H209.16V582.69H212.41V581.94H215.65V582.28H218.90V581.99H222.15V581.23H225.40V579.31H228.64V579.83H231.89V580.37H235.14V577.10H238.38V578.52H241.63V576.91H244.88V575.19H248.13V576.58H251.38V574.69H254.62V572.37H257.87V573.05H261.12V573.08H264.37V571.97H267.61V572.25H270.86V570.97H274.11V571.06H277.36V571.37H280.60V569.44H283.85V570.70H287.10V570.90H290.35V572.35H293.59V570.54H296.84V573.17H300.09V574.12H303.34V575.77H306.58V576.80H309.83V575.73H313.08V577.85H316.32V581.00H319.57V580.38H322.82V583.18H326.07V584.80H329.31V587.23H332.56V587.80H335.81V587.82H339.06V588.72H342.31V589.73H345.55V592.03H348.80V590.61H352.05V590.64H355.30V591.03H358.54V590.49H361.79V591.19H365.04V592.01H368.29V594.82H371.53V595.71H374.78V598.98H378.03V597.21H381.27V596.72H384.52V597.47H387.77V596.75H391.02V598.24H394.26V597.57H397.51V598.44H400.76V597.17H404.01V599.24H407.25V598.30H410.50V598.97H413.75V601.40H417.00V601.46H420.25V602.89H423.49V605.17H426.74V602.79H429.99V601.86H433.24V604.54H436.48V605.24H439.73V605.03H442.98V607.29H446.23V606.37H449.47V606.37H452.72V605.12H455.97V606.12H459.21V606.37H462.46V605.55H465.71V606.89H468.96V606.05H472.20V607.85H475.45V607.33H478.70V607.45H481.95V607.03H485.19V607.57H488.44V605.88H491.69V608.01H494.94V607.42H498.19V604.76H501.43V607.04H504.68V604.24H507.93V606.07H511.18V604.95H514.42V608.69H517.67V609.03H520.92V608.02H524.16V610.90H527.41V611.48H530.66V610.72H533.91V611.31H537.15V612.65H540.40V615.30H543.65V621.76H546.90V624.45H550.14V628.82H553.39V630.50H556.64V632.99H559.89V637.21H563.13V645.85H566.38V651.59H569.63V660.99H572.88V669.06H576.12V675.81H579.37V686.85H582.62V695.84H585.87V705.92H589.12V712.97H592.36V722.85H595.61V729.50H598.86V735.40H602.11V740.10H605.35V739.47H608.60V738.77H611.85V737.72H615.10V735.12H618.34V727.85H621.59V720.22H624.84V710.28H628.09V702.31H631.33V698.63H634.58V692.41H637.83V680.72H641.08V668.46H644.32V661.58H647.57V655.94H650.82V651.41H654.07V642.20H657.31V630.40H660.56V619.54H663.81V612.24H667.05V604.38H670.30V595.59H673.55V586.46H676.80V575.08H680.04V556.62H683.29V535.62H686.54V516.42H689.79V496.09H693.03V475.83H696.28V453.71H699.53V432.36H702.78V413.11H706.02V399.91H709.27V390.76H712.52V382.72H715.77V377.00H719.01V377.00H722.26V377.00H725.51V377.00H728.76V377.00H732.00V380.92H735.25V390.66H738.50V399.73H741.75V416.02H745.00V430.41H748.24V446.25H751.49V463.55H754.74V479.66H757.99V493.80H761.23V508.71H764.48V526.34H767.73V535.76H770.98V544.32H774.22V550.90H777.47V554.41H780.72V555.71H783.97V556.57H787.21V551.75H790.46V539.88H793.71V528.89H796.96V516.37H800.20V504.23H803.45V493.94H806.70V481.44H809.95V468.69H813.19V464.04H816.44V457.20H819.69V452.97H822.93V449.37H826.18V448.73H829.43V450.36H832.68V454.81H835.92V465.51H839.17V474.49H842.42V485.55H845.67V494.91H848.91V506.88H852.16V517.12H855.41V531.40H858.66V541.60H861.90V554.37H865.15V566.05H868.40V578.33H871.65V591.89H874.89V601.45H878.14V612.19H881.39V621.28H884.64V629.84H887.88V634.76H891.13V638.36H894.38V642.19H897.63V642.00H900.88V641.81H904.12V646.22H907.37V648.14H910.62V649.75H913.87V649.43H917.11V649.68H920.36V649.26H923.61V649.38H926.86V648.47H930.10V647.54H933.35V646.67H936.60V646.43H939.85V645.33H943.09V644.16H946.34V640.77H949.59V642.89H952.84V641.02H956.08V641.93H959.33V639.46H962.58V639.06H965.83V641.17H969.07V640.64H972.32V644.16H975.57V643.28H978.82V645.13H982.06V648.11H985.31V649.24H988.56V645.92H991.80V651.40H995.05V652.44H998.30V654.50H1001.55V655.93H1004.79V659.08H1008.04V660.94H1011.29V662.10H1014.54V663.80H1017.78V664.66H1021.03V667.48H1024.28V667.21H1027.53V668.81H1030.78V668.51H1034.02V672.22H1037.27V672.22H1040.52V672.70H1043.76V673.11H1047.01V673.26H1050.26V673.59H1053.51V672.74H1056.76V671.96H1060.00V671.26H1063.25V671.85H1066.50V670.34H1069.74V669.14H1072.99V668.15H1076.24V667.84H1079.49V669.91H1082.74V669.18H1085.98V669.19H1089.23V669.34H1092.48V669.23H1095.72V670.77H1098.97V672.19H1102.22V671.70H1105.47V672.58H1108.72V673.35H1111.96V674.43H1115.21V673.76H1118.46V675.89H1121.70V676.23H1124.95V678.64H1128.20V677.87H1131.45V677.74H1134.69V680.94H1137.94V679.69H1141.19V679.78H1144.44V680.81H1147.68V682.20H1150.93V680.28H1154.18V681.81H1157.43V683.39H1160.67V681.50H1163.92V681.69H1167.17V681.08H1170.42V682.47H1173.66V681.25H1176.91V681.63H1180.16V684.09H1183.41V682.48H1186.65V684.64H1189.90V685.39H1193.15V682.39H1196.40V685.06H1199.64V686.50H1202.89V684.73H1206.14V684.51H1209.39V683.97H1212.63V685.38H1215.88V686.86H1219.13V686.64H1222.38V683.89H1225.62V685.79H1228.87V686.53H1232.12V687.62H1235.37V687.43H1238.62V687.89H1241.86V687.97H1245.11V685.98H1248.36V687.66H1251.61V687.89H1254.85V687.62H1258.10V688.15H1261.35V689.40H1264.60V688.33H1267.84V688.00H1271.09V686.63H1274.34V688.72H1277.59V686.83H1280.83V687.51H1284.08V689.71H1287.33V689.75H1290.58V689.15H1293.82V687.91H1297.07V689.28H1300.32V689.17H1303.57V690.52H1306.81V692.16H1310.06V690.53H1313.31V689.83H1316.56V689.65H1319.80V690.78H1323.05V690.74H1326.30V689.81H1329.55V690.73H1332.79V689.24H1336.04V692.26H1339.29V690.39H1342.54V690.03H1345.78V690.54H1349.03V689.05H1352.28V688.31H1355.53V687.94H1358.77V687.84H1362.02V686.82H1365.27V686.51H1368.52V688.30H1371.76V687.14H1375.01V687.18H1378.26V687.53H1381.51V684.68H1384.75V685.11H1388.00" fill="none" stroke="#5CA030" stroke-width="1.65"/><path d="M89.00,607.71H92.25V606.21H95.50V604.87H98.74V604.50H101.99V606.78H105.24V607.06H108.48V607.18H111.73V607.38H114.98V605.56H118.23V605.44H121.47V606.44H124.72V606.32H127.97V606.09H131.22V604.62H134.47V603.18H137.71V600.87H140.96V601.21H144.21V600.66H147.45V601.01H150.70V600.29H153.95V598.02H157.20V597.80H160.44V595.92H163.69V597.24H166.94V597.14H170.19V596.83H173.44V594.73H176.68V596.42H179.93V594.08H183.18V595.34H186.43V593.20H189.67V593.48H192.92V591.03H196.17V592.30H199.42V594.04H202.66V592.78H205.91V594.07H209.16V595.45H212.41V594.45H215.65V594.86H218.90V594.90H222.15V594.59H225.40V593.11H228.64V593.90H231.89V594.41H235.14V591.05H238.38V592.60H241.63V591.32H244.88V590.04H248.13V591.98H251.38V590.69H254.62V588.92H257.87V590.07H261.12V590.52H264.37V589.83H267.61V590.41H270.86V588.92H274.11V588.56H277.36V588.46H280.60V586.43H283.85V587.57H287.10V587.56H290.35V588.70H293.59V586.52H296.84V588.74H300.09V589.27H303.34V590.44H306.58V590.94H309.83V589.32H313.08V590.97H316.32V593.69H319.57V592.64H322.82V594.96H326.07V596.07H329.31V598.00H332.56V598.12H335.81V597.78H339.06V598.29H342.31V598.91H345.55V600.96H348.80V599.56H352.05V599.91H355.30V600.68H358.54V600.51H361.79V601.19H365.04V601.59H368.29V603.84H371.53V604.35H374.78V607.58H378.03V605.79H381.27V605.30H384.52V606.05H387.77V605.36H391.02V606.98H394.26V606.53H397.51V607.61H400.76V606.46H404.01V608.45H407.25V607.16H410.50V607.38H413.75V609.42H417.00V609.27H420.25V610.55H423.49V612.70H426.74V610.23H429.99V609.26H433.24V611.95H436.48V612.71H439.73V612.63H442.98V615.03H446.23V614.29H449.47V614.48H452.72V613.41H455.97V614.59H459.21V615.02H462.46V614.36H465.71V615.86H468.96V615.17H472.20V617.13H475.45V616.79H478.70V617.11H481.95V616.88H485.19V617.55H488.44V615.90H491.69V618.26H494.94V618.03H498.19V615.78H501.43V618.46H504.68V615.88H507.93V617.77H511.18V616.77H514.42V620.96H517.67V620.91H520.92V619.55H524.16V622.14H527.41V622.43H530.66V621.35H533.91V621.98H537.15V623.33H540.40V624.72H543.65V629.10H546.90V629.73H550.14V632.08H553.39V632.85H556.64V634.43H559.89V635.73H563.13V640.48H566.38V642.83H569.63V649.59H572.88V655.40H576.12V660.61H579.37V670.62H582.62V676.89H585.87V682.16H589.12V683.89H592.36V689.11H595.61V691.13H598.86V693.81H602.11V697.25H605.35V695.93H608.60V695.36H611.85V695.21H615.10V694.01H618.34V688.50H621.59V683.89H624.84V677.76H628.09V673.61H631.33V673.68H634.58V671.65H637.83V665.35H641.08V658.67H644.32V655.70H647.57V652.50H650.82V650.40H654.07V644.55H657.31V637.67H660.56V635.01H663.81V632.38H667.05V630.18H670.30V627.62H673.55V624.26H676.80V619.86H680.04V611.59H683.29V597.59H686.54V586.51H689.79V575.50H693.03V565.11H696.28V551.39H699.53V538.97H702.78V526.26H706.02V519.63H709.27V515.51H712.52V509.86H715.77V504.73H719.01V502.73H722.26V501.70H725.51V505.14H728.76V506.69H732.00V511.12H735.25V521.29H738.50V528.60H741.75V539.72H745.00V547.27H748.24V556.65H751.49V567.52H754.74V577.47H757.99V584.05H761.23V588.82H764.48V597.68H767.73V599.95H770.98V603.69H774.22V606.65H777.47V606.56H780.72V607.80H783.97V609.67H787.21V605.54H790.46V600.48H793.71V597.30H796.96V592.98H800.20V586.82H803.45V580.50H806.70V573.67H809.95V565.87H813.19V565.76H816.44V562.33H819.69V560.43H822.93V557.06H826.18V556.32H829.43V556.95H832.68V559.10H835.92V563.01H839.17V567.53H842.42V575.01H845.67V582.17H848.91V591.68H852.16V595.89H855.41V604.70H858.66V610.04H861.90V615.44H865.15V619.45H868.40V625.85H871.65V633.48H874.89V636.72H878.14V643.16H881.39V649.18H884.64V653.24H887.88V654.20H891.13V655.17H894.38V658.96H897.63V658.41H900.88V657.57H904.12V660.28H907.37V660.78H910.62V662.16H913.87V662.04H917.11V662.55H920.36V662.58H923.61V663.38H926.86V663.13H930.10V662.87H933.35V662.77H936.60V663.26H939.85V662.75H943.09V662.10H946.34V659.16H949.59V661.66H952.84V660.29H956.08V661.68H959.33V659.46H962.58V659.07H965.83V661.20H969.07V660.74H972.32V664.38H975.57V663.32H978.82V664.41H982.06V666.47H985.31V666.94H988.56V663.21H991.80V668.35H995.05V668.89H998.30V669.95H1001.55V670.09H1004.79V672.24H1008.04V673.77H1011.29V674.89H1014.54V676.39H1017.78V676.87H1021.03V678.96H1024.28V677.73H1027.53V678.47H1030.78V677.73H1034.02V681.30H1037.27V681.32H1040.52V681.85H1043.76V682.14H1047.01V681.99H1050.26V682.19H1053.51V681.48H1056.76V680.88H1060.00V680.24H1063.25V680.55H1066.50V678.69H1069.74V677.24H1072.99V676.11H1076.24V675.74H1079.49V677.77H1082.74V676.90H1085.98V676.69H1089.23V676.55H1092.48V676.14H1095.72V677.39H1098.97V678.55H1102.22V677.85H1105.47V678.59H1108.72V679.31H1111.96V680.40H1115.21V679.70H1118.46V681.75H1121.70V681.99H1124.95V684.27H1128.20V683.38H1131.45V683.13H1134.69V686.24H1137.94V684.89H1141.19V684.92H1144.44V685.89H1147.68V687.24H1150.93V685.29H1154.18V686.81H1157.43V688.42H1160.67V686.57H1163.92V686.83H1167.17V686.28H1170.42V687.72H1173.66V686.55H1176.91V686.92H1180.16V689.33H1183.41V687.64H1186.65V689.71H1189.90V690.39H1193.15V687.36H1196.40V690.07H1199.64V691.59H1202.89V689.90H1206.14V689.78H1209.39V689.30H1212.63V690.74H1215.88V692.19H1219.13V691.84H1222.38V688.84H1225.62V690.42H1228.87V690.83H1232.12V691.63H1235.37V691.26H1238.62V691.72H1241.86V691.86H1245.11V689.94H1248.36V691.70H1251.61V691.99H1254.85V691.80H1258.10V692.41H1261.35V693.72H1264.60V692.65H1267.84V692.25H1271.09V690.76H1274.34V692.70H1277.59V690.67H1280.83V691.23H1284.08V693.34H1287.33V693.29H1290.58V692.60H1293.82V691.29H1297.07V692.59H1300.32V692.41H1303.57V693.70H1306.81V695.30H1310.06V693.63H1313.31V692.93H1316.56V692.78H1319.80V694.00H1323.05V694.10H1326.30V693.44H1329.55V694.77H1332.79V693.81H1336.04V697.39H1339.29V696.06H1342.54V696.15H1345.78V696.96H1349.03V695.65H1352.28V695.02H1355.53V694.72H1358.77V694.67H1362.02V693.68H1365.27V693.40H1368.52V695.24H1371.76V694.15H1375.01V694.29H1378.26V694.74H1381.51V692.00H1384.75V692.55H1388.00" fill="none" stroke="rgba(255,255,255,0.55)" stroke-width="2.8"/><path d="M89.00,607.71H92.25V606.21H95.50V604.87H98.74V604.50H101.99V606.78H105.24V607.06H108.48V607.18H111.73V607.38H114.98V605.56H118.23V605.44H121.47V606.44H124.72V606.32H127.97V606.09H131.22V604.62H134.47V603.18H137.71V600.87H140.96V601.21H144.21V600.66H147.45V601.01H150.70V600.29H153.95V598.02H157.20V597.80H160.44V595.92H163.69V597.24H166.94V597.14H170.19V596.83H173.44V594.73H176.68V596.42H179.93V594.08H183.18V595.34H186.43V593.20H189.67V593.48H192.92V591.03H196.17V592.30H199.42V594.04H202.66V592.78H205.91V594.07H209.16V595.45H212.41V594.45H215.65V594.86H218.90V594.90H222.15V594.59H225.40V593.11H228.64V593.90H231.89V594.41H235.14V591.05H238.38V592.60H241.63V591.32H244.88V590.04H248.13V591.98H251.38V590.69H254.62V588.92H257.87V590.07H261.12V590.52H264.37V589.83H267.61V590.41H270.86V588.92H274.11V588.56H277.36V588.46H280.60V586.43H283.85V587.57H287.10V587.56H290.35V588.70H293.59V586.52H296.84V588.74H300.09V589.27H303.34V590.44H306.58V590.94H309.83V589.32H313.08V590.97H316.32V593.69H319.57V592.64H322.82V594.96H326.07V596.07H329.31V598.00H332.56V598.12H335.81V597.78H339.06V598.29H342.31V598.91H345.55V600.96H348.80V599.56H352.05V599.91H355.30V600.68H358.54V600.51H361.79V601.19H365.04V601.59H368.29V603.84H371.53V604.35H374.78V607.58H378.03V605.79H381.27V605.30H384.52V606.05H387.77V605.36H391.02V606.98H394.26V606.53H397.51V607.61H400.76V606.46H404.01V608.45H407.25V607.16H410.50V607.38H413.75V609.42H417.00V609.27H420.25V610.55H423.49V612.70H426.74V610.23H429.99V609.26H433.24V611.95H436.48V612.71H439.73V612.63H442.98V615.03H446.23V614.29H449.47V614.48H452.72V613.41H455.97V614.59H459.21V615.02H462.46V614.36H465.71V615.86H468.96V615.17H472.20V617.13H475.45V616.79H478.70V617.11H481.95V616.88H485.19V617.55H488.44V615.90H491.69V618.26H494.94V618.03H498.19V615.78H501.43V618.46H504.68V615.88H507.93V617.77H511.18V616.77H514.42V620.96H517.67V620.91H520.92V619.55H524.16V622.14H527.41V622.43H530.66V621.35H533.91V621.98H537.15V623.33H540.40V624.72H543.65V629.10H546.90V629.73H550.14V632.08H553.39V632.85H556.64V634.43H559.89V635.73H563.13V640.48H566.38V642.83H569.63V649.59H572.88V655.40H576.12V660.61H579.37V670.62H582.62V676.89H585.87V682.16H589.12V683.89H592.36V689.11H595.61V691.13H598.86V693.81H602.11V697.25H605.35V695.93H608.60V695.36H611.85V695.21H615.10V694.01H618.34V688.50H621.59V683.89H624.84V677.76H628.09V673.61H631.33V673.68H634.58V671.65H637.83V665.35H641.08V658.67H644.32V655.70H647.57V652.50H650.82V650.40H654.07V644.55H657.31V637.67H660.56V635.01H663.81V632.38H667.05V630.18H670.30V627.62H673.55V624.26H676.80V619.86H680.04V611.59H683.29V597.59H686.54V586.51H689.79V575.50H693.03V565.11H696.28V551.39H699.53V538.97H702.78V526.26H706.02V519.63H709.27V515.51H712.52V509.86H715.77V504.73H719.01V502.73H722.26V501.70H725.51V505.14H728.76V506.69H732.00V511.12H735.25V521.29H738.50V528.60H741.75V539.72H745.00V547.27H748.24V556.65H751.49V567.52H754.74V577.47H757.99V584.05H761.23V588.82H764.48V597.68H767.73V599.95H770.98V603.69H774.22V606.65H777.47V606.56H780.72V607.80H783.97V609.67H787.21V605.54H790.46V600.48H793.71V597.30H796.96V592.98H800.20V586.82H803.45V580.50H806.70V573.67H809.95V565.87H813.19V565.76H816.44V562.33H819.69V560.43H822.93V557.06H826.18V556.32H829.43V556.95H832.68V559.10H835.92V563.01H839.17V567.53H842.42V575.01H845.67V582.17H848.91V591.68H852.16V595.89H855.41V604.70H858.66V610.04H861.90V615.44H865.15V619.45H868.40V625.85H871.65V633.48H874.89V636.72H878.14V643.16H881.39V649.18H884.64V653.24H887.88V654.20H891.13V655.17H894.38V658.96H897.63V658.41H900.88V657.57H904.12V660.28H907.37V660.78H910.62V662.16H913.87V662.04H917.11V662.55H920.36V662.58H923.61V663.38H926.86V663.13H930.10V662.87H933.35V662.77H936.60V663.26H939.85V662.75H943.09V662.10H946.34V659.16H949.59V661.66H952.84V660.29H956.08V661.68H959.33V659.46H962.58V659.07H965.83V661.20H969.07V660.74H972.32V664.38H975.57V663.32H978.82V664.41H982.06V666.47H985.31V666.94H988.56V663.21H991.80V668.35H995.05V668.89H998.30V669.95H1001.55V670.09H1004.79V672.24H1008.04V673.77H1011.29V674.89H1014.54V676.39H1017.78V676.87H1021.03V678.96H1024.28V677.73H1027.53V678.47H1030.78V677.73H1034.02V681.30H1037.27V681.32H1040.52V681.85H1043.76V682.14H1047.01V681.99H1050.26V682.19H1053.51V681.48H1056.76V680.88H1060.00V680.24H1063.25V680.55H1066.50V678.69H1069.74V677.24H1072.99V676.11H1076.24V675.74H1079.49V677.77H1082.74V676.90H1085.98V676.69H1089.23V676.55H1092.48V676.14H1095.72V677.39H1098.97V678.55H1102.22V677.85H1105.47V678.59H1108.72V679.31H1111.96V680.40H1115.21V679.70H1118.46V681.75H1121.70V681.99H1124.95V684.27H1128.20V683.38H1131.45V683.13H1134.69V686.24H1137.94V684.89H1141.19V684.92H1144.44V685.89H1147.68V687.24H1150.93V685.29H1154.18V686.81H1157.43V688.42H1160.67V686.57H1163.92V686.83H1167.17V686.28H1170.42V687.72H1173.66V686.55H1176.91V686.92H1180.16V689.33H1183.41V687.64H1186.65V689.71H1189.90V690.39H1193.15V687.36H1196.40V690.07H1199.64V691.59H1202.89V689.90H1206.14V689.78H1209.39V689.30H1212.63V690.74H1215.88V692.19H1219.13V691.84H1222.38V688.84H1225.62V690.42H1228.87V690.83H1232.12V691.63H1235.37V691.26H1238.62V691.72H1241.86V691.86H1245.11V689.94H1248.36V691.70H1251.61V691.99H1254.85V691.80H1258.10V692.41H1261.35V693.72H1264.60V692.65H1267.84V692.25H1271.09V690.76H1274.34V692.70H1277.59V690.67H1280.83V691.23H1284.08V693.34H1287.33V693.29H1290.58V692.60H1293.82V691.29H1297.07V692.59H1300.32V692.41H1303.57V693.70H1306.81V695.30H1310.06V693.63H1313.31V692.93H1316.56V692.78H1319.80V694.00H1323.05V694.10H1326.30V693.44H1329.55V694.77H1332.79V693.81H1336.04V697.39H1339.29V696.06H1342.54V696.15H1345.78V696.96H1349.03V695.65H1352.28V695.02H1355.53V694.72H1358.77V694.67H1362.02V693.68H1365.27V693.40H1368.52V695.24H1371.76V694.15H1375.01V694.29H1378.26V694.74H1381.51V692.00H1384.75V692.55H1388.00" fill="none" stroke="#861840" stroke-width="1.65"/><path d="M89.00,613.39H92.25V610.93H95.50V609.81H98.74V609.10H101.99V607.97H105.24V605.99H108.48V603.03H111.73V600.95H114.98V598.64H118.23V594.36H121.47V588.36H124.72V582.55H127.97V578.11H131.22V570.59H134.47V559.59H137.71V548.37H140.96V538.01H144.21V525.29H147.45V515.75H150.70V506.27H153.95V495.54H157.20V480.84H160.44V469.66H163.69V460.95H166.94V451.38H170.19V443.15H173.44V436.26H176.68V431.19H179.93V427.96H183.18V423.24H186.43V423.27H189.67V428.30H192.92V435.66H196.17V444.09H199.42V454.11H202.66V465.46H205.91V476.91H209.16V482.27H212.41V492.73H215.65V507.14H218.90V515.37H222.15V530.05H225.40V541.34H228.64V552.39H231.89V559.59H235.14V567.82H238.38V576.04H241.63V585.05H244.88V591.58H248.13V596.12H251.38V598.64H254.62V601.19H257.87V602.16H261.12V602.17H264.37V604.58H267.61V606.88H270.86V606.46H274.11V605.68H277.36V606.33H280.60V605.81H283.85V606.58H287.10V603.66H290.35V606.07H293.59V606.28H296.84V605.85H300.09V604.69H303.34V605.20H306.58V604.94H309.83V605.00H313.08V605.80H316.32V604.47H319.57V605.79H322.82V605.62H326.07V606.93H329.31V606.97H332.56V607.13H335.81V608.02H339.06V608.36H342.31V609.85H345.55V607.77H348.80V606.83H352.05V605.16H355.30V603.10H358.54V603.08H361.79V601.15H365.04V599.64H368.29V598.42H371.53V595.19H374.78V591.61H378.03V587.96H381.27V584.17H384.52V578.58H387.77V575.63H391.02V569.86H394.26V564.10H397.51V559.78H400.76V553.63H404.01V547.54H407.25V542.47H410.50V538.17H413.75V533.82H417.00V529.45H420.25V526.94H423.49V525.22H426.74V523.13H429.99V522.77H433.24V522.69H436.48V523.47H439.73V524.99H442.98V527.46H446.23V530.57H449.47V533.34H452.72V536.26H455.97V539.87H459.21V542.31H462.46V545.73H465.71V548.61H468.96V550.32H472.20V552.84H475.45V552.58H478.70V554.50H481.95V556.69H485.19V556.09H488.44V555.40H491.69V552.53H494.94V551.89H498.19V551.25H501.43V549.37H504.68V546.57H507.93V542.13H511.18V537.19H514.42V529.20H517.67V519.63H520.92V509.10H524.16V493.75H527.41V477.42H530.66V450.74H533.91V420.91H537.15V382.73H540.40V377.00H543.65V377.00H546.90V377.00H550.14V377.00H553.39V377.00H556.64V377.00H559.89V377.00H563.13V377.00H566.38V377.00H569.63V377.00H572.88V377.00H576.12V377.00H579.37V377.00H582.62V377.00H585.87V377.00H589.12V377.00H592.36V377.00H595.61V377.00H598.86V377.00H602.11V377.00H605.35V377.00H608.60V377.00H611.85V377.00H615.10V377.00H618.34V377.00H621.59V377.00H624.84V377.00H628.09V377.00H631.33V377.00H634.58V377.00H637.83V377.00H641.08V377.00H644.32V377.00H647.57V377.00H650.82V377.00H654.07V377.00H657.31V377.00H660.56V377.00H663.81V377.00H667.05V377.00H670.30V377.00H673.55V377.00H676.80V377.00H680.04V377.00H683.29V377.00H686.54V377.00H689.79V377.00H693.03V377.00H696.28V377.00H699.53V377.00H702.78V377.00H706.02V377.00H709.27V377.00H712.52V377.00H715.77V377.00H719.01V377.00H722.26V377.00H725.51V377.00H728.76V377.00H732.00V377.00H735.25V377.00H738.50V377.00H741.75V377.00H745.00V377.00H748.24V377.00H751.49V377.00H754.74V377.00H757.99V377.00H761.23V387.98H764.48V405.07H767.73V423.98H770.98V452.42H774.22V474.38H777.47V495.64H780.72V514.06H783.97V523.92H787.21V532.58H790.46V535.47H793.71V534.28H796.96V530.52H800.20V522.60H803.45V515.16H806.70V507.28H809.95V497.54H813.19V487.08H816.44V477.04H819.69V466.57H822.93V457.64H826.18V451.61H829.43V448.53H832.68V442.82H835.92V437.36H839.17V436.75H842.42V434.86H845.67V434.04H848.91V438.59H852.16V443.38H855.41V449.00H858.66V457.16H861.90V467.92H865.15V479.40H868.40V494.59H871.65V507.13H874.89V523.27H878.14V541.70H881.39V555.58H884.64V570.27H887.88V583.56H891.13V595.57H894.38V607.58H897.63V616.96H900.88V628.53H904.12V637.35H907.37V645.35H910.62V650.86H913.87V657.22H917.11V661.36H920.36V666.70H923.61V669.98H926.86V672.27H930.10V673.72H933.35V677.73H936.60V677.81H939.85V680.64H943.09V682.32H946.34V684.34H949.59V685.52H952.84V686.54H956.08V687.71H959.33V689.53H962.58V690.98H965.83V693.00H969.07V693.65H972.32V694.74H975.57V695.34H978.82V696.67H982.06V695.38H985.31V697.94H988.56V699.50H991.80V699.18H995.05V698.89H998.30V698.58H1001.55V698.56H1004.79V700.24H1008.04V698.90H1011.29V699.39H1014.54V697.82H1017.78V698.14H1021.03V696.77H1024.28V695.79H1027.53V695.22H1030.78V694.08H1034.02V693.49H1037.27V692.34H1040.52V694.88H1043.76V691.30H1047.01V690.16H1050.26V690.38H1053.51V689.08H1056.76V689.34H1060.00V689.16H1063.25V688.17H1066.50V686.34H1069.74V685.70H1072.99V685.80H1076.24V684.03H1079.49V683.41H1082.74V683.71H1085.98V684.26H1089.23V683.66H1092.48V683.38H1095.72V684.02H1098.97V684.71H1102.22V684.70H1105.47V685.20H1108.72V686.57H1111.96V687.01H1115.21V688.62H1118.46V689.98H1121.70V692.37H1124.95V690.62H1128.20V693.74H1131.45V694.90H1134.69V697.26H1137.94V697.01H1141.19V696.82H1144.44V697.02H1147.68V698.30H1150.93V697.04H1154.18V697.77H1157.43V697.52H1160.67V696.82H1163.92V696.47H1167.17V695.82H1170.42V695.21H1173.66V693.59H1176.91V692.26H1180.16V689.41H1183.41V686.98H1186.65V685.77H1189.90V681.13H1193.15V676.94H1196.40V676.16H1199.64V673.28H1202.89V669.88H1206.14V666.93H1209.39V663.90H1212.63V660.32H1215.88V655.55H1219.13V653.40H1222.38V650.43H1225.62V648.60H1228.87V647.32H1232.12V646.11H1235.37V645.48H1238.62V644.90H1241.86V646.16H1245.11V647.08H1248.36V648.01H1251.61V649.59H1254.85V650.65H1258.10V652.56H1261.35V655.10H1264.60V656.27H1267.84V659.57H1271.09V662.29H1274.34V664.56H1277.59V667.93H1280.83V670.32H1284.08V672.38H1287.33V674.12H1290.58V675.19H1293.82V675.49H1297.07V674.13H1300.32V676.55H1303.57V677.96H1306.81V678.43H1310.06V679.36H1313.31V679.38H1316.56V676.79H1319.80V675.95H1323.05V676.72H1326.30V677.02H1329.55V677.68H1332.79V679.42H1336.04V679.39H1339.29V679.08H1342.54V682.19H1345.78V681.79H1349.03V681.75H1352.28V682.49H1355.53V683.77H1358.77V685.64H1362.02V687.61H1365.27V689.66H1368.52V691.19H1371.76V692.51H1375.01V693.88H1378.26V694.87H1381.51V693.33H1384.75V697.51H1388.00" fill="none" stroke="rgba(255,255,255,0.55)" stroke-width="2.8"/><path d="M89.00,613.39H92.25V610.93H95.50V609.81H98.74V609.10H101.99V607.97H105.24V605.99H108.48V603.03H111.73V600.95H114.98V598.64H118.23V594.36H121.47V588.36H124.72V582.55H127.97V578.11H131.22V570.59H134.47V559.59H137.71V548.37H140.96V538.01H144.21V525.29H147.45V515.75H150.70V506.27H153.95V495.54H157.20V480.84H160.44V469.66H163.69V460.95H166.94V451.38H170.19V443.15H173.44V436.26H176.68V431.19H179.93V427.96H183.18V423.24H186.43V423.27H189.67V428.30H192.92V435.66H196.17V444.09H199.42V454.11H202.66V465.46H205.91V476.91H209.16V482.27H212.41V492.73H215.65V507.14H218.90V515.37H222.15V530.05H225.40V541.34H228.64V552.39H231.89V559.59H235.14V567.82H238.38V576.04H241.63V585.05H244.88V591.58H248.13V596.12H251.38V598.64H254.62V601.19H257.87V602.16H261.12V602.17H264.37V604.58H267.61V606.88H270.86V606.46H274.11V605.68H277.36V606.33H280.60V605.81H283.85V606.58H287.10V603.66H290.35V606.07H293.59V606.28H296.84V605.85H300.09V604.69H303.34V605.20H306.58V604.94H309.83V605.00H313.08V605.80H316.32V604.47H319.57V605.79H322.82V605.62H326.07V606.93H329.31V606.97H332.56V607.13H335.81V608.02H339.06V608.36H342.31V609.85H345.55V607.77H348.80V606.83H352.05V605.16H355.30V603.10H358.54V603.08H361.79V601.15H365.04V599.64H368.29V598.42H371.53V595.19H374.78V591.61H378.03V587.96H381.27V584.17H384.52V578.58H387.77V575.63H391.02V569.86H394.26V564.10H397.51V559.78H400.76V553.63H404.01V547.54H407.25V542.47H410.50V538.17H413.75V533.82H417.00V529.45H420.25V526.94H423.49V525.22H426.74V523.13H429.99V522.77H433.24V522.69H436.48V523.47H439.73V524.99H442.98V527.46H446.23V530.57H449.47V533.34H452.72V536.26H455.97V539.87H459.21V542.31H462.46V545.73H465.71V548.61H468.96V550.32H472.20V552.84H475.45V552.58H478.70V554.50H481.95V556.69H485.19V556.09H488.44V555.40H491.69V552.53H494.94V551.89H498.19V551.25H501.43V549.37H504.68V546.57H507.93V542.13H511.18V537.19H514.42V529.20H517.67V519.63H520.92V509.10H524.16V493.75H527.41V477.42H530.66V450.74H533.91V420.91H537.15V382.73H540.40V377.00H543.65V377.00H546.90V377.00H550.14V377.00H553.39V377.00H556.64V377.00H559.89V377.00H563.13V377.00H566.38V377.00H569.63V377.00H572.88V377.00H576.12V377.00H579.37V377.00H582.62V377.00H585.87V377.00H589.12V377.00H592.36V377.00H595.61V377.00H598.86V377.00H602.11V377.00H605.35V377.00H608.60V377.00H611.85V377.00H615.10V377.00H618.34V377.00H621.59V377.00H624.84V377.00H628.09V377.00H631.33V377.00H634.58V377.00H637.83V377.00H641.08V377.00H644.32V377.00H647.57V377.00H650.82V377.00H654.07V377.00H657.31V377.00H660.56V377.00H663.81V377.00H667.05V377.00H670.30V377.00H673.55V377.00H676.80V377.00H680.04V377.00H683.29V377.00H686.54V377.00H689.79V377.00H693.03V377.00H696.28V377.00H699.53V377.00H702.78V377.00H706.02V377.00H709.27V377.00H712.52V377.00H715.77V377.00H719.01V377.00H722.26V377.00H725.51V377.00H728.76V377.00H732.00V377.00H735.25V377.00H738.50V377.00H741.75V377.00H745.00V377.00H748.24V377.00H751.49V377.00H754.74V377.00H757.99V377.00H761.23V387.98H764.48V405.07H767.73V423.98H770.98V452.42H774.22V474.38H777.47V495.64H780.72V514.06H783.97V523.92H787.21V532.58H790.46V535.47H793.71V534.28H796.96V530.52H800.20V522.60H803.45V515.16H806.70V507.28H809.95V497.54H813.19V487.08H816.44V477.04H819.69V466.57H822.93V457.64H826.18V451.61H829.43V448.53H832.68V442.82H835.92V437.36H839.17V436.75H842.42V434.86H845.67V434.04H848.91V438.59H852.16V443.38H855.41V449.00H858.66V457.16H861.90V467.92H865.15V479.40H868.40V494.59H871.65V507.13H874.89V523.27H878.14V541.70H881.39V555.58H884.64V570.27H887.88V583.56H891.13V595.57H894.38V607.58H897.63V616.96H900.88V628.53H904.12V637.35H907.37V645.35H910.62V650.86H913.87V657.22H917.11V661.36H920.36V666.70H923.61V669.98H926.86V672.27H930.10V673.72H933.35V677.73H936.60V677.81H939.85V680.64H943.09V682.32H946.34V684.34H949.59V685.52H952.84V686.54H956.08V687.71H959.33V689.53H962.58V690.98H965.83V693.00H969.07V693.65H972.32V694.74H975.57V695.34H978.82V696.67H982.06V695.38H985.31V697.94H988.56V699.50H991.80V699.18H995.05V698.89H998.30V698.58H1001.55V698.56H1004.79V700.24H1008.04V698.90H1011.29V699.39H1014.54V697.82H1017.78V698.14H1021.03V696.77H1024.28V695.79H1027.53V695.22H1030.78V694.08H1034.02V693.49H1037.27V692.34H1040.52V694.88H1043.76V691.30H1047.01V690.16H1050.26V690.38H1053.51V689.08H1056.76V689.34H1060.00V689.16H1063.25V688.17H1066.50V686.34H1069.74V685.70H1072.99V685.80H1076.24V684.03H1079.49V683.41H1082.74V683.71H1085.98V684.26H1089.23V683.66H1092.48V683.38H1095.72V684.02H1098.97V684.71H1102.22V684.70H1105.47V685.20H1108.72V686.57H1111.96V687.01H1115.21V688.62H1118.46V689.98H1121.70V692.37H1124.95V690.62H1128.20V693.74H1131.45V694.90H1134.69V697.26H1137.94V697.01H1141.19V696.82H1144.44V697.02H1147.68V698.30H1150.93V697.04H1154.18V697.77H1157.43V697.52H1160.67V696.82H1163.92V696.47H1167.17V695.82H1170.42V695.21H1173.66V693.59H1176.91V692.26H1180.16V689.41H1183.41V686.98H1186.65V685.77H1189.90V681.13H1193.15V676.94H1196.40V676.16H1199.64V673.28H1202.89V669.88H1206.14V666.93H1209.39V663.90H1212.63V660.32H1215.88V655.55H1219.13V653.40H1222.38V650.43H1225.62V648.60H1228.87V647.32H1232.12V646.11H1235.37V645.48H1238.62V644.90H1241.86V646.16H1245.11V647.08H1248.36V648.01H1251.61V649.59H1254.85V650.65H1258.10V652.56H1261.35V655.10H1264.60V656.27H1267.84V659.57H1271.09V662.29H1274.34V664.56H1277.59V667.93H1280.83V670.32H1284.08V672.38H1287.33V674.12H1290.58V675.19H1293.82V675.49H1297.07V674.13H1300.32V676.55H1303.57V677.96H1306.81V678.43H1310.06V679.36H1313.31V679.38H1316.56V676.79H1319.80V675.95H1323.05V676.72H1326.30V677.02H1329.55V677.68H1332.79V679.42H1336.04V679.39H1339.29V679.08H1342.54V682.19H1345.78V681.79H1349.03V681.75H1352.28V682.49H1355.53V683.77H1358.77V685.64H1362.02V687.61H1365.27V689.66H1368.52V691.19H1371.76V692.51H1375.01V693.88H1378.26V694.87H1381.51V693.33H1384.75V697.51H1388.00" fill="none" stroke="#1C5596" stroke-width="1.65"/><path d="M89.00,613.32H92.25V612.29H95.50V610.91H98.74V610.20H101.99V610.59H105.24V610.11H108.48V611.05H111.73V612.21H114.98V610.54H118.23V610.32H121.47V611.13H124.72V610.74H127.97V610.19H131.22V608.90H134.47V609.32H137.71V607.82H140.96V607.23H144.21V605.46H147.45V605.23H150.70V604.94H153.95V603.65H157.20V604.41H160.44V602.96H163.69V604.01H166.94V603.59H170.19V602.98H173.44V600.61H176.68V602.14H179.93V600.36H183.18V602.33H186.43V600.72H189.67V601.59H192.92V599.69H196.17V601.27H199.42V602.95H202.66V601.27H205.91V601.97H209.16V602.80H212.41V601.47H215.65V601.90H218.90V602.10H222.15V602.06H225.40V600.90H228.64V602.07H231.89V603.22H235.14V600.61H238.38V602.77H241.63V602.11H244.88V601.26H248.13V602.66H251.38V600.69H254.62V598.62H257.87V599.56H261.12V599.83H264.37V598.92H267.61V599.33H270.86V598.07H274.11V598.12H277.36V598.38H280.60V596.41H283.85V597.35H287.10V597.02H290.35V597.86H293.59V595.51H296.84V597.70H300.09V598.23H303.34V599.43H306.58V599.94H309.83V598.26H313.08V599.70H316.32V602.14H319.57V600.79H322.82V602.84H326.07V603.68H329.31V605.34H332.56V605.24H335.81V604.77H339.06V605.30H342.31V606.01H345.55V608.11H348.80V606.61H352.05V606.09H355.30V605.13H358.54V603.89H361.79V604.71H365.04V605.79H368.29V608.90H371.53V610.01H374.78V613.48H378.03V611.91H381.27V611.58H384.52V612.44H387.77V611.74H391.02V613.16H394.26V612.33H397.51V613.00H400.76V611.50H404.01V613.30H407.25V611.96H410.50V612.23H413.75V614.37H417.00V614.33H420.25V615.77H423.49V618.11H426.74V615.81H429.99V614.97H433.24V617.71H436.48V618.47H439.73V618.35H442.98V620.74H446.23V619.98H449.47V620.15H452.72V619.06H455.97V620.25H459.21V620.74H462.46V620.22H465.71V621.92H468.96V621.42H472.20V623.52H475.45V623.19H478.70V623.45H481.95V623.15H485.19V623.86H488.44V622.40H491.69V624.92H494.94V624.83H498.19V622.76H501.43V625.68H504.68V623.91H507.93V627.02H511.18V626.42H514.42V628.37H517.67V627.77H520.92V626.09H524.16V628.36H527.41V628.35H530.66V626.97H533.91V627.34H537.15V628.31H540.40V628.88H543.65V632.15H546.90V631.51H550.14V632.54H553.39V632.54H556.64V633.78H559.89V635.64H563.13V640.81H566.38V641.53H569.63V643.96H572.88V644.71H576.12V645.03H579.37V650.06H582.62V652.87H585.87V656.25H589.12V656.71H592.36V660.66H595.61V661.39H598.86V663.26H602.11V666.60H605.35V665.32H608.60V664.85H611.85V665.16H615.10V664.69H618.34V660.19H621.59V657.50H624.84V654.20H628.09V653.02H631.33V655.26H634.58V655.96H637.83V652.63H641.08V648.42H644.32V647.80H647.57V646.39H650.82V646.19H654.07V642.87H657.31V639.58H660.56V641.54H663.81V640.98H667.05V640.04H670.30V639.32H673.55V638.36H676.80V637.44H680.04V636.82H683.29V631.42H686.54V627.31H689.79V622.73H693.03V617.20H696.28V610.53H699.53V604.90H702.78V598.96H706.02V597.85H709.27V598.29H712.52V597.02H715.77V594.93H719.01V594.43H722.26V593.78H725.51V596.09H728.76V595.90H732.00V596.87H735.25V601.36H738.50V602.35H741.75V607.91H745.00V611.64H748.24V616.21H751.49V621.07H754.74V624.33H757.99V625.42H761.23V626.53H764.48V632.85H767.73V633.48H770.98V636.36H774.22V638.72H777.47V637.94H780.72V638.61H783.97V640.59H787.21V638.20H790.46V635.80H793.71V634.39H796.96V631.98H800.20V629.78H803.45V629.19H806.70V626.54H809.95V622.41H813.19V625.05H816.44V623.59H819.69V623.27H822.93V621.71H826.18V622.07H829.43V621.97H832.68V622.39H835.92V623.83H839.17V624.70H842.42V628.49H845.67V631.28H848.91V635.07H852.16V634.20H855.41V638.59H858.66V640.24H861.90V643.03H865.15V644.88H868.40V650.13H871.65V657.26H874.89V658.72H878.14V661.06H881.39V662.48H884.64V665.36H887.88V665.90H891.13V665.21H894.38V667.16H897.63V666.32H900.88V665.39H904.12V668.02H907.37V668.27H910.62V668.96H913.87V668.21H917.11V668.92H920.36V669.59H923.61V671.09H926.86V671.54H930.10V671.88H933.35V672.20H936.60V672.92H939.85V672.68H943.09V672.34H946.34V669.72H949.59V672.53H952.84V671.42H956.08V673.00H959.33V670.86H962.58V670.46H965.83V672.55H969.07V672.03H972.32V675.58H975.57V674.41H978.82V675.37H982.06V677.28H985.31V677.57H988.56V673.70H991.80V678.67H995.05V678.98H998.30V679.69H1001.55V679.21H1004.79V680.49H1008.04V681.11H1011.29V681.50H1014.54V682.59H1017.78V682.83H1021.03V684.79H1024.28V683.50H1027.53V684.23H1030.78V683.50H1034.02V687.06H1037.27V686.97H1040.52V687.31H1043.76V687.38H1047.01V687.05H1050.26V687.19H1053.51V686.48H1056.76V685.88H1060.00V685.24H1063.25V685.55H1066.50V683.69H1069.74V682.24H1072.99V681.11H1076.24V680.74H1079.49V682.79H1082.74V682.00H1085.98V681.92H1089.23V681.93H1092.48V681.67H1095.72V683.03H1098.97V684.25H1102.22V683.50H1105.47V684.08H1108.72V684.53H1111.96V685.30H1115.21V684.23H1118.46V685.92H1121.70V685.81H1124.95V687.79H1128.20V686.69H1131.45V686.33H1134.69V689.39H1137.94V688.02H1141.19V688.03H1144.44V688.99H1147.68V690.34H1150.93V688.40H1154.18V689.93H1157.43V691.55H1160.67V689.73H1163.92V690.00H1167.17V689.46H1170.42V690.92H1173.66V689.75H1176.91V690.12H1180.16V692.52H1183.41V690.81H1186.65V692.87H1189.90V693.53H1193.15V690.48H1196.40V693.18H1199.64V694.69H1202.89V693.00H1206.14V692.88H1209.39V692.42H1212.63V693.89H1215.88V695.37H1219.13V695.08H1222.38V692.13H1225.62V693.78H1228.87V694.26H1232.12V695.13H1235.37V694.83H1238.62V695.35H1241.86V695.56H1245.11V693.70H1248.36V695.51H1251.61V695.84H1254.85V695.69H1258.10V696.31H1261.35V697.62H1264.60V696.55H1267.84V696.13H1271.09V694.63H1274.34V696.55H1277.59V694.50H1280.83V695.04H1284.08V697.13H1287.33V697.05H1290.58V696.33H1293.82V694.98H1297.07V696.25H1300.32V696.04H1303.57V697.29H1306.81V698.84H1310.06V697.10H1313.31V696.31H1316.56V696.07H1319.80V697.19H1323.05V697.20H1326.30V696.44H1329.55V697.69H1332.79V696.66H1336.04V700.19H1339.29V698.83H1342.54V698.93H1345.78V699.77H1349.03V698.52H1352.28V697.98H1355.53V697.79H1358.77V697.88H1362.02V697.06H1365.27V696.97H1368.52V699.02H1371.76V698.16H1375.01V698.55H1378.26V699.28H1381.51V696.83H1384.75V697.69H1388.00" fill="none" stroke="rgba(255,255,255,0.55)" stroke-width="2.8"/><path d="M89.00,613.32H92.25V612.29H95.50V610.91H98.74V610.20H101.99V610.59H105.24V610.11H108.48V611.05H111.73V612.21H114.98V610.54H118.23V610.32H121.47V611.13H124.72V610.74H127.97V610.19H131.22V608.90H134.47V609.32H137.71V607.82H140.96V607.23H144.21V605.46H147.45V605.23H150.70V604.94H153.95V603.65H157.20V604.41H160.44V602.96H163.69V604.01H166.94V603.59H170.19V602.98H173.44V600.61H176.68V602.14H179.93V600.36H183.18V602.33H186.43V600.72H189.67V601.59H192.92V599.69H196.17V601.27H199.42V602.95H202.66V601.27H205.91V601.97H209.16V602.80H212.41V601.47H215.65V601.90H218.90V602.10H222.15V602.06H225.40V600.90H228.64V602.07H231.89V603.22H235.14V600.61H238.38V602.77H241.63V602.11H244.88V601.26H248.13V602.66H251.38V600.69H254.62V598.62H257.87V599.56H261.12V599.83H264.37V598.92H267.61V599.33H270.86V598.07H274.11V598.12H277.36V598.38H280.60V596.41H283.85V597.35H287.10V597.02H290.35V597.86H293.59V595.51H296.84V597.70H300.09V598.23H303.34V599.43H306.58V599.94H309.83V598.26H313.08V599.70H316.32V602.14H319.57V600.79H322.82V602.84H326.07V603.68H329.31V605.34H332.56V605.24H335.81V604.77H339.06V605.30H342.31V606.01H345.55V608.11H348.80V606.61H352.05V606.09H355.30V605.13H358.54V603.89H361.79V604.71H365.04V605.79H368.29V608.90H371.53V610.01H374.78V613.48H378.03V611.91H381.27V611.58H384.52V612.44H387.77V611.74H391.02V613.16H394.26V612.33H397.51V613.00H400.76V611.50H404.01V613.30H407.25V611.96H410.50V612.23H413.75V614.37H417.00V614.33H420.25V615.77H423.49V618.11H426.74V615.81H429.99V614.97H433.24V617.71H436.48V618.47H439.73V618.35H442.98V620.74H446.23V619.98H449.47V620.15H452.72V619.06H455.97V620.25H459.21V620.74H462.46V620.22H465.71V621.92H468.96V621.42H472.20V623.52H475.45V623.19H478.70V623.45H481.95V623.15H485.19V623.86H488.44V622.40H491.69V624.92H494.94V624.83H498.19V622.76H501.43V625.68H504.68V623.91H507.93V627.02H511.18V626.42H514.42V628.37H517.67V627.77H520.92V626.09H524.16V628.36H527.41V628.35H530.66V626.97H533.91V627.34H537.15V628.31H540.40V628.88H543.65V632.15H546.90V631.51H550.14V632.54H553.39V632.54H556.64V633.78H559.89V635.64H563.13V640.81H566.38V641.53H569.63V643.96H572.88V644.71H576.12V645.03H579.37V650.06H582.62V652.87H585.87V656.25H589.12V656.71H592.36V660.66H595.61V661.39H598.86V663.26H602.11V666.60H605.35V665.32H608.60V664.85H611.85V665.16H615.10V664.69H618.34V660.19H621.59V657.50H624.84V654.20H628.09V653.02H631.33V655.26H634.58V655.96H637.83V652.63H641.08V648.42H644.32V647.80H647.57V646.39H650.82V646.19H654.07V642.87H657.31V639.58H660.56V641.54H663.81V640.98H667.05V640.04H670.30V639.32H673.55V638.36H676.80V637.44H680.04V636.82H683.29V631.42H686.54V627.31H689.79V622.73H693.03V617.20H696.28V610.53H699.53V604.90H702.78V598.96H706.02V597.85H709.27V598.29H712.52V597.02H715.77V594.93H719.01V594.43H722.26V593.78H725.51V596.09H728.76V595.90H732.00V596.87H735.25V601.36H738.50V602.35H741.75V607.91H745.00V611.64H748.24V616.21H751.49V621.07H754.74V624.33H757.99V625.42H761.23V626.53H764.48V632.85H767.73V633.48H770.98V636.36H774.22V638.72H777.47V637.94H780.72V638.61H783.97V640.59H787.21V638.20H790.46V635.80H793.71V634.39H796.96V631.98H800.20V629.78H803.45V629.19H806.70V626.54H809.95V622.41H813.19V625.05H816.44V623.59H819.69V623.27H822.93V621.71H826.18V622.07H829.43V621.97H832.68V622.39H835.92V623.83H839.17V624.70H842.42V628.49H845.67V631.28H848.91V635.07H852.16V634.20H855.41V638.59H858.66V640.24H861.90V643.03H865.15V644.88H868.40V650.13H871.65V657.26H874.89V658.72H878.14V661.06H881.39V662.48H884.64V665.36H887.88V665.90H891.13V665.21H894.38V667.16H897.63V666.32H900.88V665.39H904.12V668.02H907.37V668.27H910.62V668.96H913.87V668.21H917.11V668.92H920.36V669.59H923.61V671.09H926.86V671.54H930.10V671.88H933.35V672.20H936.60V672.92H939.85V672.68H943.09V672.34H946.34V669.72H949.59V672.53H952.84V671.42H956.08V673.00H959.33V670.86H962.58V670.46H965.83V672.55H969.07V672.03H972.32V675.58H975.57V674.41H978.82V675.37H982.06V677.28H985.31V677.57H988.56V673.70H991.80V678.67H995.05V678.98H998.30V679.69H1001.55V679.21H1004.79V680.49H1008.04V681.11H1011.29V681.50H1014.54V682.59H1017.78V682.83H1021.03V684.79H1024.28V683.50H1027.53V684.23H1030.78V683.50H1034.02V687.06H1037.27V686.97H1040.52V687.31H1043.76V687.38H1047.01V687.05H1050.26V687.19H1053.51V686.48H1056.76V685.88H1060.00V685.24H1063.25V685.55H1066.50V683.69H1069.74V682.24H1072.99V681.11H1076.24V680.74H1079.49V682.79H1082.74V682.00H1085.98V681.92H1089.23V681.93H1092.48V681.67H1095.72V683.03H1098.97V684.25H1102.22V683.50H1105.47V684.08H1108.72V684.53H1111.96V685.30H1115.21V684.23H1118.46V685.92H1121.70V685.81H1124.95V687.79H1128.20V686.69H1131.45V686.33H1134.69V689.39H1137.94V688.02H1141.19V688.03H1144.44V688.99H1147.68V690.34H1150.93V688.40H1154.18V689.93H1157.43V691.55H1160.67V689.73H1163.92V690.00H1167.17V689.46H1170.42V690.92H1173.66V689.75H1176.91V690.12H1180.16V692.52H1183.41V690.81H1186.65V692.87H1189.90V693.53H1193.15V690.48H1196.40V693.18H1199.64V694.69H1202.89V693.00H1206.14V692.88H1209.39V692.42H1212.63V693.89H1215.88V695.37H1219.13V695.08H1222.38V692.13H1225.62V693.78H1228.87V694.26H1232.12V695.13H1235.37V694.83H1238.62V695.35H1241.86V695.56H1245.11V693.70H1248.36V695.51H1251.61V695.84H1254.85V695.69H1258.10V696.31H1261.35V697.62H1264.60V696.55H1267.84V696.13H1271.09V694.63H1274.34V696.55H1277.59V694.50H1280.83V695.04H1284.08V697.13H1287.33V697.05H1290.58V696.33H1293.82V694.98H1297.07V696.25H1300.32V696.04H1303.57V697.29H1306.81V698.84H1310.06V697.10H1313.31V696.31H1316.56V696.07H1319.80V697.19H1323.05V697.20H1326.30V696.44H1329.55V697.69H1332.79V696.66H1336.04V700.19H1339.29V698.83H1342.54V698.93H1345.78V699.77H1349.03V698.52H1352.28V697.98H1355.53V697.79H1358.77V697.88H1362.02V697.06H1365.27V696.97H1368.52V699.02H1371.76V698.16H1375.01V698.55H1378.26V699.28H1381.51V696.83H1384.75V697.69H1388.00" fill="none" stroke="#87C8FA" stroke-width="1.65"/><path d="M89.00,615.96H92.25V614.89H95.50V613.82H98.74V613.50H101.99V615.78H105.24V616.03H108.48V615.75H111.73V615.47H114.98V613.59H118.23V613.66H121.47V614.95H124.72V615.12H127.97V615.07H131.22V613.76H134.47V612.88H137.71V610.87H140.96V611.63H144.21V611.60H147.45V612.01H150.70V611.29H153.95V609.02H157.20V608.80H160.44V606.92H163.69V608.39H166.94V608.84H170.19V609.21H173.44V607.63H176.68V609.41H179.93V606.96H183.18V608.14H186.43V606.03H189.67V606.36H192.92V603.99H196.17V605.30H199.42V607.09H202.66V606.04H205.91V607.62H209.16V609.28H212.41V608.44H215.65V608.77H218.90V608.48H222.15V607.79H225.40V606.08H228.64V607.01H231.89V608.04H235.14V605.35H238.38V607.44H241.63V606.68H244.88V605.85H248.13V608.05H251.38V606.69H254.62V604.46H257.87V604.98H261.12V604.89H264.37V604.01H267.61V604.72H270.86V604.00H274.11V604.62H277.36V605.30H280.60V603.39H283.85V604.18H287.10V603.58H290.35V604.11H293.59V601.50H296.84V603.48H300.09V603.82H303.34V604.81H306.58V605.03H309.83V602.99H313.08V604.14H316.32V606.34H319.57V604.84H322.82V606.83H326.07V607.69H329.31V609.40H332.56V609.32H335.81V608.75H339.06V609.03H342.31V609.44H345.55V611.26H348.80V609.61H352.05V609.51H355.30V609.59H358.54V608.89H361.79V609.43H365.04V609.90H368.29V612.31H371.53V612.89H374.78V616.10H378.03V614.31H381.27V613.82H384.52V614.57H387.77V613.85H391.02V615.37H394.26V614.76H397.51V615.66H400.76V614.37H404.01V616.27H407.25V614.92H410.50V615.11H413.75V617.18H417.00V617.14H420.25V618.62H423.49V621.02H426.74V618.75H429.99V617.86H433.24V620.47H436.48V621.04H439.73V620.74H442.98V622.97H446.23V622.14H449.47V622.27H452.72V621.17H455.97V622.36H459.21V622.84H462.46V622.34H465.71V624.07H468.96V623.60H472.20V625.72H475.45V625.40H478.70V625.66H481.95V625.37H485.19V626.07H488.44V624.60H491.69V627.17H494.94V627.14H498.19V625.03H501.43V627.76H504.68V625.43H507.93V627.68H511.18V626.89H514.42V630.50H517.67V630.11H520.92V628.58H524.16V631.06H527.41V631.20H530.66V629.88H533.91V630.36H537.15V631.59H540.40V631.95H543.65V634.38H546.90V632.82H550.14V633.04H553.39V632.15H556.64V632.27H559.89V632.45H563.13V635.99H566.38V635.97H569.63V638.46H572.88V638.87H576.12V637.44H579.37V639.84H582.62V640.36H585.87V642.35H589.12V641.58H592.36V643.69H595.61V642.47H598.86V642.64H602.11V644.49H605.35V641.96H608.60V641.16H611.85V641.96H615.10V642.37H618.34V638.93H621.59V638.37H624.84V636.71H628.09V636.34H631.33V640.92H634.58V643.81H637.83V643.91H641.08V644.41H644.32V646.82H647.57V647.62H650.82V649.17H654.07V647.19H657.31V643.50H660.56V644.75H663.81V644.93H667.05V645.25H670.30V645.95H673.55V646.92H676.80V648.54H680.04V650.83H683.29V650.16H686.54V649.68H689.79V648.88H693.03V648.92H696.28V647.77H699.53V647.38H702.78V645.08H706.02V647.02H709.27V650.03H712.52V650.87H715.77V650.42H719.01V651.35H722.26V651.82H725.51V654.04H728.76V652.40H732.00V651.47H735.25V653.66H738.50V651.70H741.75V654.18H745.00V654.45H748.24V655.36H751.49V656.80H754.74V656.97H757.99V655.13H761.23V653.66H764.48V657.94H767.73V656.86H770.98V658.46H774.22V659.93H777.47V658.29H780.72V658.24H783.97V660.40H787.21V659.98H790.46V659.37H793.71V659.28H796.96V658.25H800.20V657.75H803.45V659.61H806.70V659.81H809.95V658.28H813.19V662.68H816.44V662.66H819.69V663.34H822.93V662.21H826.18V662.59H829.43V662.36H832.68V662.57H835.92V663.74H839.17V663.36H842.42V665.12H845.67V665.86H848.91V668.14H852.16V665.90H855.41V668.40H858.66V667.37H861.90V667.14H865.15V665.70H868.40V667.89H871.65V672.06H874.89V670.86H878.14V671.51H881.39V671.61H884.64V673.43H887.88V673.08H891.13V671.78H894.38V673.47H897.63V672.33H900.88V671.17H904.12V673.62H907.37V673.70H910.62V674.14H913.87V673.21H917.11V674.05H920.36V675.00H923.61V676.70H926.86V677.04H930.10V677.07H933.35V677.24H936.60V677.99H939.85V677.81H943.09V677.55H946.34V675.00H949.59V677.89H952.84V676.87H956.08V678.56H959.33V676.54H962.58V676.32H965.83V678.69H969.07V678.48H972.32V682.35H975.57V681.45H978.82V682.56H982.06V684.47H985.31V684.59H988.56V680.44H991.80V685.10H995.05V685.08H998.30V685.43H1001.55V684.60H1004.79V685.53H1008.04V685.82H1011.29V685.91H1014.54V686.74H1017.78V686.65H1021.03V688.23H1024.28V686.55H1027.53V686.90H1030.78V685.84H1034.02V689.13H1037.27V688.86H1040.52V689.14H1043.76V689.45H1047.01V689.69H1050.26V690.09H1053.51V689.38H1056.76V688.77H1060.00V688.11H1063.25V688.40H1066.50V686.52H1069.74V685.06H1072.99V683.92H1076.24V683.54H1079.49V685.58H1082.74V684.72H1085.98V684.54H1089.23V684.43H1092.48V684.05H1095.72V685.29H1098.97V686.44H1102.22V685.64H1105.47V686.18H1108.72V686.63H1111.96V687.39H1115.21V686.35H1118.46V688.05H1121.70V687.96H1124.95V689.97H1128.20V688.88H1131.45V688.53H1134.69V691.59H1137.94V690.22H1141.19V690.23H1144.44V691.21H1147.68V692.56H1150.93V690.62H1154.18V692.16H1157.43V693.79H1160.67V691.96H1163.92V692.23H1167.17V691.69H1170.42V693.14H1173.66V691.95H1176.91V692.30H1180.16V694.68H1183.41V692.95H1186.65V694.97H1189.90V695.61H1193.15V692.53H1196.40V695.19H1199.64V696.67H1202.89V694.94H1206.14V694.79H1209.39V694.29H1212.63V695.72H1215.88V697.18H1219.13V696.86H1222.38V693.88H1225.62V695.48H1228.87V695.91H1232.12V696.74H1235.37V696.40H1238.62V696.88H1241.86V697.05H1245.11V695.16H1248.36V696.95H1251.61V697.28H1254.85V697.13H1258.10V697.79H1261.35V699.15H1264.60V698.15H1267.84V697.82H1271.09V696.42H1274.34V698.46H1277.59V696.54H1280.83V697.20H1284.08V699.41H1287.33V699.45H1290.58V698.85H1293.82V697.60H1297.07V698.95H1300.32V698.80H1303.57V700.10H1306.81V701.67H1310.06V699.93H1313.31V699.12H1316.56V698.86H1319.80V699.94H1323.05V699.91H1326.30V699.11H1329.55V700.33H1332.79V699.26H1336.04V702.78H1339.29V701.41H1342.54V701.50H1345.78V702.37H1349.03V701.15H1352.28V700.65H1355.53V700.50H1358.77V700.63H1362.02V699.84H1365.27V699.79H1368.52V701.88H1371.76V701.08H1375.01V701.52H1378.26V702.31H1381.51V699.92H1384.75V700.86H1388.00" fill="none" stroke="rgba(255,255,255,0.55)" stroke-width="2.8"/><path d="M89.00,615.96H92.25V614.89H95.50V613.82H98.74V613.50H101.99V615.78H105.24V616.03H108.48V615.75H111.73V615.47H114.98V613.59H118.23V613.66H121.47V614.95H124.72V615.12H127.97V615.07H131.22V613.76H134.47V612.88H137.71V610.87H140.96V611.63H144.21V611.60H147.45V612.01H150.70V611.29H153.95V609.02H157.20V608.80H160.44V606.92H163.69V608.39H166.94V608.84H170.19V609.21H173.44V607.63H176.68V609.41H179.93V606.96H183.18V608.14H186.43V606.03H189.67V606.36H192.92V603.99H196.17V605.30H199.42V607.09H202.66V606.04H205.91V607.62H209.16V609.28H212.41V608.44H215.65V608.77H218.90V608.48H222.15V607.79H225.40V606.08H228.64V607.01H231.89V608.04H235.14V605.35H238.38V607.44H241.63V606.68H244.88V605.85H248.13V608.05H251.38V606.69H254.62V604.46H257.87V604.98H261.12V604.89H264.37V604.01H267.61V604.72H270.86V604.00H274.11V604.62H277.36V605.30H280.60V603.39H283.85V604.18H287.10V603.58H290.35V604.11H293.59V601.50H296.84V603.48H300.09V603.82H303.34V604.81H306.58V605.03H309.83V602.99H313.08V604.14H316.32V606.34H319.57V604.84H322.82V606.83H326.07V607.69H329.31V609.40H332.56V609.32H335.81V608.75H339.06V609.03H342.31V609.44H345.55V611.26H348.80V609.61H352.05V609.51H355.30V609.59H358.54V608.89H361.79V609.43H365.04V609.90H368.29V612.31H371.53V612.89H374.78V616.10H378.03V614.31H381.27V613.82H384.52V614.57H387.77V613.85H391.02V615.37H394.26V614.76H397.51V615.66H400.76V614.37H404.01V616.27H407.25V614.92H410.50V615.11H413.75V617.18H417.00V617.14H420.25V618.62H423.49V621.02H426.74V618.75H429.99V617.86H433.24V620.47H436.48V621.04H439.73V620.74H442.98V622.97H446.23V622.14H449.47V622.27H452.72V621.17H455.97V622.36H459.21V622.84H462.46V622.34H465.71V624.07H468.96V623.60H472.20V625.72H475.45V625.40H478.70V625.66H481.95V625.37H485.19V626.07H488.44V624.60H491.69V627.17H494.94V627.14H498.19V625.03H501.43V627.76H504.68V625.43H507.93V627.68H511.18V626.89H514.42V630.50H517.67V630.11H520.92V628.58H524.16V631.06H527.41V631.20H530.66V629.88H533.91V630.36H537.15V631.59H540.40V631.95H543.65V634.38H546.90V632.82H550.14V633.04H553.39V632.15H556.64V632.27H559.89V632.45H563.13V635.99H566.38V635.97H569.63V638.46H572.88V638.87H576.12V637.44H579.37V639.84H582.62V640.36H585.87V642.35H589.12V641.58H592.36V643.69H595.61V642.47H598.86V642.64H602.11V644.49H605.35V641.96H608.60V641.16H611.85V641.96H615.10V642.37H618.34V638.93H621.59V638.37H624.84V636.71H628.09V636.34H631.33V640.92H634.58V643.81H637.83V643.91H641.08V644.41H644.32V646.82H647.57V647.62H650.82V649.17H654.07V647.19H657.31V643.50H660.56V644.75H663.81V644.93H667.05V645.25H670.30V645.95H673.55V646.92H676.80V648.54H680.04V650.83H683.29V650.16H686.54V649.68H689.79V648.88H693.03V648.92H696.28V647.77H699.53V647.38H702.78V645.08H706.02V647.02H709.27V650.03H712.52V650.87H715.77V650.42H719.01V651.35H722.26V651.82H725.51V654.04H728.76V652.40H732.00V651.47H735.25V653.66H738.50V651.70H741.75V654.18H745.00V654.45H748.24V655.36H751.49V656.80H754.74V656.97H757.99V655.13H761.23V653.66H764.48V657.94H767.73V656.86H770.98V658.46H774.22V659.93H777.47V658.29H780.72V658.24H783.97V660.40H787.21V659.98H790.46V659.37H793.71V659.28H796.96V658.25H800.20V657.75H803.45V659.61H806.70V659.81H809.95V658.28H813.19V662.68H816.44V662.66H819.69V663.34H822.93V662.21H826.18V662.59H829.43V662.36H832.68V662.57H835.92V663.74H839.17V663.36H842.42V665.12H845.67V665.86H848.91V668.14H852.16V665.90H855.41V668.40H858.66V667.37H861.90V667.14H865.15V665.70H868.40V667.89H871.65V672.06H874.89V670.86H878.14V671.51H881.39V671.61H884.64V673.43H887.88V673.08H891.13V671.78H894.38V673.47H897.63V672.33H900.88V671.17H904.12V673.62H907.37V673.70H910.62V674.14H913.87V673.21H917.11V674.05H920.36V675.00H923.61V676.70H926.86V677.04H930.10V677.07H933.35V677.24H936.60V677.99H939.85V677.81H943.09V677.55H946.34V675.00H949.59V677.89H952.84V676.87H956.08V678.56H959.33V676.54H962.58V676.32H965.83V678.69H969.07V678.48H972.32V682.35H975.57V681.45H978.82V682.56H982.06V684.47H985.31V684.59H988.56V680.44H991.80V685.10H995.05V685.08H998.30V685.43H1001.55V684.60H1004.79V685.53H1008.04V685.82H1011.29V685.91H1014.54V686.74H1017.78V686.65H1021.03V688.23H1024.28V686.55H1027.53V686.90H1030.78V685.84H1034.02V689.13H1037.27V688.86H1040.52V689.14H1043.76V689.45H1047.01V689.69H1050.26V690.09H1053.51V689.38H1056.76V688.77H1060.00V688.11H1063.25V688.40H1066.50V686.52H1069.74V685.06H1072.99V683.92H1076.24V683.54H1079.49V685.58H1082.74V684.72H1085.98V684.54H1089.23V684.43H1092.48V684.05H1095.72V685.29H1098.97V686.44H1102.22V685.64H1105.47V686.18H1108.72V686.63H1111.96V687.39H1115.21V686.35H1118.46V688.05H1121.70V687.96H1124.95V689.97H1128.20V688.88H1131.45V688.53H1134.69V691.59H1137.94V690.22H1141.19V690.23H1144.44V691.21H1147.68V692.56H1150.93V690.62H1154.18V692.16H1157.43V693.79H1160.67V691.96H1163.92V692.23H1167.17V691.69H1170.42V693.14H1173.66V691.95H1176.91V692.30H1180.16V694.68H1183.41V692.95H1186.65V694.97H1189.90V695.61H1193.15V692.53H1196.40V695.19H1199.64V696.67H1202.89V694.94H1206.14V694.79H1209.39V694.29H1212.63V695.72H1215.88V697.18H1219.13V696.86H1222.38V693.88H1225.62V695.48H1228.87V695.91H1232.12V696.74H1235.37V696.40H1238.62V696.88H1241.86V697.05H1245.11V695.16H1248.36V696.95H1251.61V697.28H1254.85V697.13H1258.10V697.79H1261.35V699.15H1264.60V698.15H1267.84V697.82H1271.09V696.42H1274.34V698.46H1277.59V696.54H1280.83V697.20H1284.08V699.41H1287.33V699.45H1290.58V698.85H1293.82V697.60H1297.07V698.95H1300.32V698.80H1303.57V700.10H1306.81V701.67H1310.06V699.93H1313.31V699.12H1316.56V698.86H1319.80V699.94H1323.05V699.91H1326.30V699.11H1329.55V700.33H1332.79V699.26H1336.04V702.78H1339.29V701.41H1342.54V701.50H1345.78V702.37H1349.03V701.15H1352.28V700.65H1355.53V700.50H1358.77V700.63H1362.02V699.84H1365.27V699.79H1368.52V701.88H1371.76V701.08H1375.01V701.52H1378.26V702.31H1381.51V699.92H1384.75V700.86H1388.00" fill="none" stroke="#FF4A14" stroke-width="1.65"/></g>
<rect x="1011.5" y="435.5" width="360" height="160" rx="5" fill="rgba(252,252,242,0.7)" stroke="#F9E0E0" stroke-width="1"/>
<rect x="1020.5" y="444.70" width="18.5" height="18.5" fill="#FF4810"/>
<text x="1042.5" y="461.30" font-family="Liberation Sans, sans-serif" font-size="16.5" fill="#333">Residual[Th_1_20kV_1ks+U_1_0.1pct_1].1</text>
<rect x="1020.5" y="466.13" width="18.5" height="18.5" fill="#0A4A8A"/>
<text x="1042.5" y="482.73" font-family="Liberation Sans, sans-serif" font-size="16.5" fill="#333">Th_1_20kV_1ks+U_1_0.1pct_1</text>
<rect x="1020.5" y="487.56" width="18.5" height="18.5" fill="#5B9E2E"/>
<text x="1042.5" y="504.16" font-family="Liberation Sans, sans-serif" font-size="16.5" fill="#333">Residual[Th_1_20kV_1ks+U_10pct_1].1</text>
<rect x="1020.5" y="508.99" width="18.5" height="18.5" fill="#7B0026"/>
<text x="1042.5" y="525.59" font-family="Liberation Sans, sans-serif" font-size="16.5" fill="#333">Residual[Th_1_20kV_1ks+U_1_5pct-1].1</text>
<rect x="1020.5" y="530.42" width="18.5" height="18.5" fill="#87C8FA"/>
<text x="1042.5" y="547.02" font-family="Liberation Sans, sans-serif" font-size="16.5" fill="#333">Residual[Th_1_20kV_1ks+U_1_2pct-1].1</text>
<rect x="1020.5" y="551.85" width="18.5" height="18.5" fill="#2E3A0C"/>
<text x="1042.5" y="568.45" font-family="Liberation Sans, sans-serif" font-size="16.5" fill="#333">Residual[Th_1_20kV_1ks+U_1_1pct-1].1</text>
<rect x="1020.5" y="573.28" width="18.5" height="18.5" fill="#B0CC00"/>
<text x="1042.5" y="589.88" font-family="Liberation Sans, sans-serif" font-size="16.5" fill="#333">Residual[Th_1_20kV_1ks+U_1_1pct-1]</text>
<clipPath id="mclip"><rect x="89.0" y="429" width="1299.0" height="385.3"/></clipPath>
<g clip-path="url(#mclip)">
<line x1="254.4" y1="755.70" x2="254.4" y2="814.3" stroke="#505050" stroke-width="1.6"/>
<path d="M249.55,748.40H259.25L254.40,755.70Z" fill="none" stroke="#3A3A3A" stroke-width="1.5" stroke-linejoin="miter"/>
<rect x="240.10" y="645.90" width="35.8" height="97.50" rx="4" fill="rgba(255,255,255,0.55)" stroke="rgba(245,190,190,0.45)" stroke-width="1"/>
<text transform="translate(248.80,650.00) rotate(90)" font-family="Liberation Sans, sans-serif" font-size="22" fill="#333">U M4-N2</text>
<line x1="288.7" y1="733.70" x2="288.7" y2="814.3" stroke="#505050" stroke-width="1.6"/>
<path d="M283.85,726.40H293.55L288.70,733.70Z" fill="none" stroke="#3A3A3A" stroke-width="1.5" stroke-linejoin="miter"/>
<rect x="274.40" y="623.90" width="35.8" height="97.50" rx="4" fill="rgba(255,255,255,0.55)" stroke="rgba(245,190,190,0.45)" stroke-width="1"/>
<text transform="translate(283.10,628.00) rotate(90)" font-family="Liberation Sans, sans-serif" font-size="22" fill="#333">U M5-N3</text>
<line x1="519.6" y1="792.80" x2="519.6" y2="814.3" stroke="#505050" stroke-width="1.6"/>
<path d="M514.75,785.50H524.45L519.60,792.80Z" fill="none" stroke="#3A3A3A" stroke-width="1.5" stroke-linejoin="miter"/>
<rect x="505.30" y="683.00" width="35.8" height="97.50" rx="4" fill="rgba(255,255,255,0.55)" stroke="rgba(245,190,190,0.45)" stroke-width="1"/>
<text transform="translate(514.00,687.10) rotate(90)" font-family="Liberation Sans, sans-serif" font-size="22" fill="#333">U M3-N1</text>
<line x1="712.6" y1="429.00" x2="712.6" y2="814.3" stroke="#505050" stroke-width="1.6"/>
<rect x="698.30" y="434.20" width="35.8" height="97.50" rx="4" fill="rgba(255,255,255,0.55)" stroke="rgba(245,190,190,0.45)" stroke-width="1"/>
<text transform="translate(707.00,438.30) rotate(90)" font-family="Liberation Sans, sans-serif" font-size="22" fill="#333">U M5-N6</text>
<line x1="719.4" y1="429.00" x2="719.4" y2="814.3" stroke="#505050" stroke-width="1.6"/>
<rect x="705.10" y="434.20" width="35.8" height="97.50" rx="4" fill="rgba(255,255,255,0.55)" stroke="rgba(245,190,190,0.45)" stroke-width="1"/>
<text transform="translate(713.80,438.30) rotate(90)" font-family="Liberation Sans, sans-serif" font-size="22" fill="#333">U M5-N7</text>
<line x1="826.8" y1="429.00" x2="826.8" y2="814.3" stroke="#505050" stroke-width="1.6"/>
<rect x="812.50" y="434.20" width="35.8" height="97.50" rx="4" fill="rgba(255,255,255,0.55)" stroke="rgba(245,190,190,0.45)" stroke-width="1"/>
<text transform="translate(821.20,438.30) rotate(90)" font-family="Liberation Sans, sans-serif" font-size="22" fill="#333">U M4-N6</text>
<line x1="912.7" y1="796.70" x2="912.7" y2="814.3" stroke="#505050" stroke-width="1.6"/>
<path d="M907.85,789.40H917.55L912.70,796.70Z" fill="none" stroke="#3A3A3A" stroke-width="1.5" stroke-linejoin="miter"/>
<rect x="898.40" y="686.90" width="35.8" height="97.50" rx="4" fill="rgba(255,255,255,0.55)" stroke="rgba(245,190,190,0.45)" stroke-width="1"/>
<text transform="translate(907.10,691.00) rotate(90)" font-family="Liberation Sans, sans-serif" font-size="22" fill="#333">U M4-O2</text>
<line x1="948.0" y1="696.00" x2="948.0" y2="814.3" stroke="#505050" stroke-width="1.6"/>
<path d="M943.15,688.70H952.85L948.00,696.00Z" fill="none" stroke="#3A3A3A" stroke-width="1.5" stroke-linejoin="miter"/>
<rect x="933.70" y="586.20" width="35.8" height="97.50" rx="4" fill="rgba(255,255,255,0.55)" stroke="rgba(245,190,190,0.45)" stroke-width="1"/>
<text transform="translate(942.40,590.30) rotate(90)" font-family="Liberation Sans, sans-serif" font-size="22" fill="#333">U M3-N4</text>
<line x1="976.1" y1="429.00" x2="976.1" y2="814.3" stroke="#505050" stroke-width="1.6"/>
<rect x="961.80" y="434.20" width="35.8" height="97.50" rx="4" fill="rgba(255,255,255,0.55)" stroke="rgba(245,190,190,0.45)" stroke-width="1"/>
<text transform="translate(970.50,438.30) rotate(90)" font-family="Liberation Sans, sans-serif" font-size="22" fill="#333">U M3-N5</text>
<line x1="1089.6" y1="683.30" x2="1089.6" y2="814.3" stroke="#505050" stroke-width="1.6"/>
<path d="M1084.75,676.00H1094.45L1089.60,683.30Z" fill="none" stroke="#3A3A3A" stroke-width="1.5" stroke-linejoin="miter"/>
<rect x="1075.30" y="573.50" width="35.8" height="97.50" rx="4" fill="rgba(255,255,255,0.55)" stroke="rgba(245,190,190,0.45)" stroke-width="1"/>
<text transform="translate(1084.00,577.60) rotate(90)" font-family="Liberation Sans, sans-serif" font-size="22" fill="#333">U M2-N1</text>
<line x1="1244.8" y1="810.60" x2="1244.8" y2="814.3" stroke="#505050" stroke-width="1.6"/>
<path d="M1239.95,803.30H1249.65L1244.80,810.60Z" fill="none" stroke="#3A3A3A" stroke-width="1.5" stroke-linejoin="miter"/>
<rect x="1230.50" y="700.80" width="35.8" height="97.50" rx="4" fill="rgba(255,255,255,0.55)" stroke="rgba(245,190,190,0.45)" stroke-width="1"/>
<text transform="translate(1239.20,704.90) rotate(90)" font-family="Liberation Sans, sans-serif" font-size="22" fill="#333">U M3-O1</text>
<line x1="1390.0" y1="770.80" x2="1390.0" y2="814.3" stroke="#505050" stroke-width="1.6"/>
<path d="M1385.15,763.50H1394.85L1390.00,770.80Z" fill="none" stroke="#3A3A3A" stroke-width="1.5" stroke-linejoin="miter"/>
<rect x="1375.70" y="634.70" width="35.8" height="123.80" rx="4" fill="rgba(255,255,255,0.55)" stroke="rgba(245,190,190,0.45)" stroke-width="1"/>
<text transform="translate(1384.40,638.80) rotate(90)" font-family="Liberation Sans, sans-serif" font-size="22" fill="#333">U M3-O4, 5</text>
</g>
<line x1="89.0" y1="429.0" x2="1388.8" y2="429.0" stroke="#9A9A9A" stroke-width="1.6"/>
<line x1="1388.0" y1="428.2" x2="1388.0" y2="814.3" stroke="#6E6E6E" stroke-width="1.6"/>
<line x1="89.0" y1="428.2" x2="89.0" y2="814.3" stroke="#A0A0A0" stroke-width="1.8"/>
<line x1="89.0" y1="814.3" x2="1388.8" y2="814.3" stroke="#767676" stroke-width="1.8"/>
<line x1="83.0" y1="814.30" x2="89.0" y2="814.30" stroke="#555" stroke-width="1.6"/>
<text x="81" y="820.10" font-family="Liberation Sans, sans-serif" font-size="16.2" fill="#3A3A3A" text-anchor="end">0</text>
<line x1="83.0" y1="694.30" x2="89.0" y2="694.30" stroke="#555" stroke-width="1.6"/>
<text x="81" y="700.10" font-family="Liberation Sans, sans-serif" font-size="16.2" fill="#3A3A3A" text-anchor="end">50 000</text>
<line x1="83.0" y1="574.30" x2="89.0" y2="574.30" stroke="#555" stroke-width="1.6"/>
<text x="81" y="580.10" font-family="Liberation Sans, sans-serif" font-size="16.2" fill="#3A3A3A" text-anchor="end">100 000</text>
<line x1="83.0" y1="454.30" x2="89.0" y2="454.30" stroke="#555" stroke-width="1.6"/>
<text x="81" y="460.10" font-family="Liberation Sans, sans-serif" font-size="16.2" fill="#3A3A3A" text-anchor="end">150 000</text>
<line x1="89.00" y1="813.3" x2="89.00" y2="821.3" stroke="#555" stroke-width="1.6"/>
<text x="89.00" y="835.3" font-family="Liberation Sans, sans-serif" font-size="16.2" fill="#3A3A3A" text-anchor="middle">2.2</text>
<line x1="218.90" y1="813.3" x2="218.90" y2="821.3" stroke="#555" stroke-width="1.6"/>
<text x="218.90" y="835.3" font-family="Liberation Sans, sans-serif" font-size="16.2" fill="#3A3A3A" text-anchor="middle">2.4</text>
<line x1="348.80" y1="813.3" x2="348.80" y2="821.3" stroke="#555" stroke-width="1.6"/>
<text x="348.80" y="835.3" font-family="Liberation Sans, sans-serif" font-size="16.2" fill="#3A3A3A" text-anchor="middle">2.6</text>
<line x1="478.70" y1="813.3" x2="478.70" y2="821.3" stroke="#555" stroke-width="1.6"/>
<text x="478.70" y="835.3" font-family="Liberation Sans, sans-serif" font-size="16.2" fill="#3A3A3A" text-anchor="middle">2.8</text>
<line x1="608.60" y1="813.3" x2="608.60" y2="821.3" stroke="#555" stroke-width="1.6"/>
<text x="608.60" y="835.3" font-family="Liberation Sans, sans-serif" font-size="16.2" fill="#3A3A3A" text-anchor="middle">3.0</text>
<line x1="738.50" y1="813.3" x2="738.50" y2="821.3" stroke="#555" stroke-width="1.6"/>
<text x="738.50" y="835.3" font-family="Liberation Sans, sans-serif" font-size="16.2" fill="#3A3A3A" text-anchor="middle">3.2</text>
<line x1="868.40" y1="813.3" x2="868.40" y2="821.3" stroke="#555" stroke-width="1.6"/>
<text x="868.40" y="835.3" font-family="Liberation Sans, sans-serif" font-size="16.2" fill="#3A3A3A" text-anchor="middle">3.4</text>
<line x1="998.30" y1="813.3" x2="998.30" y2="821.3" stroke="#555" stroke-width="1.6"/>
<text x="998.30" y="835.3" font-family="Liberation Sans, sans-serif" font-size="16.2" fill="#3A3A3A" text-anchor="middle">3.6</text>
<line x1="1128.20" y1="813.3" x2="1128.20" y2="821.3" stroke="#555" stroke-width="1.6"/>
<text x="1128.20" y="835.3" font-family="Liberation Sans, sans-serif" font-size="16.2" fill="#3A3A3A" text-anchor="middle">3.8</text>
<line x1="1258.10" y1="813.3" x2="1258.10" y2="821.3" stroke="#555" stroke-width="1.6"/>
<text x="1258.10" y="835.3" font-family="Liberation Sans, sans-serif" font-size="16.2" fill="#3A3A3A" text-anchor="middle">4.0</text>
<line x1="1388.00" y1="813.3" x2="1388.00" y2="821.3" stroke="#555" stroke-width="1.6"/>
<text x="1388.00" y="835.3" font-family="Liberation Sans, sans-serif" font-size="16.2" fill="#3A3A3A" text-anchor="middle">4.2</text>
<text x="738.5" y="853" font-family="Liberation Sans, sans-serif" font-size="16.2" fill="#3A3A3A" text-anchor="middle">Energy (keV)</text>
<text transform="translate(14.5,622) rotate(-90)" font-family="Liberation Sans, sans-serif" font-size="16.2" fill="#3A3A3A" text-anchor="middle">Counts</text>
</svg></body></html>
